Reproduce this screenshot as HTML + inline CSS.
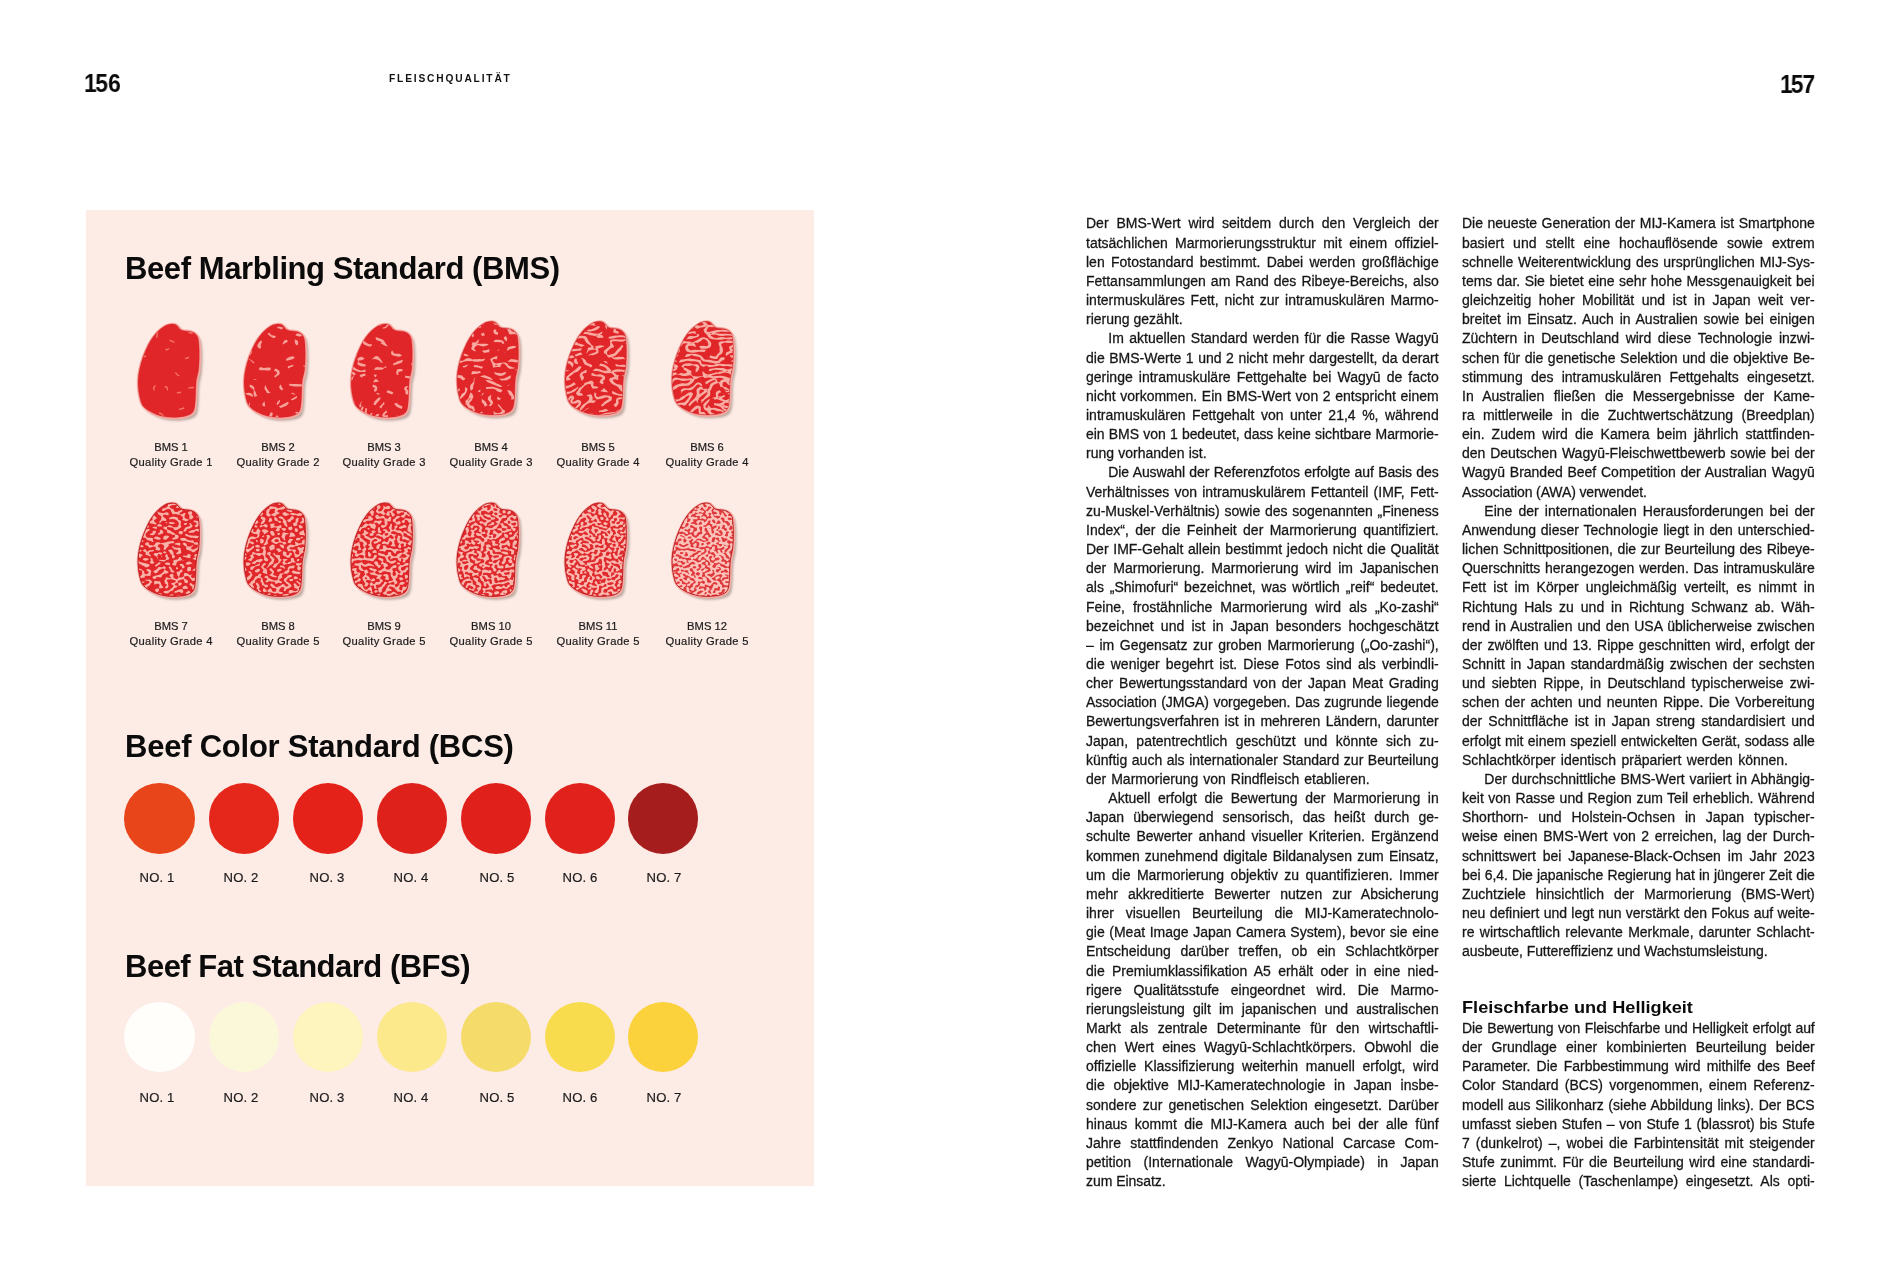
<!DOCTYPE html><html lang="de"><head><meta charset="utf-8"><title>Fleischqualität</title><style>
html,body{margin:0;padding:0}
.col,.t,.ml,.no,.rh,.pn{will-change:transform}
body{width:1900px;height:1280px;background:#fff;position:relative;overflow:hidden;font-family:"Liberation Sans",sans-serif;color:#111}
.pn{position:absolute;font-weight:bold;line-height:28px;color:#0a0a0a;white-space:nowrap;transform-origin:0 0;transform:scaleX(.9)}
.rh{position:absolute;left:389.2px;top:72.2px;font-weight:bold;font-size:10.2px;line-height:14px;letter-spacing:1.84px;color:#111;white-space:nowrap}
.panel{position:absolute;left:85.5px;top:209.7px;width:728.5px;height:976.8px;background:#fdebe5}
.t{position:absolute;left:125px;font-weight:bold;font-size:31px;line-height:36px;white-space:nowrap;color:#0b0b0b}
.meats{position:absolute;left:86px;top:300px}
.ml{position:absolute;width:106px;text-align:center;font-size:11.2px;line-height:15px;color:#1a1a1a;white-space:nowrap;-webkit-text-stroke:.2px #1a1a1a}
.ml .q{letter-spacing:.33px;margin-right:-.33px}
.circ{position:absolute;width:70.4px;height:70.4px;border-radius:50%}
.no{position:absolute;width:80px;text-align:center;font-size:13.1px;line-height:16px;color:#1a1a1a;white-space:nowrap;letter-spacing:.12px;-webkit-text-stroke:.2px #1a1a1a}
.col{position:absolute;top:214px;padding-top:0.42px;width:352.7px;font-size:14px;line-height:19.158px;color:#161616;-webkit-text-stroke:.28px #161616}
.l{height:19.158px;white-space:nowrap;box-sizing:border-box}
.l.j{white-space:normal;text-align:justify;text-align-last:justify;overflow:hidden}
.l.h{font-weight:bold;font-size:17.3px;letter-spacing:0;color:#0b0b0b;position:relative;top:-1.7px;-webkit-text-stroke:0;transform-origin:0 50%;transform:scaleX(1.05)}
</style></head><body>
<div class="pn" style="left:84px;top:68.6px;font-size:25.4px;letter-spacing:0"><span style="letter-spacing:-1.6px">1</span>56</div>
<div class="rh">FLEISCHQUALITÄT</div>
<div class="pn" style="left:1779.6px;top:69.9px;font-size:25.3px;letter-spacing:-.9px"><span style="letter-spacing:-2.2px">1</span>57</div>
<div class="panel"></div>
<div class="t" style="top:250.5px;letter-spacing:-.41px">Beef Marbling Standard (BMS)</div>
<svg class="meats" width="728" height="420" viewBox="86 300 728 420">
<defs><clipPath id="mc"><path d="M26,2.6 C29,0 35.5,-0.8 38.5,1.2 C40.5,2.6 41.5,5.8 44.5,6.4 C48,7.1 52,6.8 55,8.3 C58,10 60,12 60.5,16 C61.6,24 61.6,36 60.6,46 C60.1,50 58.8,53 58.3,57 C57.5,64 58,73 57,81 C56.6,85.5 55.5,88.5 52.5,90.3 C50,91.6 47.5,92.4 45,92.7 C41,93.3 36,93.5 32,93.3 C26,93 20,91.5 15,89 C9,86 4.5,83 3,78 C0.8,71 -0.2,63 0.1,56 C0.5,48 2.5,40 5,33 C8,25 11,18.5 15,13 C18.5,8 22.5,4.8 26,2.6 Z"/></clipPath>
<filter id="sh" x="-20%" y="-20%" width="150%" height="150%"><feGaussianBlur stdDeviation="1.3"/></filter></defs>
<g transform="translate(138 324)">
<path d="M26,2.6 C29,0 35.5,-0.8 38.5,1.2 C40.5,2.6 41.5,5.8 44.5,6.4 C48,7.1 52,6.8 55,8.3 C58,10 60,12 60.5,16 C61.6,24 61.6,36 60.6,46 C60.1,50 58.8,53 58.3,57 C57.5,64 58,73 57,81 C56.6,85.5 55.5,88.5 52.5,90.3 C50,91.6 47.5,92.4 45,92.7 C41,93.3 36,93.5 32,93.3 C26,93 20,91.5 15,89 C9,86 4.5,83 3,78 C0.8,71 -0.2,63 0.1,56 C0.5,48 2.5,40 5,33 C8,25 11,18.5 15,13 C18.5,8 22.5,4.8 26,2.6 Z" transform="translate(3.2 3.4)" fill="#7d6c62" opacity=".5" filter="url(#sh)"/>
<path d="M26,2.6 C29,0 35.5,-0.8 38.5,1.2 C40.5,2.6 41.5,5.8 44.5,6.4 C48,7.1 52,6.8 55,8.3 C58,10 60,12 60.5,16 C61.6,24 61.6,36 60.6,46 C60.1,50 58.8,53 58.3,57 C57.5,64 58,73 57,81 C56.6,85.5 55.5,88.5 52.5,90.3 C50,91.6 47.5,92.4 45,92.7 C41,93.3 36,93.5 32,93.3 C26,93 20,91.5 15,89 C9,86 4.5,83 3,78 C0.8,71 -0.2,63 0.1,56 C0.5,48 2.5,40 5,33 C8,25 11,18.5 15,13 C18.5,8 22.5,4.8 26,2.6 Z" transform="translate(.35 .35)" fill="#e1262a" stroke="#f8a9a1" stroke-width="3.3" stroke-linejoin="round"/>
<path d="M26,2.6 C29,0 35.5,-0.8 38.5,1.2 C40.5,2.6 41.5,5.8 44.5,6.4 C48,7.1 52,6.8 55,8.3 C58,10 60,12 60.5,16 C61.6,24 61.6,36 60.6,46 C60.1,50 58.8,53 58.3,57 C57.5,64 58,73 57,81 C56.6,85.5 55.5,88.5 52.5,90.3 C50,91.6 47.5,92.4 45,92.7 C41,93.3 36,93.5 32,93.3 C26,93 20,91.5 15,89 C9,86 4.5,83 3,78 C0.8,71 -0.2,63 0.1,56 C0.5,48 2.5,40 5,33 C8,25 11,18.5 15,13 C18.5,8 22.5,4.8 26,2.6 Z" fill="#e1262a"/>
<g clip-path="url(#mc)"><path transform="scale(.25)" d="M144 73l-5-3-6-2-5-3M191 138l6-2 5-2M204 256l6-1 6-1 6 0M170 274l-6 0-6 1M86 356l5 2 5 4 4 4M183 336l-5 2-6 2-6 1M204 34l6 1 6 2M79 36l-3 5 0 6-1 6M68 248l-4 5-2 6 3 5M30 129l-6 1M164 207l-5-3-5-4-3-5M109 251l6 1 2 5 1 6M112 103l6-1 5-3" fill="none" stroke="#f2746a" stroke-width="5.6" stroke-linecap="round" stroke-linejoin="round"/></g>
<path d="M26,2.6 C29,0 35.5,-0.8 38.5,1.2 C40.5,2.6 41.5,5.8 44.5,6.4 C48,7.1 52,6.8 55,8.3 C58,10 60,12 60.5,16 C61.6,24 61.6,36 60.6,46 C60.1,50 58.8,53 58.3,57 C57.5,64 58,73 57,81 C56.6,85.5 55.5,88.5 52.5,90.3 C50,91.6 47.5,92.4 45,92.7 C41,93.3 36,93.5 32,93.3 C26,93 20,91.5 15,89 C9,86 4.5,83 3,78 C0.8,71 -0.2,63 0.1,56 C0.5,48 2.5,40 5,33 C8,25 11,18.5 15,13 C18.5,8 22.5,4.8 26,2.6 Z" fill="none" stroke="#b3181d" stroke-width=".7" opacity=".3"/>
</g>
<g transform="translate(244 324)">
<path d="M26,2.6 C29,0 35.5,-0.8 38.5,1.2 C40.5,2.6 41.5,5.8 44.5,6.4 C48,7.1 52,6.8 55,8.3 C58,10 60,12 60.5,16 C61.6,24 61.6,36 60.6,46 C60.1,50 58.8,53 58.3,57 C57.5,64 58,73 57,81 C56.6,85.5 55.5,88.5 52.5,90.3 C50,91.6 47.5,92.4 45,92.7 C41,93.3 36,93.5 32,93.3 C26,93 20,91.5 15,89 C9,86 4.5,83 3,78 C0.8,71 -0.2,63 0.1,56 C0.5,48 2.5,40 5,33 C8,25 11,18.5 15,13 C18.5,8 22.5,4.8 26,2.6 Z" transform="translate(3.2 3.4)" fill="#7d6c62" opacity=".5" filter="url(#sh)"/>
<path d="M26,2.6 C29,0 35.5,-0.8 38.5,1.2 C40.5,2.6 41.5,5.8 44.5,6.4 C48,7.1 52,6.8 55,8.3 C58,10 60,12 60.5,16 C61.6,24 61.6,36 60.6,46 C60.1,50 58.8,53 58.3,57 C57.5,64 58,73 57,81 C56.6,85.5 55.5,88.5 52.5,90.3 C50,91.6 47.5,92.4 45,92.7 C41,93.3 36,93.5 32,93.3 C26,93 20,91.5 15,89 C9,86 4.5,83 3,78 C0.8,71 -0.2,63 0.1,56 C0.5,48 2.5,40 5,33 C8,25 11,18.5 15,13 C18.5,8 22.5,4.8 26,2.6 Z" transform="translate(.35 .35)" fill="#e1262a" stroke="#f8a9a1" stroke-width="3.3" stroke-linejoin="round"/>
<path d="M26,2.6 C29,0 35.5,-0.8 38.5,1.2 C40.5,2.6 41.5,5.8 44.5,6.4 C48,7.1 52,6.8 55,8.3 C58,10 60,12 60.5,16 C61.6,24 61.6,36 60.6,46 C60.1,50 58.8,53 58.3,57 C57.5,64 58,73 57,81 C56.6,85.5 55.5,88.5 52.5,90.3 C50,91.6 47.5,92.4 45,92.7 C41,93.3 36,93.5 32,93.3 C26,93 20,91.5 15,89 C9,86 4.5,83 3,78 C0.8,71 -0.2,63 0.1,56 C0.5,48 2.5,40 5,33 C8,25 11,18.5 15,13 C18.5,8 22.5,4.8 26,2.6 Z" fill="#e1262a"/>
<g clip-path="url(#mc)"><path transform="scale(.25)" d="M263 6l-13-7-15-10-9-3-2-7 14 2 7 3 7 4 5 4 2 8 2 3 3 2zM88 3l-11-6-12-2-12 0-4-1-2-1 1-1 15-4 2-2-1-3 1-1 5 6 6 1-1 1 1 3 2 1 3 1 3 0 2-1-4-4-4-1 2-1 11-3 11 3-4 4zM147-5l-7 1-8-1-4-7 14-3 3-1 1-2 1 1 3 3 3 6-1 1zM5 8l-3 0 0-4-2-6 8-3 3 5 1 5zM151 22l-10-4-8-2 1-5 11 0 11 3-2 5zM24 38l-8-2-16-3-5 0-5 1 0-1 2-7 10-2 6 0 12 3 4 7 1 3zM122 56l-1 1-6-2-9-5-8-7-3-4 1-2 5-2 7 8 3 2 16 3 1 1-1 1zM248 48l0-1 0-2 5-7 15-3 1 11-12 1zM227 49l-7 1-5-1-5-2-4-2 0-1 3-4 4-2 8 0 7 4 5 6zM214 86l-6-3-3-4-2-8 0-7 1-2 8 3 2 2 2 3 1 7zM155 82l-1-1 2-6 5-8 2-2 4-1 3-1 2 1 3 5 0 2zM64 98l-2 1-1-1-5-4-2-4-1-5 3-5 6-9 7-6 3 8-3 5-2 6 0 5 2 6zM21 126l-7 1-6-1-1-8 0-1 10 0 3-2 2-2 2-5-1-7-3-4-5-3 9-1 1 0 6 9 1 3 0 4-1 6-3 6-2 3zM265 118l-6 0-5-1-3-2-4-5-1-2-1-3 5-8 4 0 4 1 1 0-1 3 1 2 6 3 2 6zM171 147l-1 1-1-2-1-6 13-8 12-3 6 2 4 4-5 4-7 3zM277 155l-11 0-5-2-3-2-4-4-7-11 0-4 7 7 9 3 2 3 3 3 4 0 6-1 0 8zM41 156l-2 1-3-1-8-9-11-7 0-1 8 3 8 5 9 8zM178 177l-2 1-1-8 1-1 21-6 1 0-2 7-8 2zM248 173l-4 0-3-2-2-2-2-3 1-1 5 1 11 4-2 2zM100 186l-6 0-13-1-14 0-6-2-2-1 0-1 3-6 6-3 4 2 7 2 18-2 10 1-1 10zM126 214l-6-5 8-6 4-5 0-4-2-3-10-4 0-1 6-8 1 0 13 8 1 2 2 9-1 3-2 3-9 6zM47 223l-6 0-3-1-1-1 8-1 4 1 2 1zM251 265l-4 1-4-2 3-6-1-2-2-3-6-2-6-1-30 0-20-4-1-1 0-2 2-3 2-1 7 1 19 0 36 2 9 11 2 4-1 4zM152 265l-1 1-5-4-6-9 3-7 4-4 6 14 2 2 3 2zM43 291l-2 0 0-4-3-6 1-11-1-6-5-6-10-6-1-8 1-1 9 2 4 3 3 3 3 6-1 3 0 4 5 7 3 10 2 3 3 1-4 4zM106 276l-10 1-4-1-1-1-3-7-6-8 1-9 2-8 3 8 5 9 5 8zM207 284l-16-5-2-1 0-1 3-2 5 1 6 4 4 4zM37 291l-6-1-3-2-3-2-8-1-14-7 17-3 6 1 4 2 4 4 3 8zM195 305l-5-1-3-2 19-11 4-3 1 0 1 4-1 4zM134 324l-1 1-2-4 0-3 1-3 5-7 7-5 0 4-1 5-3 5zM84 329l-9-1-1-1 0-8 8-10 1 7 2 13zM148 336l-7-4-2-1 1-1 36-19 1 1 1 2 0 4-5 6-4 3-10 4zM17 334l4-22 2 6 0 6-2 5zM243 340l-8-4-6-5 7 0 6 1 2 2 0 2 0 3zM-8 360l-19-9 7-4 3 1 8 0 4 1 2 2 0 1zM219 361l-13-3 0-3 1-4 18 2zM102 383l-7-7 4-6 8-17 8 3 0 3-1 5-3 6zM118 394l-1 0 0-4 3-9 6-10 5-6 1 0 6 5-11 14-1 4 0 4-1 1zM62 392l-4-4-4-6-3-7-1-5 6 3 4 5 2 7zM186 406l-5 0-9-3-6-5-2-4-2-5 1-5 1-4 3-1 5 1-3 3 1 3 10 8 7 12z" fill="#f7a399" fill-rule="evenodd"/></g>
<path d="M26,2.6 C29,0 35.5,-0.8 38.5,1.2 C40.5,2.6 41.5,5.8 44.5,6.4 C48,7.1 52,6.8 55,8.3 C58,10 60,12 60.5,16 C61.6,24 61.6,36 60.6,46 C60.1,50 58.8,53 58.3,57 C57.5,64 58,73 57,81 C56.6,85.5 55.5,88.5 52.5,90.3 C50,91.6 47.5,92.4 45,92.7 C41,93.3 36,93.5 32,93.3 C26,93 20,91.5 15,89 C9,86 4.5,83 3,78 C0.8,71 -0.2,63 0.1,56 C0.5,48 2.5,40 5,33 C8,25 11,18.5 15,13 C18.5,8 22.5,4.8 26,2.6 Z" fill="none" stroke="#b3181d" stroke-width=".7" opacity=".3"/>
</g>
<g transform="translate(351 324)">
<path d="M26,2.6 C29,0 35.5,-0.8 38.5,1.2 C40.5,2.6 41.5,5.8 44.5,6.4 C48,7.1 52,6.8 55,8.3 C58,10 60,12 60.5,16 C61.6,24 61.6,36 60.6,46 C60.1,50 58.8,53 58.3,57 C57.5,64 58,73 57,81 C56.6,85.5 55.5,88.5 52.5,90.3 C50,91.6 47.5,92.4 45,92.7 C41,93.3 36,93.5 32,93.3 C26,93 20,91.5 15,89 C9,86 4.5,83 3,78 C0.8,71 -0.2,63 0.1,56 C0.5,48 2.5,40 5,33 C8,25 11,18.5 15,13 C18.5,8 22.5,4.8 26,2.6 Z" transform="translate(3.2 3.4)" fill="#7d6c62" opacity=".5" filter="url(#sh)"/>
<path d="M26,2.6 C29,0 35.5,-0.8 38.5,1.2 C40.5,2.6 41.5,5.8 44.5,6.4 C48,7.1 52,6.8 55,8.3 C58,10 60,12 60.5,16 C61.6,24 61.6,36 60.6,46 C60.1,50 58.8,53 58.3,57 C57.5,64 58,73 57,81 C56.6,85.5 55.5,88.5 52.5,90.3 C50,91.6 47.5,92.4 45,92.7 C41,93.3 36,93.5 32,93.3 C26,93 20,91.5 15,89 C9,86 4.5,83 3,78 C0.8,71 -0.2,63 0.1,56 C0.5,48 2.5,40 5,33 C8,25 11,18.5 15,13 C18.5,8 22.5,4.8 26,2.6 Z" transform="translate(.35 .35)" fill="#e1262a" stroke="#f8a9a1" stroke-width="3.3" stroke-linejoin="round"/>
<path d="M26,2.6 C29,0 35.5,-0.8 38.5,1.2 C40.5,2.6 41.5,5.8 44.5,6.4 C48,7.1 52,6.8 55,8.3 C58,10 60,12 60.5,16 C61.6,24 61.6,36 60.6,46 C60.1,50 58.8,53 58.3,57 C57.5,64 58,73 57,81 C56.6,85.5 55.5,88.5 52.5,90.3 C50,91.6 47.5,92.4 45,92.7 C41,93.3 36,93.5 32,93.3 C26,93 20,91.5 15,89 C9,86 4.5,83 3,78 C0.8,71 -0.2,63 0.1,56 C0.5,48 2.5,40 5,33 C8,25 11,18.5 15,13 C18.5,8 22.5,4.8 26,2.6 Z" fill="#e1262a"/>
<g clip-path="url(#mc)"><path transform="scale(.25)" d="M134 18l-5 0-5-2 12-4 3-2 4-6 4-3 27-13 17-6 6-1 1 0 1 5-1 5-10 1-5 1-12 6-9 5-4-1-4 1-4 2-9 9zM112 8l-2-2-2-4 5-2 2-2 1-3 0-3 11-1 0 5-2 4-4 4zM50 18l-9-1 0-2-2-2-6-3-25-2 11-10 22 5 5 2 3 4 2 6 0 3zM234 23l-1 1-1-1-3-5-2-12 1-1 6 2 5 7 0 5-2 2zM-1 36l-1 1-6-2-6-3-1-1 8-1 4-2 0-3-5-12 11-2 1 0 3 7 0 4-3 8zM186 20l-2 0 2-2 4 1zM252 75l-1 1-1-1-6-6 0-1 5-4 5-2 5-1-1-1-10-2-9-2-1-1 1-4 2-5 8 0 12 6 4 1 2 4 1 3-2 1 2 1 2 10-7 0zM147 90l-16-5-2-1-2-3-2-1-2 1-5-4 4-1 1-2-2-2-5-3-13-4-3-4-2-8 3 0 7 2 16 6 5 3 3 3 5 9 3 3 3 5 4 5zM80 90l-4 0-7-1-15-6-7-7-8-14 8 0 1 3 2 2 8 5 10 7 5 2 11 0-1 4zM4 76l-1 0 1-1 2-4 7-6 0 3-1 3-3 3zM-12 115l-4 0-8-5-3-3 0-2 3-4 0-4 5-5 10-4 16-1 11-1 9 0-11 4-5 4-7 1-14 4-3 2-1 1 1 1 14 9zM196 130l-5 1-6-1-16-4-5-2-3-4-1-4 1-4 3-7 5 6 1 4 3 3 6 1 12 0 5 1 3 2 5 5zM20 133l-1-1-1-2-3-6 0-4 2-3 5 3 2 5 0 4zM127 157l-7-3-8-8-5-3-13-3-4 0-3 2-3-2 0-1 6-3 5-6 2-1 5-1 7 2 12 14 6 12zM55 170l-9 0-9-2-6-3-6-5 2-5 1-6-1-4-2-5 5-5 6-3 6-1 13 6-9 7-5 1-9 1-2 1 0 2 1 4 5 3 23 6-1 7zM171 166l-3-6 0-1 1-1 5-2 13-7 17-5 4 0-5 11-7 2-11 4-9 2zM263 175l-6 0-5-1-5-3-4-4-2-4 0-4 2-4 4-3 1 1 1 8 2 3 3 2 4 1 4-1 3-2 6-10 5-3 2 0 0 16-1 1-4 5zM121 183l-18 0-11 1 0-1 7-10 16 0 14 2 5-2 4-5 1 1 3 3 0 1-1 1-7 2-7 5zM56 192l-23 0-7-2-13-5-14-9 13-4 10 8 13 5 5 1 5 0 12-4 1 1 0 8zM186 204l-1 0-2-2-2-5 0-7 3-6 3-3 3-1 15 0 1 5 0 4-10 1-5 2-2 2 0 3 0 2 2 2-1 1zM-24 264l-4 0-3-1 0-17 5-11 3-4 4-4 16-10 10-7 3-3 0-2-3-4-5-3-7 0-5 1-5 5-9 15-7 5 0-12 4-10-1-3 17-8 12-2 7 2 8 5 4 6-4 1-3 2-2 4-5 14-11 8-11-2-3 0-3 2 0 3 3 6-5 5 0 5 1 6 3 3-2 4zM45 215l-10-6 0-3 1-2 4-2 7-2 11-2-1 10-6 0-3 1-3 3zM98 213l-2 0-2-4-3-6 0-1 12 1 0 1-4 8zM240 221l-15-5-8-1-1-4 1-4 20 2 5 2 6 3 0 1-1 2zM90 234l-1 0 5-12 5-1 5 0 4 5 3 5-12 1zM95 272l-4-8 4-5 1-3-3-2-6-1-1-7 1-3 6 1 6 2 4 4 2 4 0 6-1 5-3 3zM224 284l-7-7 0-1 1-3 0-3-6-11 1-3 3-4 3-3 4-1 8 2-6 3-2 2 0 3 6 10 1 5-2 6zM165 281l-3 0-19-7 0-2 2-6 1-1 11 3 12 6 1 1zM113 282l-3 1-3-1-7-4 5-2 5 1 5 3zM98 325l-7-2-1-1 2-8 3-5 14-14 5-1 5 1 0 1-1 2-3 6-12 13zM-31 354l0-10 17-16 9-8 3-5 1-2-3-1-13 1 0-1 3-5 2-1 3-1 12 1 5-1 2 3 4 2 0 2 0 2-3 4-9 7-14 14-9 4-1 2-2 5zM36 335l-1 0-1-6-1-4 6-12 3-2 4-1-5 5-2 5 0 3 4 4-1 1zM121 338l-8-6 11-11 8-10 1 3 1 7-4 2-3 3zM203 340l-15-6-5-3-7-7-3-6 11-2 2 3 3 3 17 8zM43 361l-2-1-2-2-2-9 3-11 6-9 5 4-4 9-3 18zM63 360l-10 1-1-1 5-16 0-8 8 3-2 7 1 13zM273 359l-6 1-7-1-6-7-2-8 8 4 6 1 7 0 5-2 0 10zM144 375l-6 1-6-2-5-4-2-4 1-4 2-4 13-13 1 1 2 8-8 6-2 4 0 1 2 1 11-2 1 5 0 4zM79 367l-5-4 7-8 5 3 1 1zM107 374l-13 0 3-7 5-6 11-2 0 1-1 4zM4 402l-2 0-13-8-4-1-7 0-5-2 0-12-2-7 4-3 2-3 7 8-2 3 2 5 4 5 5 2 12 0 9-1 12-5 3-3 2-3 1 1 2 6-6 8-7 4zM191 372l-3 0-2-1-4-5 9 2 1 1 1 2z" fill="#f7a399" fill-rule="evenodd"/></g>
<path d="M26,2.6 C29,0 35.5,-0.8 38.5,1.2 C40.5,2.6 41.5,5.8 44.5,6.4 C48,7.1 52,6.8 55,8.3 C58,10 60,12 60.5,16 C61.6,24 61.6,36 60.6,46 C60.1,50 58.8,53 58.3,57 C57.5,64 58,73 57,81 C56.6,85.5 55.5,88.5 52.5,90.3 C50,91.6 47.5,92.4 45,92.7 C41,93.3 36,93.5 32,93.3 C26,93 20,91.5 15,89 C9,86 4.5,83 3,78 C0.8,71 -0.2,63 0.1,56 C0.5,48 2.5,40 5,33 C8,25 11,18.5 15,13 C18.5,8 22.5,4.8 26,2.6 Z" fill="none" stroke="#b3181d" stroke-width=".7" opacity=".3"/>
</g>
<g transform="translate(457 321.5)">
<path d="M26,2.6 C29,0 35.5,-0.8 38.5,1.2 C40.5,2.6 41.5,5.8 44.5,6.4 C48,7.1 52,6.8 55,8.3 C58,10 60,12 60.5,16 C61.6,24 61.6,36 60.6,46 C60.1,50 58.8,53 58.3,57 C57.5,64 58,73 57,81 C56.6,85.5 55.5,88.5 52.5,90.3 C50,91.6 47.5,92.4 45,92.7 C41,93.3 36,93.5 32,93.3 C26,93 20,91.5 15,89 C9,86 4.5,83 3,78 C0.8,71 -0.2,63 0.1,56 C0.5,48 2.5,40 5,33 C8,25 11,18.5 15,13 C18.5,8 22.5,4.8 26,2.6 Z" transform="translate(3.2 3.4)" fill="#7d6c62" opacity=".5" filter="url(#sh)"/>
<path d="M26,2.6 C29,0 35.5,-0.8 38.5,1.2 C40.5,2.6 41.5,5.8 44.5,6.4 C48,7.1 52,6.8 55,8.3 C58,10 60,12 60.5,16 C61.6,24 61.6,36 60.6,46 C60.1,50 58.8,53 58.3,57 C57.5,64 58,73 57,81 C56.6,85.5 55.5,88.5 52.5,90.3 C50,91.6 47.5,92.4 45,92.7 C41,93.3 36,93.5 32,93.3 C26,93 20,91.5 15,89 C9,86 4.5,83 3,78 C0.8,71 -0.2,63 0.1,56 C0.5,48 2.5,40 5,33 C8,25 11,18.5 15,13 C18.5,8 22.5,4.8 26,2.6 Z" transform="translate(.35 .35)" fill="#e1262a" stroke="#f8a9a1" stroke-width="3.3" stroke-linejoin="round"/>
<path d="M26,2.6 C29,0 35.5,-0.8 38.5,1.2 C40.5,2.6 41.5,5.8 44.5,6.4 C48,7.1 52,6.8 55,8.3 C58,10 60,12 60.5,16 C61.6,24 61.6,36 60.6,46 C60.1,50 58.8,53 58.3,57 C57.5,64 58,73 57,81 C56.6,85.5 55.5,88.5 52.5,90.3 C50,91.6 47.5,92.4 45,92.7 C41,93.3 36,93.5 32,93.3 C26,93 20,91.5 15,89 C9,86 4.5,83 3,78 C0.8,71 -0.2,63 0.1,56 C0.5,48 2.5,40 5,33 C8,25 11,18.5 15,13 C18.5,8 22.5,4.8 26,2.6 Z" fill="#e1262a"/>
<g clip-path="url(#mc)"><path transform="scale(.25)" d="M86 26l-6-5-5-3-11-2-12 0-11-13-6-4-4 0-5 1-9 4-4-1-3-2-2-3 0-4 1-4 8-7 3-4 2-1 6-1 12 0 4-2 8-6 15 0-7 8-3 2-5 1-6-2-4 0-11 8-10 4-2 2 3 2 19 5 12 2 4 4-5 3 0 1 3 1 16-1 12-8 5-2 17 2 1 1 1 4 0 6-10 0-10-5-4 0 10 8 5 8zM223 3l-7-1-5-4 4-2 9 0 4-1 13-10 5 1 7 0-3 8-5 5-6 2-11 0zM163 14l-6 0-5-1-5-4-2-5 1 0 6 4 8 2 3 3zM242 52l-4 1-10-3-13 2-6-2-2-2 0-5-3-3-2-8-6-9 2-4 3-2 3-1 2 3 7 5 3 3 1 8 1 3 7 3 7 0 4 0 2-2 0-8 2-3 13-7 9-7 6 6-9 8-3 4-1 3 0 2 2 2 5 2-4 4-4-2-5 0-1 1 0 4zM64 64l-6-6-2-4-11-8-7-4-12-4-12-1-6 0 1-6 5-2 9-1-3-1-9-1 1-3 2-2 3 0 9 3 4 3-2 1 10 7 4 5 3 3 2 0 4-2 14 7 2 3 1 3-2 6zM164 53l-8-1-5-2-3-3-3-9 4-7 4 1 5 3-2 3-1 2 2 1 6 1 1 5zM101 58l-1 1-1-2-3-9 1-1 5 1 5-4 2 4 2 9-6-1zM37 69l-21-3-2-8 8-1 13 2 8 0 1 1zM198 79l-3-2-5-5-2-4-1-5 6-3 3-2 3 7 2 4-2 10zM75 119l-3 0-5-2-10-6 0-1 1-5 4-11-1-1-3-1 5-9 7 1 5-1 2-2 7-7 5-2-3 7 0 5-5 2-2 2 8 1 31 0 8 2-1 2-3 2-16 5-6-1-14-4-4 0-3 1-7 6-3 5 1 4 5 6 1 1zM185 89l-3 1-1-1 0-2 0-2-5-2-30-1 5-8 1-1 11 0 13 1 7 3 5 5 1 6zM22 91l-7-1-10-3-13-3-5-3-2-4 4 1 7-1 6 4 3 0 11-2 6 0 1 1-1 4 1 7zM3 111l-11-7-10-4-3-10 3 0 6 2 25 15zM278 101l-26 1-5-1 3-1 18-7 7-1 3 1zM200 117l-1 0 1-3 3-10 1-1 12-4 6-1 10 0 6 3-10 6-15 3zM-24 122l-7 1 0-13 7 0 12 1 8 1 1 1-5 3-1 5zM112 125l-3 1-5-5-5-3 5-2 10-1 11-3 5-1-1 12-11 1zM162 117l-2 0 5-4 4 0 2 1zM189 125l-2-3 0-2 3 3zM41 139l-8-1-8-4 0-1 5-4 5 1 6 3 6 4-1 1zM220 189l-7 0-5-1-5-4-10-12-4-3-5-1-3 0-3 2-3 6-2 7-7-1-10 0-11 3-4-16-7-14-1-4 3-3 15-7 6-2 5 0 1 1-2 2-1 3 1 6-13-1-3 1-2 2-1 3 1 2 5 6 4 3 4 1 19-3 15-1 6 1 5 3 4 7 3 2 16 7 9 1-5 3zM14 166l-3 1-1-1-1-5 1-4 13 0 13-8 5-2 7 0 7 1 2 1 4 3 5-1 14 0 9-1 12 1 11-3-1 4-2 3-4 3-5 1-17 2-19-1-4-3-3 2-10-1-13 1-8 2zM258 166l-3 0-36-5-12 0-6-2 5-2 10-7 15 2 30 6 1 1 0 1zM32 183l-5 1-5-3 0-1 16-6 6-2 1 1-7 7zM98 189l-12-5-19-2-1 0 2-4 1-4 12 1 12 4 12 2zM160 177l3-1 1-1-8-2-3 1-2 1 3 2zM246 195l-11 0-3 0 0-1 3-2 3 0 10 2zM62 211l-5 0 3-11 4-1 7 0 13 1 8-2 1 1 0 4 4 2-17 4zM250 214l-2 1-11-5 25-12 10 2 6-1 0 4-18 5zM178 217l-5 1-6-1-15-6-3-8 1-1 8 3 21 2 5-1 3-3 11 0-4 6-4 4-4 2zM26 235l-2 1-11-9-21-5 0-1 5-4 9-3 14 2 2 1 3 5 3 3 5 1-1 5zM144 234l-10-1-21-7-13-4-4 0-2-3 13-4 7 1 12 5 6 2 6 5zM198 235l-20 1-10-8 12 1 9-1 8-4 18-9 0 6-1 6-11 6zM56 277l-4-11 1-10 2-3 9-9 2-5 2-12 3-4-2 15 0 11-3 5-1 4-1 12zM181 262l-9 0-4-1-12-5-14-5-13-6-7-2-3-5-6-3 4-1 7 0 9 2 9 3 9 4 9 6 5 1 7 4 6 4zM249 313l-7 0-5-2 0-1 13-5 6-4 7-7 3-6-1-4-7-9-2-5-1-6 1-7 4-5 10-6 5-5 2 0 1 0 0 5-6 3-3 3-1 10-4 10-1 4 1 3 4 7 1 3-1 4-4 6 4-1 10-3 0 10-9 4zM202 259l-1 0 3-4 5-3 1 1zM-3 283l-5 0-5-2-4-3-2-4-1-4 0-4 6-9 10-1 3 0-8 12 0 4 2 2 6-1 12-6 0 5-1 6zM177 282l-1 1-4 0-6-2-5-2-7-7-8-3-20 0-9 1-1 0 0-1 1-7 7 0 17-1 16 4 16 6 9 3zM-8 335l-3-1 2-3 12-15 11-16 5-10 1-1 7-4 4-4 1-3 0-5 1-3-1-3 0-4 0-1 4 2 5 4 1 3-2 6-5 12-4 5-13 13-4 2-3 3-12 20-3 2zM88 282l-5-1 4-5 6-4 1 3-1 4-1 2zM230 311l-13 1-1-1 2-6 0-3-11-13-1-5-5-8 0-1 11 1 4 3 3 3 3 5 7 14 0 5 2 4zM62 373l-6-1-4-3 9-10 2-4-1-4-3-2-9-2-4-2-5-7-2-7-4 4-1-1 1-9-2-7 9-7 4-5 4-13 5-10 7 8 0 3 2 1 1 2 0 6-6 13-9 9 0 5 1 3 2 2 10 3 4 2 5 14-6 14zM99 299l-1-3 2-6 3-3 4-2 1 0-2 4-6 7zM134 339l-7-3 0-1 3-2 3-3 1-4-2-3-8-10-1-5 1-4 2-3 10-8 1 1-2 15 8 11 1 5-2 6zM168 314l-1 1-7-6 1-5 2-4 6 5 8 4zM46 318l8-10 0-3-3 2-3 4-3 6 0 1zM111 341l-1-1-1-5-2-4-9-10 1-5 0-8 3 4 8 5 3 2 9 16-6 3zM262 340l-4 1-4-1-7-9 20-2 0 2-1 7-1 1zM154 375l-1 1-7-4 1-5-1-9 8 7 7 1 7 0 5-2 4-2 2-4 0-3-2-4-13-15-1-3 0-2 5 2 4 4 11 14 4 3 4 1 1 4-1 5-1 2-4 2-3 4-3 1-3 1-5-2-6-1-6 1zM194 388l-4-1-4-4 0-7 4-4 2-5 2-1 11-1 14-4 33-4 3-2 6-8 4-2 0 4 4 6 0 1-3 2-20 11-20 2-24 7-3 2zM31 406l-9 0 0-2 2-3-1-2-1 3 0 2-2 2-5 0-4-6 1-5 1-6-1-4-3-3-5 0-10 2-7-3-7 0-2-1-9-1 0-9 6 1 6-1 9-6 7-9 6-2 4 1 2 2 0 1-10 9-4 6 11 0 6 1 4 7 6 3 3 7 1 1 12-7 5 0 5 2-13 12-2 4-1 4zM90 373l-1 1-1-1 1-3 2-3 4-4 5-2 5 1-5 5zM136 403l-4-3-1-11-1-1-2-1-8 1-6 1-19 11-8-1-2-1 0-2 24-14 11-5 4-1 7 3 6 0 6 6 0 3-6 5-2 3 0 3 2 4z" fill="#f8aaa0" fill-rule="evenodd"/></g>
<path d="M26,2.6 C29,0 35.5,-0.8 38.5,1.2 C40.5,2.6 41.5,5.8 44.5,6.4 C48,7.1 52,6.8 55,8.3 C58,10 60,12 60.5,16 C61.6,24 61.6,36 60.6,46 C60.1,50 58.8,53 58.3,57 C57.5,64 58,73 57,81 C56.6,85.5 55.5,88.5 52.5,90.3 C50,91.6 47.5,92.4 45,92.7 C41,93.3 36,93.5 32,93.3 C26,93 20,91.5 15,89 C9,86 4.5,83 3,78 C0.8,71 -0.2,63 0.1,56 C0.5,48 2.5,40 5,33 C8,25 11,18.5 15,13 C18.5,8 22.5,4.8 26,2.6 Z" fill="none" stroke="#b3181d" stroke-width=".7" opacity=".6"/>
</g>
<g transform="translate(565 321.5)">
<path d="M26,2.6 C29,0 35.5,-0.8 38.5,1.2 C40.5,2.6 41.5,5.8 44.5,6.4 C48,7.1 52,6.8 55,8.3 C58,10 60,12 60.5,16 C61.6,24 61.6,36 60.6,46 C60.1,50 58.8,53 58.3,57 C57.5,64 58,73 57,81 C56.6,85.5 55.5,88.5 52.5,90.3 C50,91.6 47.5,92.4 45,92.7 C41,93.3 36,93.5 32,93.3 C26,93 20,91.5 15,89 C9,86 4.5,83 3,78 C0.8,71 -0.2,63 0.1,56 C0.5,48 2.5,40 5,33 C8,25 11,18.5 15,13 C18.5,8 22.5,4.8 26,2.6 Z" transform="translate(3.2 3.4)" fill="#7d6c62" opacity=".5" filter="url(#sh)"/>
<path d="M26,2.6 C29,0 35.5,-0.8 38.5,1.2 C40.5,2.6 41.5,5.8 44.5,6.4 C48,7.1 52,6.8 55,8.3 C58,10 60,12 60.5,16 C61.6,24 61.6,36 60.6,46 C60.1,50 58.8,53 58.3,57 C57.5,64 58,73 57,81 C56.6,85.5 55.5,88.5 52.5,90.3 C50,91.6 47.5,92.4 45,92.7 C41,93.3 36,93.5 32,93.3 C26,93 20,91.5 15,89 C9,86 4.5,83 3,78 C0.8,71 -0.2,63 0.1,56 C0.5,48 2.5,40 5,33 C8,25 11,18.5 15,13 C18.5,8 22.5,4.8 26,2.6 Z" transform="translate(.35 .35)" fill="#e1262a" stroke="#f8a9a1" stroke-width="3.3" stroke-linejoin="round"/>
<path d="M26,2.6 C29,0 35.5,-0.8 38.5,1.2 C40.5,2.6 41.5,5.8 44.5,6.4 C48,7.1 52,6.8 55,8.3 C58,10 60,12 60.5,16 C61.6,24 61.6,36 60.6,46 C60.1,50 58.8,53 58.3,57 C57.5,64 58,73 57,81 C56.6,85.5 55.5,88.5 52.5,90.3 C50,91.6 47.5,92.4 45,92.7 C41,93.3 36,93.5 32,93.3 C26,93 20,91.5 15,89 C9,86 4.5,83 3,78 C0.8,71 -0.2,63 0.1,56 C0.5,48 2.5,40 5,33 C8,25 11,18.5 15,13 C18.5,8 22.5,4.8 26,2.6 Z" fill="#e1262a"/>
<g clip-path="url(#mc)"><path transform="scale(.25)" d="M123 17l-17-2-22 2-16-2-8-3-6-4-2-4 1-5 2-3 2 0 6-3 22-4 18-2 5-3 5-10 6-4 2-1 15 0-11 10-5 3-2 3-1 4-1 1-10 3-8 4-5 2-7 0-13 0-6 1-3 2 0 1 4 4 8 2 15-2 26-1 1 1 1 5 1 2 4 2zM215 49l-16-3-5-2-1-2 1-8 10-16 7-6-1-1-11-3-5-3-6-11 1-3 7-4 22-8 16-4 12-6 15 0-6 5-16 9-12 5-18 4-5 4 0 1 2 1 9 4 4 0 11-4 12-3 15-6 15-4 6-6 0 17-3 0-4-3-5-2-4-1-3 1-4 3-2 4-10 2-9 7 0 1 1 1 13 5-4 4-6 3-16-8-16 14-3 4 0 3 2 3 9 3 0 4zM-8 29l-5 0-18-3 0-22 2-9 3-1 4-4 7-1 5 3 6 2 7 0 6-3 11 4 5 3 2 3 1 6-1 4-2 3-1-3-2-2-5-3-1-2-2-2-5-2-8-1-11 1-5 1-3 2-6 6-3 5-1 3 3 2 4 2 3 1 13-4 9 0-3 4zM167 33l-7-14 2-8-2-5 2-10 1 0 5 5 4 9-1 5-3 9zM223 11l2-2-1-1-3 0-2 2 2 2zM103 40l-8 0-8-2-1-1 9-5 12-1 7-3 13-7 1-2-1-1 12 2 0 3-1 2-9 7-9 4zM25 38l-2-8 7-5 8-3 6-1 20 0 8 1 1 1-13 4-3 0-4 1zM243 50l-7 0 13-16 7-5-3 13-2 4-3 3zM132 66l-4-5-7-3-20-3-14-5-15 0 8-9 20 3 12 3 19 2 5-1 14-9-2 10-7 3 0 1 8 2 6 9-5 1zM62 51l-21-1-13-2-1 0-1-7 12 0 13 2 6 0 6 7zM129 56l2-1 1-1-3-1-3 2-1 1 2 1zM240 153l-2-3-5 0-21 2-9 0-9-2-5-5-3-2-12 1-2-1-7-11-4-3-5-2-1-6 2-5 20-16 4-4-1-3 1-8-2-9 6-3 10-2 20 1 19 0 4-1 3-3-1-2-5-3-16 0-7 0-20 5-12 1-5-1-1-6 8-2 13-3 29-2 9 1 8 2 5 2 3 2 3 7 0 2-2 2-5 3-12 4-9 1-14-2-15 0-4 0-3 2-2 2 0 2 5 5 1 4 4 4 0 3-3 3-8 2-4 3-11 10-2 5 1 7 1 2 2 1 4 0 20-6 4-3 9-12 13-12 5-8 1 0 5 6 0 1-3 3-5 10-11 11-9 10-4 3-10 4-1 1 5 2 4 0 15-3 13 1 5-1 8 8 1 3zM95 138l-1-1 1-2 6-5 18-6 5-3 2-2-1-3-4-3-3-1-19 3-5 3-6 7-4 3 0-1 3-5 3-7 1-5 0-4 1-1 11-2 1-1 1-2-4-5-12-7-5-5-3-4-4-10-6-2-11 0-20 3-3 2-1 1 0 2 3 3 16 10 16 4 9 5-7 1-6 4-14-6-12-2-4-2-7-8-8-8 0-2 3-3 1-3 15-7 13-3 13-1 11 1 6 2 3 3 2 3 5 11 12 16 9 7 0 1-2 3 0 1 5 4 4 0 2-2-1-2-3-4 3-2 19-4 16 3 0 1-6 3-16 5-3 1-1 3 2 7 0 4-1 3-4 3-6 3-12 4-10-1-4 2zM-3 76l-3 1-1-1-4-5 10-5 1-2 0-2 1-1 4 1 7 0-1 6 1 3-1 1-3 2zM248 93l-2 1-4-8 13-7 12-3 8 7-1 1-14 4zM-27 110l-4 0 0-10 9 2 5 0 15-4 1-1 0-1-3-3-2 0 2-1 1-1-1-5 1-1 8 5 3 3 2 9-2 3-4 2-8 2-13 0zM278 110l-10-1-13-1-7-10 4-1 5 0 21 3zM-19 137l-4-2-1-2 1-5-1-4 1-2 2-1 23-7 7-1 12 1 13-4 18-1 14-3-1 9-1 1-30 3-14 0-15 5-16 2-3 1-3 3zM278 153l-1 0-3-3-4-3-14-4-4-3-1-3 0-3 4-2 2-3 0-2-5-5 2-8 1 0 7 6 3 5 0 8-6 8 2 1 17 2zM44 140l-6-6 17-8 10-2 2 5 3 3-16 4zM26 147l-13 0-9-3-1 0 2-4 1-4 15 1 10-2 3 4 5 4-8 3zM176 140l-1-1-1 1 1 1zM29 187l0-4-1-3-9-10-25-10-25-7 0-9 13 3 11 5 15 3 14 4 5 3 6 5 1 3-1 6zM105 183l-2 1-5-4-14-6-6-3-4-7-5-13-3-3-3-2 1-1 4 1 8 3 6 6 5 9 4 3 11 4 4 2 3 4-1 3zM53 171l-12-3-3-2-1-2-1-6 0-4 3-4 4-3 2 1 3 6 1 1-3 2 4 3zM170 169l-8-4-8-5 1-1 4-1 5 1 2 1 5 8zM11 199l-6 0-8-6-10-9-18-9 0-9 7 1 5 2 13 12 9 6 1 4 3 3 4 2 6 0 1 1zM242 286l-9-2-6-4-7-6-5-8-4-4-7-5-10-4-5-3-4-3-8-11-1-2 3-4-1-3 6-1 6-3 6-1 2-1-1-2-2-4-7-7-4-2-17 1-7 0-25-8-7-1-12 0-3-1-1-1 4-4 6-4 14 2 18 7 8 0 8-1 0-1-8-10-5-3-8-3-13-2 5-8 1-1 16 4 11 7 8 7 8 10 1 1-4 2 3 2 2 0 1-1-1-2 1-1 13-5 7-1 10 0 12 2 13 1 6 1 1 6 3 3 3 2 5 1 1 5-2 5-2 3-4 1-12 1-7 2-4-7-3-3-2 0 20-1 6-1 1-1 1-1-4-3-16-5-7-2-30 2-1 0 0 1 10 10 4 2 6 0 1 1-3 3-1 3-1 4 2 7-1 1-14-3-5 1-3 2 1 3 4 5 9 7 5 2 13 2 6 3 1 3-1 5 0 5 1 2 2 2 20 6 0 1-7 1-2 2zM278 200l-20-13-9-4-46-4-1-9 1-1 8 4 5 1 18-1 10 1 18 4 6 4 6 7 4 3zM12 236l-5 0-2-2-1-2 1-9 3-4 13-12 15-10 15-13 6-6 4 2 5 0 0 1-4 8-7 8-6 4-13 5-8 7-12 9-1 3 5 2 1 3 2 3zM-30 273l-1 1 0-6 9-3 3-2 1-3 1-5-2-7-1-9 3-14 1-2 5 0 3-1 2-3 0-4-1-4-2-2-3 0-3 1-2 2-1 3 0 7 0 3-5 4-8 4 0-12 2-2 1-2-3-1 0-22 12 6 11 0 4 4 4 2 0 4-7 14-2 12-3 12 1 4 9 2 7 3 5 0 10-3 16-11 2 1 5 7-1 1-16 9-20 7-8 1-12-2zM69 237l-4-3 0-4-5-9-1-6 1-5 3-4 3-3 9-4 7-5 5 0 1 1-2 5-1 6-10 1-3 2-2 3 0 3 5 6 1 3-1 4zM149 252l-8-6-2-2-1-2 5-10 7-6-1-2-6-3-28-3-10-3 2-8 1-2 12 6 4 2 4 0 11-2 7 1 7 3 6 5 2 3-1 4 0 4-8 6 0 3 4 5-4 3zM206 224l-1-1-1 1 1 1zM260 246l-1-4-3-1-25 0 2-9 22 0 6 1 2 2 3 4zM69 296l-9 1-11-1-1-2-1-3-3-3 0-2 9-12 4-8 6-3 11-9 3-4 1-4 2-1 20-7 9-2 1 1 0 4 4 1 1 1-2 10 1 4 3 2 11 1 4 2 2 2-7 4-17 0-1-1-2-4-2-3-2-7-1-2-2-1-5 0-10 3-5 3-14 14-2 3-4 9-1 3 1 1 7 1 3 4 3 3 0 1zM272 269l-7 0-5-1-5-2-2-2-1-3 0-4 6-9 1 0 0 3 2 3-2 2 0 2 2 1 6 1 6 6 5 2 0 1zM-22 348l-9-2 0-4 6-6 8-13 1-3 1-3-2-4-3-3-4-1-7 0 0-6 5-4-3-2-1-1 1-1 9-5 7-6 3-2 5-1 16 0 9-1 5-2 10-7 9-4 3-2 2-4 5 3 0 1-6 5-6 7-8 5-20 8-23 3-3 1-3 2 1 2 4 5 1 5-3 10 0 11zM172 283l-16-1-14-3 3-5 5-1 3-1-2-3 1-2 1 0 4 1 5 4 10 10 1 1zM246 299l-10 0-18-2-27-7-2-1-1-11 4 1 17 9 7 2 6 1 11-1 7 0 2 1 1 3 4 4 0 1zM151 340l-8-5 6-4 10-11 15-9 2-2-1-2-4-3-6-1-19 6-20 3-1-3-4-3-4-9 0-8 1-5 1-1 2 3 5 2-2 4 0 3 3 5 3 2 7-1 14-5 9-1 18 2 2 1 2 3 3-1 3 2 0 2-1 4 0 4-2 4-26 16zM27 376l-1-1-1-7 7-3 13-3 8-4 6-6 4-9 5-7 5-4 14-10 7-7 3-6 0-5-2-3-10-6 17-4 4 2 2 3 2 7 1 7-2 5 3 1 9-1 2 0-2 5-3 4-5 2-9-1-4 0-12 5-6 5-8 10-9 9-7 9-4 4-11 6zM28 361l-5 1-1-1-1-6 22-13 10-12 2-5-2-1-10 4-8 1-6 0-5-2-3-4 0-4 1-5 5-9-1 0-4 3-4 6-9 21-2-2-3-5 0-6 14-22 4-3 6-1 3 0 2 3 3 2 1 2-1 6-7 10 1 2 4 0 14-7 6-1 3 1 3 2 4 4 1 4-2 8-5 7-9 7-11 11-6 3zM202 343l-4-6-4-3 1-2 9-7 0-2 0-6 0-3 2-5 2-2 6-3 9-1 14 3 4 2 3 3 3 7-1 9 2 3 5 3 0 1-8 1-5 2-5-3-1-2-1-3 0-6 4-7-1-2-2-2-3-2-7 0-8 2-3 1 0 2 2 7-1 6-5 9zM5 366l-6 1-5-2-4-4 0-5-3-4 7-11 6-13 2 4-2 21 3 4 8 7zM79 356l-1 1-1-1 9-7 6-3 3-1 1 1zM155 399l-7 1-11-1-2 0-6-6-1-3 1-5 3-5 3-2 1-3 1-1 4-2 21-6 41-5 8-6 4-2 12-4 7-1 3 0 2 3 3 2 5 1 7-2 6-4 4 1 10 9 4 8 0 12-4 2-9 3-12-2-31-8-8 1-1 3-6 10-2 0-2-2-2-11-1-2-2-1-10 1-23 4-15 0-6 5-2 3-1 3 2 2 11 1 1 4 3 4zM135 363l0-1 1-3 3-4 4 1 4-1 16-6 11 7-17 6-15 0zM268 373l2-1 1-3-1-5-4-6-5-2-15-1-9 3-16 3-4 2 0 1 7 2 17 2 20 5 4 1zM49 406l-9 0 4-7 5-19 5-6 8-8 15-10 1 1-4 3-3 4-3 9-7 5-3 4-4 13zM208 368l1-1-1-1-1 1zM89 386l-5-3-2-3 10-6 13-6 11 2-1 1-4 3-9 4zM22 406l-13 0 5-10-2-13 0-3 2-4 4-3 3 7 0 5 5 11-1 6-2 3zM258 393l-24 1-1-10 15 2 11 0 11-2 8-4 0 9-8 1z" fill="#f8aaa0" fill-rule="evenodd"/></g>
<path d="M26,2.6 C29,0 35.5,-0.8 38.5,1.2 C40.5,2.6 41.5,5.8 44.5,6.4 C48,7.1 52,6.8 55,8.3 C58,10 60,12 60.5,16 C61.6,24 61.6,36 60.6,46 C60.1,50 58.8,53 58.3,57 C57.5,64 58,73 57,81 C56.6,85.5 55.5,88.5 52.5,90.3 C50,91.6 47.5,92.4 45,92.7 C41,93.3 36,93.5 32,93.3 C26,93 20,91.5 15,89 C9,86 4.5,83 3,78 C0.8,71 -0.2,63 0.1,56 C0.5,48 2.5,40 5,33 C8,25 11,18.5 15,13 C18.5,8 22.5,4.8 26,2.6 Z" fill="none" stroke="#b3181d" stroke-width=".7" opacity=".6"/>
</g>
<g transform="translate(672 321.5)">
<path d="M26,2.6 C29,0 35.5,-0.8 38.5,1.2 C40.5,2.6 41.5,5.8 44.5,6.4 C48,7.1 52,6.8 55,8.3 C58,10 60,12 60.5,16 C61.6,24 61.6,36 60.6,46 C60.1,50 58.8,53 58.3,57 C57.5,64 58,73 57,81 C56.6,85.5 55.5,88.5 52.5,90.3 C50,91.6 47.5,92.4 45,92.7 C41,93.3 36,93.5 32,93.3 C26,93 20,91.5 15,89 C9,86 4.5,83 3,78 C0.8,71 -0.2,63 0.1,56 C0.5,48 2.5,40 5,33 C8,25 11,18.5 15,13 C18.5,8 22.5,4.8 26,2.6 Z" transform="translate(3.2 3.4)" fill="#7d6c62" opacity=".5" filter="url(#sh)"/>
<path d="M26,2.6 C29,0 35.5,-0.8 38.5,1.2 C40.5,2.6 41.5,5.8 44.5,6.4 C48,7.1 52,6.8 55,8.3 C58,10 60,12 60.5,16 C61.6,24 61.6,36 60.6,46 C60.1,50 58.8,53 58.3,57 C57.5,64 58,73 57,81 C56.6,85.5 55.5,88.5 52.5,90.3 C50,91.6 47.5,92.4 45,92.7 C41,93.3 36,93.5 32,93.3 C26,93 20,91.5 15,89 C9,86 4.5,83 3,78 C0.8,71 -0.2,63 0.1,56 C0.5,48 2.5,40 5,33 C8,25 11,18.5 15,13 C18.5,8 22.5,4.8 26,2.6 Z" transform="translate(.35 .35)" fill="#e1262a" stroke="#f8a9a1" stroke-width="3.3" stroke-linejoin="round"/>
<path d="M26,2.6 C29,0 35.5,-0.8 38.5,1.2 C40.5,2.6 41.5,5.8 44.5,6.4 C48,7.1 52,6.8 55,8.3 C58,10 60,12 60.5,16 C61.6,24 61.6,36 60.6,46 C60.1,50 58.8,53 58.3,57 C57.5,64 58,73 57,81 C56.6,85.5 55.5,88.5 52.5,90.3 C50,91.6 47.5,92.4 45,92.7 C41,93.3 36,93.5 32,93.3 C26,93 20,91.5 15,89 C9,86 4.5,83 3,78 C0.8,71 -0.2,63 0.1,56 C0.5,48 2.5,40 5,33 C8,25 11,18.5 15,13 C18.5,8 22.5,4.8 26,2.6 Z" fill="#e1262a"/>
<g clip-path="url(#mc)"><path transform="scale(.25)" d="M196 73l-12 0-12-1-10-1-6-1-4-2-4-3-5-6-4-7-9-8-3-7-1-3 1-2 6-6 2-4 4-3 0-2-3-1-1 5-2 1-19 2-12 5-2 0-7-4-6-5 2-2 1-4 4-1 14 4 6 0 6-1 6-3 1-1-1-2-5-4-6-3-22-3-10-3-7-4-11-10-11-4-1-3-2-2-4-1-11-2-2-2-2 1-2-1 23 0 5 2 8 4 12 9 8 4 15 5 20 4 8 3 9 6 5 6 2 2 6 0 11-2 6 2 13 1 10 3 3-1 2-1 9 4 12 2 23-1-1-2-11-8-2-4 1-9 6-9-1-3-2 0-5 1-10 2-6 3-4 4-4 10-5 4-8-9 6-1 4-2 2-3 3-7 2-3 4-3 5-2 7-1 7 2 14 0 6 1-3 3-3 11-3 7 2 5 6 6-3 5 0 4 1 4 3 5-38-3-4-1-10-5-5-1-15 1-25-1-5 1-2 2-6 12 2 3 6 2 6-1 22-6 6-1 13 0 13-1 22 2 22-1 4 3 5-3 0 6-1 2-3 2-3 1-10-1-18-3-16 0-12-1-26 6 4 1 20 2 26 0 20 2 14 1 11-2 13-6 0 10-7 2-5 0-2 3-3 2 3 2 0 8-15-2-20 3-16-2zM156-3l-28-4-7-2-13-6-1-6 7 3 20 1 20 3 10 3 0 1-4 3zM278 12l-6-1-5-3-7-1-6-5-3-5 1-7 1-2 4-2 5-1 9-1 7 0 0 9-10 2-3 2 1 2 3 1 9 3zM14 21l-5 0-5-1-14-7-21 0 0-10 21 2 15 6 4 1 17-1 12-3 9-1 15 1 11 4 1 0 1-1-1-2-4-2-20-7-5-1-14 0-19 5-7-1-27-11-4 0-5 0 0-7 5 1 8-1 4 1 7 3 7 5 3 1 8-1 19-5 5 4 4 1 4 0 5-3 7 1 8 3 10 6 4 4 2 5 0 2-1 2-4 2-19-1-24 2zM13 39l-4-1-13-6-27-2 0-9 24 2 17 6-1 3 0 2zM42 35l-1 0-8-4 0-1 17-6 13-3 13 0 4 4 7 5-11-1zM56 50l-1 0-3-4 1-1 12-3 24-3 4 0 5 10-1 0-7-1-8-1-12 2zM-15 134l-7 0-3-1-3-2-3-5 0-7 1-1 3 3 3 9 2 1 2-2 3-5 8 1 6-1 11-2 8-4 4-2 1-2-2-7 2-8 8-9 1-2-2-1-8 2-16 5-1 2 1 4 0 7-21 11-1-2 1-7 9-4 3-2 0-2-3-4 1-3-3-3 0-2 6-3 6-2 30-4 2-1 0-1-2-2-4-1-23-1-8-2-2-1 0-1 4-3-1-1-16 0-1-1 1-1 3-2 18-5 5-2 2-2-2-1-5-1-26 1-8 1 0-9 34-2 11 2 4 2 3 10-2 3-8 5 0 1 15 3 4 4 8 1 5 4 17 3 11 0 9 4 5-1 6-4 12-6 7-5 6-3 3-1 12-1 4 3 5 0 2 2 12 13 3 6 0 3-1 8-2 3-3 3-7 3-7 2-13 0-5 0-6-2-1-1-3-8 4 0 12-1 13 2 5-2 2-3 0-4-3-10-4-5-7-4-6-1-3 2-8 7-11 6-3 1-3-2-3-1-1 1-1 3-5 1 0 1 5 1 2 6 3 5-3 0-14-4-8 0-5 1-3 3 0 3 2 5 4 4 2 1 3 1 15-2 16 1 13-2 18 1-4 4-3 5-20-1-18 3-10 1-14-2-6-2-4-2-2-3-2-5-1-5 0-6 3-6 7-5-2-1-3-1-11 1-3 1-4 6-9 8-1 2 1 6 0 7-1 3-2 2-6 3-10 3zM157 50l3-2-1-1-5 0-2 2 2 2zM58 71l-4 0 3-1 5-3 1-2 0-4 12-3 15 1 5-1 3-1 2-2 0-2-1-3 4 1 5-1 1 3-1 3-3 5-2 1-27 8zM179 66l12-3 5-1 9 1 12 2 20-2 11-2-1-1-8-2-8-2-15 0-17 2-10-1-16-5-8 1-8 0-2 1 0 2 2 2 11 7 5 1zM179 150l-7 0-16-3-4-2-3-3 6-7 6 3 5 1 6 1 4-1 5-7 9-9 1-3-1-8 1-9-3-7-2-9 1-3 5-3 7-2 12 0 10-3 7 0 12 1 13 4 5 3 1 4 1 3-1 4-2 3-5 3-12 4-2 1 0 2 3 2 5 2 12 0 9-3 7-6 3 7 0 1-15 10 0 2 5 4 2 3 0 8-1 3-4 2-6 1-21 1-6-9 1-1 18 0 5-1 2-1-1-3-5-5 0-1 3-3-1-2-1-1-5-2-5 1-1 2 3 4 0 1-10 3-5 2-2 1-1 2-3 1-5 5-3-4 0-4 1-4 2-3 11-4 3-2 0-2-3-7-1-7 18-10 2-2-3-2-5-1-16 0-11-2-6 1-8 4-2 3 0 3 4 7 2 6 1 11-3 7-3 4-10 6-6 12zM38 82l-1-1-1 1 1 1zM79 88l-3-1-4 1 4 1zM181 168l-6 1-16-4-35-6-8-7-2-6-4-3-4-2-15-2-10-4-5 0-7 4-6 2-8 1-4-1 4-5 3-6 30-1 9 1 11 3 9 4 4 4 6 8 4 3 5 1 14 0 16 4 13 1 4 0 2-1 8-11 3-2 8-1 8 2 0 1-5 9-7 1-8 8-4 2zM21 162l-1 0-14-3-10-5-2-2-1-3 3-6 5-4 7-3 13-3 5 0-7 9-10 3-2 1-1 2 1 2 2 2 3 2 4 0 2 5zM72 339l-7-4 7-11 19-17 4-6 3-6 1-5-1-16 1-3 2-3 11-7 9 0 2 6 2 2 4 1 6-2 5 3 2 0 7-6 3-11 3-5 6-4 13-6 1-1 0-2-2-1-3-1-7 2-9 4-16 11-1 0-3-4-1-4 0-1 19-10 11-4 0-1-15-3-19 2-4-5-4-1-15 5-3 2-2 2-10 2-1 1-3 7-4 5-10 8-6 4-6 1-17 1-15 2-5 2-8 7-10 4-4 2-8 8-5 13-4 9-5 2-2 2-3 5-3 9-3 3 0-12 4-4 2-4 3-6 1-7-1-3-9 5 0-11 6-5 1-3-1-2-6 1 0-7 3-4 7 0 1 3 3 0 1 2 2 6 15-9 10-9 5-3 22-7 6 0 10 1 4 0 10-5 6-6 0-1-2-1-13 1-15 2-6-1-12-4-5 0-6 1-5 2-3 2-6 12-4 5-5 4-1-1 4-7-1-7 10-16 6-3 6-1 21 4 12 0 11 1 16-2 8 2 3-1-2-3-5-6-6-4-4 0-16 3-10 0-7-2-12-4-5-1-8 3-12 5-1 2-1 8-4 8-3 3-4-5-4-1 1 0 5-5 1-3-1-3 7-9 2-6 7-3 9-1 2 0 0 2 3 2 6 2 5-1 4-3 7 1 6 1 7-1 4-2 2-2-2-4-5-3-7-3 1-4-1-3-9-6 3-4 6-5 4-2 6-1 16-1 13 4 16 0 3 2 2 1 4 8-2 7-2 5-3 4-3 3-5 2-1 0 1-8-1-5 4-4 0-3-2-2-7-4-7-2-14 3-14-1-5 1-3 3 0 1 2 2 12 4 11 7 7 3-1 7 0 4 1 4 3 3 5 3 4-1 4 2 5 0 17-1 5-1 3-2 0-1-2-6 0-3 0-4 3-3 3 5 7 5 5 2 4 1 22-5 14-5 1 0-1 4 1 1 7-6 14-1 3-2-15-4-20-1-6 1-10 4-6 1 1-9 1 0 11-2 15-2 24 0 8 1 9 4 5 1 5-1 9-3 11-6-26-4-17 1-13-3-14 3-30 4-5-5-3-1-3 0-3 1-5 4-1 0-5-2-6-3-5-6-2-5-2-2-4-2-7-2-7-1-14 0-14-2-19 5-10 2-6-1 3-3 5-7 37-5 40 6 3 1 3 7 2 7 2 2 38 3 6 0 13-4 13-1 23 2 30 1 14-1 1 1-2 8-4 1 4 1 1 2 3 3 17 7 0 18-3-3-2-4-1-10-3-3-4-1-8-1-7 1-11 7-3 3 6 8 7 5 11 3 18 3 0 8-8-1-24-6-4-2-7-6-4-3-9-4-9-2-6 1-14 4-15 1-9 2-13 5 3 1 7 1 27-2 11 1 9 2 14 5 40 8 11 3 0 16-1 2-15 5-12 2-10-2-15-6-3-3-6-7-3-2-5 1-4 2-1 3-1 7 1 4 2 2 13 4 11 8 5 2 2 0 10-6 6-2 26-3 0 7-9 1-9 4-2 1 3 2 9 1 8 0 0 7-12 2-12-2-11-4-1-2 2-2-1-1-7-1-3 1-1 1 0 2-2 1-5 1-9 1-4-7 1 0 10 2 4-1-5-3-11-2-5-7-4-2-3-1-4 1-2-4-4-10-2-3-3 0-15 6-5 4-2 3-5 12-5 8 1 10 0 4-1 3-6 6-15 10-10 11-3 2-2 0 2-5-2-6 10-6 7-9 7-8 2-2 0-3-2-4-20 14-11 10-2 3-1 4-2 2-1 3 0 3 2 4 0 1-2-1-3-2-3-7-2 0-14 11-5 6zM269 162l-2 1-14-2-16 0-1-1 3-3 1-4 23-1 13 1-2 4zM7 198l-6 0-5-1-7-4-10-7 1-9 6 2 8 7 4 2 9 1 3-1 1-1-1-2-6-5-8-10-5-3-11-3 0-7 8-1 6 2 13 10 14 7 3 3 0 3-5 11-6 4zM224 200l0-1-4-2-3 1-2 1 5 2zM74 209l-3-1 0 1 1 1zM147 218l-7-1-4 1 4 1zM188 243l4-2 2-4 2-2 12-5-1-1-5-2-9-2-7 0-11 3-6-1-3 1 7 1 3 1 4 4 1 5 2 2 2 2zM250 251l9-1 19-5-18-3-16-5-9 1-4 1-2 1 0 2 1 3 6 5 5 1zM36 288l-1-1 2-4 0-3-3-4 6-6 4-2 7-1 10 1 7-1 16-7 3-3 8-9 4-3 3-1 5 0 7 2 3 3 3 4 1 5-7-1-6-5-2-1-3 1-5 3-12 13-5 4-9 3-16-1-6 1-8 5zM112 290l16-11 1-2 0-1-3-2-6-2-4 0-4 2-2 3-1 4 1 8 0 1zM141 280l2-3-2-3-2 3 1 3zM237 367l-2 0-5-1-21-9-8-7-8-9-25-7 1-8 12 2 9 0 6-2 10-6-1-1-11-3-12-5-4 0-8 2-1-3-2-2-3-1-5-1 16-4 1-2-1-9 0-5 3-5 4-3 5-2 5-1 2 4 3 4-7 2-5 5-1 5 0 2 2 2 4 1 9-1 11-6 1 3 0 5-7 3-5 3 2 2 7 4 4 1 3 0 4 0 5-3 8-6 13 0 8 2 7 5 10 3 8 5 0 10-12-5-4-3-4-6-4-3-6 0-20 4 1 1 8 4 7 5 4 3 30 5 0 7-13-1-9-1-5-2-11-7-22-6-4 0-6 6-2 3 2 1 4 1 11 2 15 4 40 5 0 8-6 0-35-4-28-7-2 0-1 1 1 2 2 1 17 5 10 5 2 2-1 4zM6 343l-10 0-1-1 1-8 5 1 5-1 13-6 6-2 22-2 4-2 3-2 11-13 4-8 1-4-2 0-10 4-11 10-6 4-17 6-9 2-9-2-3-2 4-4 3-2 9 1 8-1 12-10 13-6 10-8 6-3 5-1 4 0 6 4 1 2-1 4-5 10-13 20-11 12-2 1-4 0-9-3-5 0zM278 301l-5-1-14 1-7-2-13-5-3-1-4 2-10-7 5-1 7 0 23 5 12 0 9 0zM103 305l1-1 0-3-2 2 0 2 0 1zM190 306l-4-3-2 1-1 1 3 2 3 0zM29 395l-3-5-4-2 12-11 5-5 0-2-10-1-9-6-4-1-29 7-18 2 0-12 4 3 5 0 18-5 12-5 8-1 5 1 3 2 2 2 0 5 2 2 2 1 7-1 14-6 10-2 1 0-3 6 4 2 4 0 4-2 11-12 10-9 6-3 6-1 7 2 3 3 2 5-2 11 2 4 3 1 7 0 3 1 4 4 4 7 3 2 3 0 8-1 2-1-7-7-6-9-8-4-3-3-3-6-1-10 1-3 1-3 12-11 6-5 8-3-4 8-15 20 0 3 2 3 3 2 3-1 4-12 2 5 5 4 0 2 1 1 4 1 12-1 23 6 7 3 5 3 2 2 0 3 0 1-7-1-2-2-2-1-14 0-15-6-6 0-5 2-2 3 2 4 6 4 7 3 5 1 7 0 9-2 1 1-2 5 1 4-1 1 7 6 10 3 5 0 4-1 3-2 3-4 11-4 6 0 11 2 29 1 0 10-30-4-11 1-15 3-12 0-26-2-25-6-6 0-12 1-5-3-4-5-3-2-3 0-10 1-2-1-6-4-1-4-1-16-1-2-1 0-4 2-8 5-15 13-15 1-7 3-20 17zM200 339l2-1 1-2-3 0-2 1 0 1zM274 374l-9 0-6-1-13-6 5 1 11-4 16 0 0 9zM113 406l-25 0 15-12 0-2-3-3-9-1-6-2-9-7-3-1-3 1-3 2-16 25-11 0 7-14 6-8 14-12 10-4 6 3 8 8 9 0 4 2 2 2 5 6 4 0 9-4 5-1 4 0 6 2 7 7 6 3 2 4 5 4-9-1-12-4-7-3-5-1-7 1-4 2-1 2 0 6zM176 378l-4-2-7 0 1 1 2 1 6 1z" fill="#f8ada3" fill-rule="evenodd"/></g>
<path d="M26,2.6 C29,0 35.5,-0.8 38.5,1.2 C40.5,2.6 41.5,5.8 44.5,6.4 C48,7.1 52,6.8 55,8.3 C58,10 60,12 60.5,16 C61.6,24 61.6,36 60.6,46 C60.1,50 58.8,53 58.3,57 C57.5,64 58,73 57,81 C56.6,85.5 55.5,88.5 52.5,90.3 C50,91.6 47.5,92.4 45,92.7 C41,93.3 36,93.5 32,93.3 C26,93 20,91.5 15,89 C9,86 4.5,83 3,78 C0.8,71 -0.2,63 0.1,56 C0.5,48 2.5,40 5,33 C8,25 11,18.5 15,13 C18.5,8 22.5,4.8 26,2.6 Z" fill="none" stroke="#b3181d" stroke-width=".7" opacity=".6"/>
</g>
<g transform="translate(138 503)">
<path d="M26,2.6 C29,0 35.5,-0.8 38.5,1.2 C40.5,2.6 41.5,5.8 44.5,6.4 C48,7.1 52,6.8 55,8.3 C58,10 60,12 60.5,16 C61.6,24 61.6,36 60.6,46 C60.1,50 58.8,53 58.3,57 C57.5,64 58,73 57,81 C56.6,85.5 55.5,88.5 52.5,90.3 C50,91.6 47.5,92.4 45,92.7 C41,93.3 36,93.5 32,93.3 C26,93 20,91.5 15,89 C9,86 4.5,83 3,78 C0.8,71 -0.2,63 0.1,56 C0.5,48 2.5,40 5,33 C8,25 11,18.5 15,13 C18.5,8 22.5,4.8 26,2.6 Z" transform="translate(3.2 3.4)" fill="#7d6c62" opacity=".5" filter="url(#sh)"/>
<path d="M26,2.6 C29,0 35.5,-0.8 38.5,1.2 C40.5,2.6 41.5,5.8 44.5,6.4 C48,7.1 52,6.8 55,8.3 C58,10 60,12 60.5,16 C61.6,24 61.6,36 60.6,46 C60.1,50 58.8,53 58.3,57 C57.5,64 58,73 57,81 C56.6,85.5 55.5,88.5 52.5,90.3 C50,91.6 47.5,92.4 45,92.7 C41,93.3 36,93.5 32,93.3 C26,93 20,91.5 15,89 C9,86 4.5,83 3,78 C0.8,71 -0.2,63 0.1,56 C0.5,48 2.5,40 5,33 C8,25 11,18.5 15,13 C18.5,8 22.5,4.8 26,2.6 Z" transform="translate(.35 .35)" fill="#e1262a" stroke="#f8a9a1" stroke-width="3.3" stroke-linejoin="round"/>
<path d="M26,2.6 C29,0 35.5,-0.8 38.5,1.2 C40.5,2.6 41.5,5.8 44.5,6.4 C48,7.1 52,6.8 55,8.3 C58,10 60,12 60.5,16 C61.6,24 61.6,36 60.6,46 C60.1,50 58.8,53 58.3,57 C57.5,64 58,73 57,81 C56.6,85.5 55.5,88.5 52.5,90.3 C50,91.6 47.5,92.4 45,92.7 C41,93.3 36,93.5 32,93.3 C26,93 20,91.5 15,89 C9,86 4.5,83 3,78 C0.8,71 -0.2,63 0.1,56 C0.5,48 2.5,40 5,33 C8,25 11,18.5 15,13 C18.5,8 22.5,4.8 26,2.6 Z" fill="#e1262a"/>
<g clip-path="url(#mc)"><path transform="scale(.25)" d="M88 80l-2-1-1-4 2-3 5-4 2-14-2-2-10-6-2-3-2-6-1-1-8-3-5-1-9 2-7 5-3 0-7-5-18 7-5 0-4-3 0-2 1-2 9-3 3-2 2-7 3-4-1-2-6-7-1-2 1-2 2-2 3 0 12 4 4 1 4-2 2-4 0-2-2-2-12-5-4-3-3-11-4-6-2-4 13 0-6 4 0 3 5 4 9 2 3 2 5 14 3 3 3 2 4 1 11 0 9 5 6 1 6-2 7-9 3 0 2 2 0 5-2 5-6 5-5 2-12 1-9-5-17-4-4 0-10 4-8 4 5 11 3 3 3-1 3-1 5-8 4-2 4 1 9 6 7 2 2 2 2 5 3 1 19 4 12-4 5 1 3 1 2 5-1 5-3 0-14-3-3 1-3 4 1 3 10 8 3 3 0 3-1 3-2 1-9-1-5 0-2 2-3 5zM85-4l-8 1-9-5-2-2-4-8-9-5 0-3 5-5 10 0-1 3 10 7 3 7 3 2 8 0 4 2 0 3-1 2zM121-3l-5 1-2-1-1-2 1-8-5-6 1-7-1-5 22 0-9 4-4 2-1 3-1 6 2 1 4 1 13-3 3 0 2 2-1 2-2 2zM253 17l-6 1-4-1-1-2 2-7-1-2-1-1-10-1-8-3-10 0-3-1 1-8-2-7-4-3-14-2-2-2 1-4 2-2 3-1 9 1 4 2 6 6 8 2 5-2 7-7 3-2 2 1 2 2 4 7 1 3 0 2-8 2-13 0-4 3 0 3 2 3 3 1 17 1 4-1 2-2 2-6 1-1 4 0 4 2 2 3-1 3-7 4-2 3 0 3 3 7-1 2zM5 24l-3-7-6-6 0-1 3-5-1-3-7-5-22-4 0-12 12 8 8 4 5 0 10-5 8 3 7-1 3 1 1 1-1 2-3 1-7-1-3 2-2 2 0 5 2 6 2 10-2 3zM174-1l-3 0-3-4-2-4 1-3 3-2 10-2 4-1 3 1 2 3 0 4-8 3zM199 25l-4 0-2-2 0-2 5-5 1-4-1-5-6-10 0-3 7 1 10 6-1 6 8 9-1 1-10 3zM195 73l-3 0-14-5-1-2 3-6 0-3-3-3-8-6-7-1-10-3-10 1-3 0-2-3-5-9-2-6-2-2-5-1-9 1-9 6-4 1-3 0-1-2-1-3 1-3 2-2 10-2 8-5 2-2 1-6 2-2 11-1 16-8 4-1 2 3 0 3-1 4-2 2-5 1-13 1-7 5-1 3 5 4 10 4 2 2 2 6 5 3 4 0 4-1 14-7 3-1 2 1 1 2-1 3-2 2-8 4-1 2 0 3 2 2 2 0 7-2 8-4 4 0 1 2-4 10 0 6 6 5 11 3 0 1-4 4zM180 20l-3 1-9-3-13 2-2-1 0-2 1-4 2-2 18-5 9 4 3 3 0 2-1 2zM237 40l-3 1-4-5-7-5-2-4 2-6 3-1 6-1 5 0 2 1 0 4-2 8 1 6zM-1 30l-4 0-1-1 3-2 7-1-1 2zM261 40l-4 0-5-4-1-3 3-4 5-2 4-1 3 1 6 6 6-5 0 9-7-2zM212 65l-6 0-1-10 1-7-6-6 0-2 0-2 3-3 5-2 5 0 3 2 1 5-3 7 6 5 2 3-1 3-2 3-3 3zM-10 46l-5 0-3-2-2-4 0-3 9-2 3 0 2 1 3 4 0 3-3 2zM74 85l-5 1-9-3-9-1-3-1-4-5 0-3 11-3 3-3 0-4-3-7-4-4-3-1-9 8-5 2-2-2-2-4 0-2 0-2 6-3 11-2 4-3 6 0 6 3 5 7 7 6 0 3-9 6-2 3 2 4 8 7 1 2zM275 80l-4 0-4-6-13-5-1-2-1-5-14-3-4-3 0-2 6-3 13-1 9-6 5 2 5 2 2 2 0 2-15 5-3 3 0 1 9 4 7 5 6 1 0 9zM23 70l-3 0-5-2-11-10-1-3 3-5 2-1 3 0 4 2 0 7 1 2 10 5 0 3zM146 146l-3 1-3-1-2-2-1-3 1-1 7-2 2-1 1-4-1-5-2-1-8 0-7-5-12-2-1-2-1-7-1-3-11-4-2-2 0-4 0-2 1-1 13 0 6-5 4-1 5 1 12 7 11 0 4-1 6-12-2-6-4-6-7-5-5-2-8-1-10 1-2 0-2-2 1-3 2-2 15-4 16 4 2 2 1 7 10 4 1 8-2 7 3 7 0 3-3 3-13 8-6 2-5-1-6-9-21-3-2 1-1 1 0 5 1 3 12 4 7 6 9 4 5 6 9 2 3 3 1 5-3 5-3 2zM236 97l-4 0-6-5 1-2 7-4 1-3-2-4-11-4 0-3 2-2 7 0 13 4 3 3 6 8 13-1 2 0 4 5 6 4 0 3-2 1-13-1-5-3-5-6-2 0-8 2zM1 77l-2 0-2-1 0-3 2-2 2 0 2 2 0 2zM41 98l-4 1-4-3-7-8-10-6 1-3 6-5 5 2 2 2 4 7 9 7 1 4zM145 84l-15 0-5-2-2-3 2-2 5-1 10 1 4 1 2 2 1 2zM114 81l-3 0-1-1 1-2 2-2 3 1 1 2zM190 88l-3 0-2-1-2-2 0-2 3-2 3-1 5 0 2 1 0 2-2 3zM188 114l-5 0-2-1 0-1 8-13 3-2 10-3 5-2 2-2 0-2-5-6 4-2 3 1 4 6 4 4 0 1-8 9-12 2-3 2-2 2-1 5zM93 94l-15 0-1-1 1-5 2-2 7-3 7 5 3 3 0 2zM-11 126l-6-3-3-7-4-4-2-1-5 2 0-5 5 2 5-2 4-3 5-7 9-2 4-7 3-4 2-1 3 1 1 1 2 6 0 4-2 1-8 0-3 1-1 11-8 4-3 2 0 2 2 7zM75 104l-15-4-2-1 0-1 3-2 4-1 10 0 1 2zM214 119l-9 0-2-1-1-2 2-2 10-5 13-2 8-4 11 2 16-3 16 5 0 6-7-3-4 0-21 6-10-4-4-1-4 2-4 5zM62 156l-4 0-7-4-12-3-4-3-5-6-14-3-3-2-1-2 6-11 7-6 2-2 0-2-2-2-6-1-2-2 0-2 1-2 3 0 6 3 13-2 4 0 3 2 0 1-1 2-9 7-6 7-1 2 0 3 4 8 2 2 5 1 12 0 8 3-2 7 3 5zM87 126l-6 1-2-3 1-2 7-5 1-3-1-4 0-1 4-2 5 1 2 2 3 6 0 4-3 2zM60 129l-9-1-3-1-2-2 1-1 10-3 1-2 1-6 1-1 5-1 6 0 1 3-1 5-7 8zM8 117l-3 0-2-1 0-3 4-1 4 1 0 3zM174 125l-6 0-4-3-2-4 2-4 3-2 3 0 9 2 0 8-2 2zM225 197l-6 0-9-6-11-3-5-2-2-4 2-7-9-5-5-5-1-3 2-2 3-1 4 0 3 2 4 5 2 7 3 1 10 0 7-5 4 0 0 1-1 2-7 5 0 5 1 3 2 1 4 0 4-1 13-6 5-11 10-2 10-9 1-2-3-1-16-1-2-2 0-4 3-1 13-2 8-3 2-3 1-3-1-3-3-5 1-2 6-5 3-1 2 1 1 1 0 20-4 1-2 2-4 9 2 2 8 1 0 8-5-1-4 2-6 3-7 3-6 5-9 4-4 7-6 4zM237 141l-6 0-8-2-8 0-5 0-9-5-8-1-4-4-1-3 2-2 4 0 3 1 6 4 19 2 7-1 11 3 2-1 4-6 3-2 4 0 4 3 0 2-4 3-10 3-4 5zM3 159l-4 0-4-2-4-6-5-4-2-7 1-3 5-10 6 3 4 4 0 3-4 8 1 3 7 2 14-1 3 1 1 1 0 2-3 2zM111 147l-7-1-4-2 2-7 1-3 4-3 6-1 7 1 5 2-1 2-9 10zM88 146l-4 1-4 0-13-4-4-2 2-3 4-3 4-1 5 1 7 2 6 5 1 2zM240 167l-14-1-1-1-3-5-6-1-8-2-10-2-7-4-9 1-5-1-6-3-2-2 0-2 1-2 4-2 12 0 4 1 6 5 11 4 4 0 9-1 2 2 2 6 1 1 11-1 3 1 2 4 0 3zM85 190l-5 0-9-3-1-2 2-7-4-3-7-1-12 5-5-1-5-7-7-2-3-2-1-2 1-3 2-3 3-1 7-1 2 2 1 7 2 2 14 2 3-1 3-2 5-8 6-2 6 0 9 4 17-3 8-3 20-3 4 1 3 2 1 3 0 2-16 2-6 3-1 2 1 4-1 2-6 5-6 8-3 2-3-1-2-3 3-10-1-3-1-2-11-6-3 0-5 3-4 3-2 4 2 2 6 4 3 3 0 4zM165 171l-9-4-8-1-1-2 0-2 12-3 4 0 4 1 2 2 1 2-2 5zM-21 189l-3 0-3-2-4-6 0-4 3 1 14-3 2-2 2-5 2-2 5 0 17 2 6 2 2 2 0 3-2 2-4 0-10-1-4 0-11 4-8 7zM161 205l-5 0-2-1-1-2 0-2 8-6 1-3 0-2-4-2-9-1-5-1-4-6-5-3 0-1 1-1 5-1 4 4 2 1 12 1 8 0 3 2 3 15 0 3-3 3zM50 215l-9-5-11-3 0-1 1-6 0-2-9-5-3-2 1-1 7-6 4 2 4 7 2 1 2 0 5-4 3-1 12-1 5 1 0 2-2 2-12 2-5 2-1 3 1 3 6 7 0 3zM141 222l-3-1-2-3 0-10-6-5-3-6-6-6 0-2 3-2 6-1 6 1 6 11 1 2-2 6 6 5 1 3-1 3-2 3zM8 195l-4 0-2-1 0-3 3-3 5-1 5 3-1 2zM254 208l-6-1-4-2 2-9 1-3 3-2 7-2 3 0 2 2 0 3-4 7-2 6zM112 202l-9-2-3-1 0-1 4-5 3 0 3 2 2 2 1 3zM9 219l-3 0-6-8-5-4-3 0-8 2-10-4-5 0 0-9 5 1 13 1 4 1 5 3 11 0 11 5 1 1-1 2zM80 223l-1 0-2-2-1-5-13-8-1-2 2-3 4-3 11 0 7-3 10 2 1 1 0 1-4 6-2 0-7-3-2 0-2 2-3 9 3 4zM206 221l-25-6-2-1 0-1 3-3 7 1 4 0 4-2 3-5 5 0 4 2 2 4-2 9-1 2zM106 234l-6 0-13-3-3-1-2-3 23 1 5-1 2-3 1-5-1-2-3-3-1-2 5-7 1-1 4 3 2 8 5 5 0 3-3 3-10 3zM230 216l-1 1-2-2-2-3 0-2 2-3 2-2 3-1 7 2 0 2-2 3zM95 215l-2 0-1-1 1-3 2 0 2 2 0 1zM151 250l-3 0-6-1-3-1-3-2 1-2 5-6-1-7 3-3 14-2 4-3 2-6 4-1 4 2 1 5 3 4 9 3-1 1-5-2-4 0-14 3-7 7-1 9zM245 228l-11 1-5-1-7-3-3-3 2-2 8-3 9 4 13-1 3 1-3 4zM63 242l-9 1-5-2-1-4 4-8-3-6 2-4 3 1 5 4 0 6 6 9 0 2zM35 230l-5 1-5-1-4-3-2-3 4-3 7-1 6 1 6 2 1 2-2 2zM36 257l-3 1-3-1-5-4-7-3-18-11-6 0-10 3-6 1-9-3 0-6 17-1 3-2 5-4 4-1 2 1 5 7 6 3 18 4 15 4 2 4 0 3-3 2zM243 242l-8 1-2-1 0-2 4-6 4-2 3 0 8 3 14-3 12 3 0 4-10 1-15-1zM200 247l-7-1-2-2 0-2 3-4 8-4 4 0 4 2 5 3 3 3zM76 253l-4 1-3-1-1-2 1-3 7-4 8-7 3 0 2 1 1 2 0 3-9 5zM124 249l-14-3-2-1 0-3 2-2 4-2 6 0 5 1 3 3 1 3-2 3zM182 261l-3 1-2-1-3-8-7-4-1-1 1-2 2-2 4 0 5 0 2 1 7 10-1 3zM223 249l-1-2 0-2 2 3zM0 258l-2 1-5-1-3-1-1-2 4-4 4-2 3 0 2 1 1 2-1 3zM256 260l-4 0-5-1-3-2-1-2 3-3 4-2 4-1 3 1 4 3 2 3-1 2zM68 304l-4 0-5-3-1-3 1-3 6-3 20-5 5-2 11-9 6-11-6-3-4 0-12 6-6 8-4 4-3 1-4 0-4-3-2-3 0-2 4-3 11-6 3-6 1-1 4-1 11 1 2 0 5-4 3 0 4 4 1 2-1 3-3 3 1 1 6 5 8 4 0 1 0 2-7 4-10 1-5 3-3 2-3 8-3 2-15-2-2 1-4 6zM142 278l-5 0-7-4-1-7-6-8 0-2 2-3 3 0 3 2 8 13 6 5 1 2zM227 271l-7 0-3-1 0-1 11-8 3-6 2 0 4 1 1 2-1 10-3 1zM158 265l-4 0-2-2 0-4 2-3 3 1 3 3 0 3zM205 273l-5 1-3-2 0-12 1-2 3-2 7-1 3 2 1 1 0 11-2 2zM16 320l-7 1-5-1-4-2-3-4 0-6 4-9 2-3 11-7 2-3 1-2-1-10-1-3-3-2-10-1-2-2 0-2 2-1 2-1 7 2 3 1 4 4 5 3 2 3 1 7 2 2 3 1 7-2 3-2 2-2 0-2-2-2-7-6 0-2 1-2 2-1 3 0 9 3 3 3 1 4-2 6 0 8-1 2-5 2-11-1-4 0-3 3-1 5-7 0-4 1-4 2-3 3-1 4 5 4 5 2 10-1-1 2-2 3zM-11 296l-5 0-8-4 1-2 9-7 0-3-1-4-3-1-7-1-3 0-3 2 0-5 3-1 6-6 3 0 7 7 7 4 5 6 0 3-6 9zM163 296l-4-4-5-15 2-2 9-1 4-6 4-2 3 0 2 4 0 4-2 2-4 2-2 2-6 15zM117 362l-7-1-5-1-2-2-1-3 2-2 3-1 16-2 15-12 3-4 1-4-8-5-1-1 0-2 3-2 11-2 3-2 1-3 0-2-3-2-14-4-14 1-4 2-1 1 0 2 6 8-1 7 2 4 0 3-2 5-3 3-4 1-4-2-1-1 0-2 8-9 0-1-8-5-1-2 0-6-2-5 5-4 1-6 2-2 15 4 3 0 2-1 0-1-5-5-2-3 1-3 3-3 6-2 3 1 2 2 1 4-1 8 8 5 5 2 4-1 6-8 5 2 4 0 8-3 2-3 1-10 2-2 5 0 6 1 9 7 3 0 7-2 1 1-1 1-3 2-1 2 1 5 4 3 7 0 2 0 1-2 1-11 10-8 4-7 3-1 4 2 1 1-1 2-9 10-2 5 1 3 2 3 7 3 3 2 0 3-2 2-5 2-4 0-4-1-2-4-2 0-2 4-2 2-5 2-4 0-3-2-14-17-6-1-9 1-2 3 0 5 2 2 8 4 4 3 1 5 0 2-1 2-6 2-5-2-2-2-2-9-1-2-2-1-5 0-7 3-8 2-2 3 1 5-9 3-3 3-1 3 2 2 9 3 1 1-1 1-3 3-10 4-6 9-11 4-7 7zM46 361l-4 1-4-1-7-4 0-3 3-5 1-4-4-4-5-3-4 0-5 6-3 5 1 6-3 1-4 0-4-6-5-3-11-2 1-2 2-1 6 2 5-2 7-4 5-6 11-1 18-10 3-2 0-2-2-4-5-2-9 0 0-3 2-2 7 1 9-1 8 8 1 2-6 6-4 8-9 4-2 3 1 3 5 8 10 4 3 3-2 3zM96 341l-7 0-4 0-1-4 3-9-2-2-4-3-6 0-9 4-2-9 0-3 3-3 3-1 10 2 8 0 4 9 1 5 6 7 2 3-1 2zM-8 335l-2 1-2-1-6-7-1-5 1-2 2-2 3 0 4 1 5 5 0 5-1 3zM167 331l-5 0-1-12 9-1 3 1 2 2 0 2-2 4-3 3zM265 352l-3 1-3-2-2-9-7-4-3-3-2-10 2-3 4-2 8-1 3 0 1 2 1 4-5 7 0 7 2 2 11 4 2 2-4 3zM225 346l-5 0-4-2 2-7-3-3-8-6-1-4 1-3 5-1 6 6 3 1 10-3 3 0 2 1-1 2-3 4-2 3 1 3 4 4 0 3-2 1zM196 343l-16 1-1-3-1-4 2-2 4-3 5-1 3 0 4 3 4 6 0 2zM77 357l-3 0-3-3-2-4 0-5 1-2 2 0 10-1 1 1 1 2 0 5-3 4zM-3 368l-9 0-5-1-1-2-1-7-6-4-6-8 4-2 10 2 1 1-1 6 0 3 16 3 3 1 1 2 0 3-2 2zM178 359l-5 1-6-4-3-1-8 3-6 1-4 0-1-3 2-3 9-3 6-4 16-1 2 4 1 6-1 3zM203 363l-10 0-2-1-1-2 10-8 4-1 4 3 2 5-2 2zM251 364l-2 0-3-5-7-4-1-2 1-2 2-1 5 2 10 7 0 1 0 1zM226 374l-4-1-2-2-2-8 0-3 1-2 3-2 3-1 5 2 2 3-4 9-1 4zM91 406l-1 0-7-5 0-3 1-4 3-2 8 0 4-2 5-5 1-4-11-7-3-1-4 1-9 5-3 1-2-1-4-5 0-2 10-4 3-6 1-1 5 0 5 1 5 7 10 5 2 2 0 4 1 1 9 6 3-1 9-5 4 0 3 3 0 5-4 3-6 0-9-3-15 7-9 1-4 4-2 4zM131 371l-5 0-2-1 3-2 10-3 3 0 1 1 1 2-2 2zM0 403l-3 1-3-1-1-2 2-6 0-2-11-7-1-2 6-2 15-3 4-2 4-6 3-2 6-2 4 1 2 2-1 2-10 4-2 2-2 5-5 2-3 3-1 4 4 5 0 2-2 2zM34 391l-9-1-3-2-1-1 10-6 0-6 2-2 21-5 6 1 3 1 1 1-2 2-14 5-6 3-3 3-3 5zM155 385l-3-1-5-4-1-3 0-3 2-1 17-4 3 1 0 3-1 4-8 6zM224 406l-11 0-5-7-12-1-3-1 2-3 7-5 3-3 0-5-2-2-3-2-6 0-5 3-2 3-2 9-5 5-4 0-2-1 0-5 2-6 6-9 6-4 5 0 12 3 5 7 10 5-1 2-5 3-2 3 2 1 8 2 4 3 0 2zM242 403l-6 0-3-2-2-2 3-4 9-5-4-8 0-3 11-5 9 3 1 2-1 3-15 8 0 1 1 5 1 4-2 2z" fill="#f9b2a8" fill-rule="evenodd"/></g>
<path d="M26,2.6 C29,0 35.5,-0.8 38.5,1.2 C40.5,2.6 41.5,5.8 44.5,6.4 C48,7.1 52,6.8 55,8.3 C58,10 60,12 60.5,16 C61.6,24 61.6,36 60.6,46 C60.1,50 58.8,53 58.3,57 C57.5,64 58,73 57,81 C56.6,85.5 55.5,88.5 52.5,90.3 C50,91.6 47.5,92.4 45,92.7 C41,93.3 36,93.5 32,93.3 C26,93 20,91.5 15,89 C9,86 4.5,83 3,78 C0.8,71 -0.2,63 0.1,56 C0.5,48 2.5,40 5,33 C8,25 11,18.5 15,13 C18.5,8 22.5,4.8 26,2.6 Z" fill="none" stroke="#b3181d" stroke-width="1" opacity=".9"/>
</g>
<g transform="translate(244 503)">
<path d="M26,2.6 C29,0 35.5,-0.8 38.5,1.2 C40.5,2.6 41.5,5.8 44.5,6.4 C48,7.1 52,6.8 55,8.3 C58,10 60,12 60.5,16 C61.6,24 61.6,36 60.6,46 C60.1,50 58.8,53 58.3,57 C57.5,64 58,73 57,81 C56.6,85.5 55.5,88.5 52.5,90.3 C50,91.6 47.5,92.4 45,92.7 C41,93.3 36,93.5 32,93.3 C26,93 20,91.5 15,89 C9,86 4.5,83 3,78 C0.8,71 -0.2,63 0.1,56 C0.5,48 2.5,40 5,33 C8,25 11,18.5 15,13 C18.5,8 22.5,4.8 26,2.6 Z" transform="translate(3.2 3.4)" fill="#7d6c62" opacity=".5" filter="url(#sh)"/>
<path d="M26,2.6 C29,0 35.5,-0.8 38.5,1.2 C40.5,2.6 41.5,5.8 44.5,6.4 C48,7.1 52,6.8 55,8.3 C58,10 60,12 60.5,16 C61.6,24 61.6,36 60.6,46 C60.1,50 58.8,53 58.3,57 C57.5,64 58,73 57,81 C56.6,85.5 55.5,88.5 52.5,90.3 C50,91.6 47.5,92.4 45,92.7 C41,93.3 36,93.5 32,93.3 C26,93 20,91.5 15,89 C9,86 4.5,83 3,78 C0.8,71 -0.2,63 0.1,56 C0.5,48 2.5,40 5,33 C8,25 11,18.5 15,13 C18.5,8 22.5,4.8 26,2.6 Z" transform="translate(.35 .35)" fill="#e1262a" stroke="#f8a9a1" stroke-width="3.3" stroke-linejoin="round"/>
<path d="M26,2.6 C29,0 35.5,-0.8 38.5,1.2 C40.5,2.6 41.5,5.8 44.5,6.4 C48,7.1 52,6.8 55,8.3 C58,10 60,12 60.5,16 C61.6,24 61.6,36 60.6,46 C60.1,50 58.8,53 58.3,57 C57.5,64 58,73 57,81 C56.6,85.5 55.5,88.5 52.5,90.3 C50,91.6 47.5,92.4 45,92.7 C41,93.3 36,93.5 32,93.3 C26,93 20,91.5 15,89 C9,86 4.5,83 3,78 C0.8,71 -0.2,63 0.1,56 C0.5,48 2.5,40 5,33 C8,25 11,18.5 15,13 C18.5,8 22.5,4.8 26,2.6 Z" fill="#e1262a"/>
<g clip-path="url(#mc)"><path transform="scale(.25)" d="M10 5l-4 0-4-1-5-5-2-3 0-2 3-3 8-6 1-3-2-7 1-4 2-1 3 0 9 8 11-2 3 2 1 2 0 3-5 5-3 0-10-2-3 1-3 2-2 3 0 3 3 8 0 1zM206 21l-9 0-7-2-1-2 0-6-6-6 0-2 3-2 8-2 6-5 4-3 4 0 6 2 12-4 2-2-3-6 2-4 5 0 4 2 0 3-4 6 3 6 0 3-4 6 4 11-3 2-5 0-8-4-1-1 0-2 6-6 0-2-5-5-4-2-2 1-11 7-7 8 1 2 2 1 9 1 1 1 0 3zM60 1l-4 0-14-10-1-2 1-3 4-2 4-1 10 5 11 0 4 2 0 3-4 5zM94 10l-6-1-3-2-1-13 0-2 2-2 2 0 3 1 3 4 2 9 3 5zM144 7l-5 1-3-7-3-2-3 1-7 4-5 1-9 1-2-1 0-1 3-4 5-2 17-3 16-4 8 1 3 1 3 2-1 2-9 4zM81 30l-3 0-6-5-3-1-11 1-5-1-4-2-5-5-4-1-6 0-9 7-6 0-8 2-5 0-8-3-9 1-2-4-2-10-4-1-9 0-3-1 0-12 18 4 2 2-1 5 0 2 12 7 18 2 3-1 7-4 0-2-5-4 0-2 5-9 2-1 2 0 4 3 9 14 2 2 3 1 21-3 6 2 2 2 6 11-1 3zM278 32l-9-5 1-8-1-2-2-1-6-2-4 1-10 6-5-2-2-3 3-5 2-8 2-2 3 0 8 5 13 6 7 2zM123 54l-15-6-6 6-3 1-6-3-4-4 0-13 1-5 3-4 7-3 3-9 4-1 21 3 5 4 4 1 18-6 12-11 5 0 4 2 0 2-3 7-5 4-13 7-14 1-4 1-3 4-1 3 11 5-13 7zM0 46l-14-2-3-5-7-5-2-1-5 0 0-14 5 10 2 2 10-3 3 0 1 4 0 5 1 2 9-3 3 0 2 1 1 1-1 3zM214 32l-4 0-2-1 1-6 2-2 7-2 5 0 3 2 3 4-1 2zM108 47l6-4 10-5-2-5 2-7-1-3-3 0-14 2-3 1-1 7-3 6 1 2 4 4 3 2zM191 37l-4 0-14-5-2-2 0-2 2-2 4-2 4 0 4 1 5 4 3 3 0 3zM258 35l-4 0-7-4 0-2 2-3 3-1 4 0 4 1 3 2 0 2-1 2zM7 73l-3 1-3-2 2-6 2-3 10-2 4-3 1-4-1-13 1-7 3-4 3-1 7 1 12-1 4 1 3 2 0 2 0 2-3 3-4 0-11-2-2 1-1 2 1 7 2 3 3 1 10-2 4 2 0 3-2 3-4 2-9 1-10 2-9 7zM241 36l-2 1-2-1-3-3-2-3 5-1 7 1 1 1 0 1zM273 67l-8-1-4-2 0-2 5-8-2-2-6-3-3 0-7 2-4 0-3-2-5-5-7 7-12 1-12-4-11 1-9-4-3 0-11 6-6 1-6-2-6-8 0-1 11-6 7 6 10 3 2 0 7-4 3 0 7 0 9 4 15-4 7 1 5 3 5-3 13 3 8-2 8 1 2 1-1 8 3 1 4-1 0 13zM69 52l-4-1-3-2-2-2 1-3 2-3 2-2 4-1 4 0 3 2 0 4-2 3zM-8 63l-4 1-1-2 9-11 3-2 2 1 2 2 1 2-2 6-2 1zM173 96l-5-2-6-6-2-5-5-6 0-2 2-5-1-3-5-3-9-3-3-2 0-3 2-2 5-1 7 2 15 16 1 2 1 8 3 8 1 5zM184 76l-4 1-3-2-4-3 0-3 3-3 6-2 4-6 4-4 3-2 2 1 4 4 1 5-3 3-7 3-3 6zM71 85l-2 0-2-4 1-3 7-8-1-3-6-4-1-2 1-5 1-2 2 0 10 3 4 3 2 3-2 5-1 5-1 3-5 5zM144 80l-4-1-4-6-8-1-4-2-2-3-1-6 2-6 3 2 6 4 4 10 9 1 4 3-1 3zM235 81l-8 1-2-1-1-2 1-2 7-5 1-4-2-7 1-2 3-1 5 2 9 6 2 3 1 4-1 2-8 1zM105 76l-4 1-2-2-1-3 3-6 0-5 3-2 4 1 2 2 3 7 0 2-2 2zM207 92l-4 1-4-2-2-4-1-5 2-2 8-3 1-2-1-7 1-3 6-6 4 0 2 1 0 2-2 6 0 7-6 5 3 8zM46 85l-7-1-3-2 0-3 2-5 4-3 11-1 2 0 2 5 0 4-5 4zM-6 144l-5 1-9-1-5 1-6-3 0-8 6 0 4 4 3 1 15-6 3-2 2-3-1-3-7-7 3-6-1-4-3-3-6-3-5-1-4 5 1 2 8 9 0 2-3 4-3 2-2 0-8-6-2-2 0-3 3-7-3-4 0-5 5-1 8 1 2-1 2-3 2-8-8-4-2-3 3-5 3-3 3-1 4 1 3 3-6 10 0 1 2 1 8 1 7-1 3-2 2-5 3-2 5 0 6 1 8 5 1 2 1 3-1 3-2 5-1 2-2 1-5 0-3-3 1-2 5-4 1-2-1-2-4-1-8 2-4 5-9 6-1 2 1 2 8 7-1 4 0 3 2 2 6 5 1 2-5 5-4 8zM138 113l-7 0-5-2 1-3 6-7-4-3-7-1-12 4-3-1-2-14 1-2 8-2 10 1 1 0-1 1-4 3 0 2 2 3 3 1 11 0 9-5 4 2 1 2-1 7-2 1-5 1-1 1 2 3 0 3-2 3zM92 98l-4 0-12-6-5 4-4 1-4 0-1-2 2-3 4-4 2 0 5 2 7-5 6 0 4 1 2 2 0 6zM253 105l-5-1-2-3-2-9 1-3 2-2 3 0 3 1 4 3 2 3-1 4zM231 101l-5 1-5-2-1-3-1-8 2-1 3 0 9 5 2 2 0 2-1 2zM51 98l-4 0-4-2-2-2 1-3 4-3 4 2 4 4-1 3zM187 109l-4 0-3-2-3-4-1-4 1-1 11-4 3 0 2 3 1 6-3 4zM164 111l-4 1-6-4-4-4 0-3 11-1 6 2 1 2 0 3zM211 116l-5-1-3-4 0-6 1-3 2-1 6 1 2 1 1 2 1 8zM12 179l-2 0-3-2-2-2-1-3 2-3 5-4 2-3 1-5-3-7 3-7 8-4 4-4 3-1 8 0 9 3 3 0 4-3 2-4-1-3-2-2-4-1-10-1-5-4-10-4-1-2 0-1 5-3 4-5 3 0 3 1 1 2-1 7 1 2 6 0 3-1 2-2 5-10 2-1 2 0 8 10-4 8 0 10-2 5-3 3-7 2-6 4-7 1-8-1-2 1-2 3-1 5 1 1 6 0 4 1 4 4 1 3-2 2-3 2-11-6-2 0-4 5-2 11zM85 124l-2 1-2-1-4-7-6-5 1-3 4-3 6-1 9 2 3 2 3 4 1 2-1 1-8 3zM251 133l-6-1-9-4-9 0-4-1-2-3 1-7 3-2 10-5 4-1 1 2 0 7 2 3 3 2 9 2 2 1 0 2-1 3zM120 131l-5 0-5-2-6-12 1-2 3-3 5-1 5 3 5 12-1 3zM163 150l-2-1-4-6-6-5-1-3 1-3 2-5 1-7 2-2 4-1 9 3 8 1 2 1-1 2-9 2-3 3-3 11 3 7-1 2zM140 128l-4 0-3-3 1-4 3-2 4 0 3 3-1 4zM183 137l-2-1 0-1 2-7 1-6 2-3 3-1 5 1 5 2 7 11 0 1-3 1-14 1zM84 169l-2 0-2-1-1-2-1-2 5-3 2-3 3-9 3-7 1-4-2-9 1-1 2-1 8 2 3 2 1 3-3 6-8 10 0 3 2 5 0 3-3 4zM76 137l-3 0-1-2 1-2 4-3 4 0 0 2-1 2zM265 159l-4 0-2-3 0-4 2-5-2-1-12-1 19-11 4 0 8 1 0 6-7 2-7 3 9 4 5-1 0 8-4 0zM220 149l-5 1-5-1-2-1 0-3 2-4 3-2 12 1 4-5 2 0 4 2 2 3-1 1-9 0-4 6zM162 166l-4 0-4-6-3-1-11-1-7 5-4 1-4 0-14-8-2-3 0-3 3-4 11-8 12-1 5 1 4 3 1 8 4 5 5 2 8-1 7 4 0 2 0 2-3 2zM72 162l-6-1-2-3 1-5-1-7 2-2 4-1 2 0 3 2 3 3 2 3-1 4-3 5zM184 161l-6-1-3-3 1-5 5-7 2-2 2 0 8 1 4 2 0 1-7 5-3 7zM136 156l2-1 2-4-1-3-3-2-6-2-3 0-3 3-2 4 1 4 4 1zM213 217l-5 1-4-2-4-17-4-5-3-3-4-1-8 3-3 0-2-2-5-9 0-3 1-3 4-5 10-5 16 3 3-1 1-2-2-8 0-2 2-2 11 7 13 0 1-2 1-6 3-4 5-3 7 0-2 3 0 4 0 4 2 3 10 6 10 2 11 6 0 17-2 6 1 8 0 1-2 1-9-2-5 5-5 1-5-2-6-7-11-3-9 7-3 6zM-17 167l-5-1-9-7 0-11 6-2 2 3 3 8 3 2 3 0 9-6 3 1 2 1 0 5-3 4-3 1-7 1zM54 156l-3 1-2-2-1-5 1-3 3 1 2 2 1 4zM219 206l2-3 0-9-1-4-6-6 0-5 2-3 4 0 8 4 7-4 4 0 3 2 1 3-7 6 0 3 2 3 9 6 13-1 4-6 8-6 1-3-1-2-3-2-9-1-7-6-7-2-8-4-4-1-14 3-6 4-8 0-9 5-11 0-4 2 0 2 1 2 5 3 3 1 9-1 6 1 1 2 1 2-4 8 1 3 7 4 4 0zM108 189l-3 1-1-1-3-10 0-3 1-2 11-8 3 0 5 3 2 2-1 8 1 5zM157 182l-3-1-5-4-6-7-1-3 3-1 12 2 3 5 1 5-1 2zM59 178l-7 0-6-3-2-2 2-3 4-2 4-1 4 1 3 2 3 5-1 2zM-31 188l0-14 9 1 5-4 3-1 7 1 4 4 0 6-2 3-3 0-9-5-4-1zM16 198l-2 1-2-2-7-9 0-2 0-1 5-2 7 1 4-1 6-3 8-8 3-1 3 2 0 3-4 5zM93 233l-6 0-8-6 2-7-2-7-3-5-4-2-3 1-6 5-2 1-14-7-4-1-5 1-2 1 0 1 5 10-6 4-4 8-3 2-5-1-5-2-1-3 2-2 7-3 2-2-3-8 1-2 7-4 0-6 2-3 3 0 6 3 4 2 10-1 12 1 4-1 2-4 2-10-7-5-3-3 4-2 10-3 4 2 1 3-2 7 3 9-1 9-2 8 1 3 2 4 6 4 3 3-1 6zM140 197l-3 0-2-6-6-5-1-2 5-2 6-1 3 2 8 7 1 1-1 1zM57 194l-5-1-4-2-1-3 2-4 3-1 3 0 4 1 4 2 0 2-1 3zM6 209l-19 0-2-5-8-5 0-2 0-2 3-2 6-1 9 6 14 5 1 1 0 2-2 2zM176 220l-3-1-6-5-8-3-3-3-1-5 1-10 9 2 4 2 1 2-1 7 1 2 2 1 4 0 4-2 2-7 1-1 4 0 5 3 0 3-5 5-4 7zM93 259l-2 0 0-1 5-7 5-11 8-7 2-4-1-4-6-6-2-8-8-5-2-3 0-2 3-3 8-3 2 1 2 4-2 8 1 2 6 4 9 9 1 2 0 2-3 7-2 8-16 10-4 5zM124 259l-4 0-4-2-1-2 0-2 5-5 2-4 13-5 3-3 1-3-4-10-18-18 0-3 3-2 3 1 1 4 2 2 13 1 5 2 1 3-2 6 0 2 2 2 6 4-5 6-2 5-8 6-8 12zM262 271l-4 1-4-1-3-3-4-5-7-3 0-3 3-3 1-2-2-6-4-2-5 1-15 6 1 1 8 5 1 2 0 2-3 6-4 3-3 0-3-3-2-4 0-4 3-7-7-4-1-3 1-5 10 1 6 0 4-2 8-6 3 1 5 4 8 3 4 4 0 2-1 2-10 5 1 4 2 2 4 1 10-2 7-3 2-3 0-12-1-3-7-2-11-6-11-3-6-4-8-4-2-3 1-1 9-1 10 3 21 14 5 5 6 2 0 25-5 0-4 1zM1 228l-5 0-3-1-1-2 2-3 2-3 6-3 5-1 2 0 1 3-2 5-3 4zM163 247l-4 0-6-7 1-3 4-4 0-2-3-4 0-1 3-2 13 0 2 1 0 2-2 2-6 3-2 2 3 5 5 3 2 0 6-6 9-2 0-2-1-9 1-2 3-1 5 0 3 2 2 9 6 6 0 1-2 0-14 0-8 6-10 0zM42 244l-7-1-3-1-1-2 4-4 10-4 5-5 8-1 8-3 7 2 3 2-1 2-11 9-2 0-5-2-5 0-3 2-4 5zM215 233l-3 0-1-1 1-5 3-4 4 1 3 2-1 3-2 3zM18 251l-6 1-4-3-1-6 2-5 3 0 5 0 6 2 4 2-1 2-3 4zM93 284l-3 0-15-5 0-3 2-6 0-4-1-2-5-3-2-4 0-5 4-3 4-7 4-2 4 0 2 2 0 2-1 3-8 5 0 5 3 4 7 1 1 0 3 8zM31 268l-4-1-2-3 0-4 2-4 4-2 11-2 20-10 2 0 0 4-2 4-17 4-5 5-5 7zM162 263l-1 0-5-5-10-1-2-2-1-3 2-1 3-1 10 1 6 8 0 3zM130 323l-5 0-2-7-3-2-9 1-8-3-10 5-5 0-2-2 0-2 6-6 1-2 0-2-3-2-9-3 0-2 5-4 7-2 2 2 3 7 8 5 16 6 9-1 6-4-2-9 5-5 2-7 4-2 12-1 6-8 7-3 3-2 1-2 0-4 0-2 4-5 3-2 14-3 7 1 0 1 0 3-5 7-10-1-4 1-3 3-1 2 2 5 0 2-6 7-5 2-12-1-7 6-1 3 2 6-1 2-10 6-2 2 1 2 1 1 10 5 0 2-1 3-3 1-10-2zM-3 295l-3 0-1-2 1-6-2-9 0-15 1-4 2-3 4-2 3 1 3 3 4 6 2 4-2 2-6 3-3 3 0 3 3 7-3 7zM129 297l-6 0-7-1-16-8 9-5 3-4-1-3-1-2-6-4-2-2 0-3 2-3 3-1 3 1 9 10 2 5-4 6 0 4 2 2 8 2 3 2 2 2-1 1zM139 275l-3 1-2-2-2-5 2-3 5-2 5-1 4 1 3 2 0 2-2 2-5 3zM53 278l-4 0-3-1-3-3 1-3 2-3 8-4 4-1 4 1 2 3-1 4-5 5zM220 285l-16-2-7-1-5-4-1-2 0-2 4-3 4-1 11 4 10 1 7 4 5-5 6-2 5 0 2 3 0 3-5 3-6 1-7-3-4 5zM8 314l-2 0-4-4-1-3 1-2 3-3 11-8 9-8 1-3-7-5-2-3 2-2 6 0 4 4 2 5 3 4 0 2-7 13-10 8zM-2 337l-5 0-11-4-2-2 0-7-5-6 4-9 0-4-2-3-6-3 0-1 2-4 1-2-2-2-3-2 0-11 6-1 3 4 2 12 7 9 3 5-2 13 0 3 3 2 7 3 2 2 0 5 0 2zM238 316l-4 1-5-5-8-5-1-2 0-2 2 0 16 2 4 0 3-2-2-3-5-4-12-5-1-1 1-1 15 1 8-1 3-1 1-4 3-2 7-1 6-3 9 0 0 8-7 0-16 5-2 7-5 6 3 5zM37 341l-4 1-5-4-9-11-1-2 8-6 3-6 9-5 3-7 6-8 8-1 3-6 4-3 4 0 4 0 0 3-4 7 1 4 2 2 5 2 0 6 3 8 5 11 8 1 4 1 3 3-1 3-4 3-6 1-3-2-3-6-7 0-1-1-1-9-6-7 3-6 0-4-3-2-9-1-4 3-8 7 0 2 1 5-1 2-7 3-2 2 0 4 5 8 0 3zM153 363l-10 1-8-4-9 2-3 0-12-4-11-1-7-4 0-1 8-9 4-2 4 2 4 9 3 3 8 0 3-1 2-2 0-6-2-5-13-2-9-10 0-2 0-2 4-3 4 1 13 12 3 2 5-1 12-5 7-6 2-1 6 2 5 7 5 1 5-1 2-3-1-3-8-5-4-6-5-3-1-2 0-2 3-7 8-5 5-7 8-2 6 0 3 3-1 3-4 3-10 3-7 8-1 2 2 4 7 4 10 9 2 3-1 4-3 3-6 4-10 3-3 7-4 2-3-1-2-2 1-3 3-5 0-2-1-2-3-1-4-1-6 2-6 8-2 7 2 2 9 1 3 1 1 4 0 1zM212 304l-6 1-8-1 2-8 2-2 3-1 4 1 4 2 2 2 1 3-1 2zM193 312l-5 1-5-2-2-2 0-2 2-2 4-1 10 0-1 6zM188 361l-7 1-2-1 0-8 2-3 2-2 4 0 4 0 9 4 3 1 8-2 4-3 0-3-2-2-9-2-2-1-1-2 0-5-3-7 2-4 4-1 4 3 6 9 4 0 4-2 1-3-2-3-11-9-1-2 2-2 2-1 2 1 4 5 3 1 12 2 2 3 0 2-10 7-5 6-2 5 2 3 8 5 0 2-2 3-3 1-9 0-7 1-8-1zM7 325l-3 0-1-2 1-3 3-3 3 3 1 3-1 1zM62 361l-3 0-2-1-2-3 1-10-5-4-1-2 4-7-6-9-1-4 2-2 4 0 4 3 3 5 2 6 2 3-4 8 0 2 7 6 1 4-2 3zM247 404l-2 0-10-5-7-9-5-4-6-3-1-5-3-9 1-2 3-2 5 0 17 0 6-2 6-4-7-7-6-2-2-2 2-8 0-12 2-2 3 0 8 1 0 1 0 7 2 6 7 2 3 3 1 2-2 2-7 7-4 2 4 6 2 6 9-1 3-1 5-12-1-2-4-4 0-2 1-1 2 0 1 1 2 6 3 3 0 13-5 1-1 1 3 8 3 1 0 19-10-3-9-1-2-1 1-6 5-7-9-11-15-5-6-1-2 2-7 10-2 4 1 1 2 1 5-1 9-4 4 0 2 1-3 8 0 4 3 3 8 4 1 1-2 2zM16 348l-4-1-3-3-1-2 1-2 4-2 2 1 2 1 1 6-1 2zM84 356l-5 0-3-4 0-7 1-2 2-2 4 1 7 8 3 2 0 1zM23 403l-8 0-5-3 1-3 4-5 0-2-6-10-10-2-6-4-9-2-2-2-2-6-6-5-1-2 1-2 7-11 4-1 4-1 3 1 1 1 0 4-5 9-2 6 2 3 5 4 4 0 5-3 1-3-1-7 1-2 8-1 4 0 2 1-1 3-1 3-7 7 0 3 1 4 3 3 9 1 3 2 2 2 0 5 6 4 1 3-1 3-2 2zM41 361l-5-1-5-4-8-3-1-1 0-1 10-5 4 1 6 4 3 4-1 4zM123 398l-4 0-5-2-7-5-6-6-2 1-4 3-5 2-7 3-4 0-4-3-3-5-13-9-6-1-8 2-3 0-4-2-1-3 2-2 5-1 12-1 13 1 4-7 5-3 3 2 6 6 3-1 9-5 4-1 2 2 1 2-3 9 1 8 1 1 3 2 14 1 4 2 2 3 0 3-2 2zM29 371l-4 1-3-2-1-3 2-3 4-1 3 1 1 4zM173 406l-8 0 5-6 0-3-1-1-9-3-3-3 1-3 3-2 9-1 2-1 3-5 0-3-4-1-5 0-9 2-7 1-6 3-2 2 0 2 9 8-2 7 2 7-14 0 5-6 1-2-5-7-2-6-3-3-8-1-3-2-3-4 0-4 3-3 3 0 9 5 8-1 9 2 4-3 2-5 2-1 19-2 1 3-2 8 4 2 5 1 4-2 5-8 4-1 4 1 1 2 0 2-5 8-2 1-8 1-11 9 0 1 2 1 9 4 1 1-1 1-4 3-9 1-2 1 0 3zM82 383l13-2 2-2-1-3-2-3-7-5-15 3 0 4 3 6 3 2z" fill="#f9b2a8" fill-rule="evenodd"/></g>
<path d="M26,2.6 C29,0 35.5,-0.8 38.5,1.2 C40.5,2.6 41.5,5.8 44.5,6.4 C48,7.1 52,6.8 55,8.3 C58,10 60,12 60.5,16 C61.6,24 61.6,36 60.6,46 C60.1,50 58.8,53 58.3,57 C57.5,64 58,73 57,81 C56.6,85.5 55.5,88.5 52.5,90.3 C50,91.6 47.5,92.4 45,92.7 C41,93.3 36,93.5 32,93.3 C26,93 20,91.5 15,89 C9,86 4.5,83 3,78 C0.8,71 -0.2,63 0.1,56 C0.5,48 2.5,40 5,33 C8,25 11,18.5 15,13 C18.5,8 22.5,4.8 26,2.6 Z" fill="none" stroke="#b3181d" stroke-width="1" opacity=".9"/>
</g>
<g transform="translate(351 503)">
<path d="M26,2.6 C29,0 35.5,-0.8 38.5,1.2 C40.5,2.6 41.5,5.8 44.5,6.4 C48,7.1 52,6.8 55,8.3 C58,10 60,12 60.5,16 C61.6,24 61.6,36 60.6,46 C60.1,50 58.8,53 58.3,57 C57.5,64 58,73 57,81 C56.6,85.5 55.5,88.5 52.5,90.3 C50,91.6 47.5,92.4 45,92.7 C41,93.3 36,93.5 32,93.3 C26,93 20,91.5 15,89 C9,86 4.5,83 3,78 C0.8,71 -0.2,63 0.1,56 C0.5,48 2.5,40 5,33 C8,25 11,18.5 15,13 C18.5,8 22.5,4.8 26,2.6 Z" transform="translate(3.2 3.4)" fill="#7d6c62" opacity=".5" filter="url(#sh)"/>
<path d="M26,2.6 C29,0 35.5,-0.8 38.5,1.2 C40.5,2.6 41.5,5.8 44.5,6.4 C48,7.1 52,6.8 55,8.3 C58,10 60,12 60.5,16 C61.6,24 61.6,36 60.6,46 C60.1,50 58.8,53 58.3,57 C57.5,64 58,73 57,81 C56.6,85.5 55.5,88.5 52.5,90.3 C50,91.6 47.5,92.4 45,92.7 C41,93.3 36,93.5 32,93.3 C26,93 20,91.5 15,89 C9,86 4.5,83 3,78 C0.8,71 -0.2,63 0.1,56 C0.5,48 2.5,40 5,33 C8,25 11,18.5 15,13 C18.5,8 22.5,4.8 26,2.6 Z" transform="translate(.35 .35)" fill="#e1262a" stroke="#f8a9a1" stroke-width="3.3" stroke-linejoin="round"/>
<path d="M26,2.6 C29,0 35.5,-0.8 38.5,1.2 C40.5,2.6 41.5,5.8 44.5,6.4 C48,7.1 52,6.8 55,8.3 C58,10 60,12 60.5,16 C61.6,24 61.6,36 60.6,46 C60.1,50 58.8,53 58.3,57 C57.5,64 58,73 57,81 C56.6,85.5 55.5,88.5 52.5,90.3 C50,91.6 47.5,92.4 45,92.7 C41,93.3 36,93.5 32,93.3 C26,93 20,91.5 15,89 C9,86 4.5,83 3,78 C0.8,71 -0.2,63 0.1,56 C0.5,48 2.5,40 5,33 C8,25 11,18.5 15,13 C18.5,8 22.5,4.8 26,2.6 Z" fill="#e1262a"/>
<g clip-path="url(#mc)"><path transform="scale(.25)" d="M169 54l-3 0-2-1-4-12-3-3-2 0-2 2 2 6-1 4-2 2-3 0-5-3-3-2-2-3 5-4 1-4 2-3 3 0 7 0 6-6 8-5 4-3-1-2-6-4-2-5 2-2 5-3 1-2 0-2-2-3-3 0-7 2-5 3-13 2-5-1-1-2 0-11 1-8-2-5-4-4 0-3 16 0 2 3 4 5-2 4-6 5 0 2 3 4 4 2 4-4 4-1 5 0 8 3 7-2 1-3-6-9 0-4-1-5 14 0-2 7 1 2 4 4 2 10-1 2-7 4-7 6 0 2 0 3 3 3 6 0 6-2 4-7 6-5 2-6 4-5 3-1 4 4 0 3-1 4-14 14-1 2 1 5 6 7 1 11-2 1-8 1-8 5-3 1-3-1-2-2-1-3-1-6 1-2 4 0 10 3 2-2 1-5-2-3-7-3-6-2-4 1-2 1 1 8-10 2-4 4 0 4 8 6 1 3-1 4zM227 31l-2 0-1-1-8-16 0-6 2-3 7-2 2-3 1-5 0-9 1-2 8 1 8-16 6 0 2 10 0 7 3 6 3 4 4 1 7-2 8 0 0 14-1 1-2 0-7-6-4-2-2 0-7 3-3 0-2-2-5-11-4-4-4-1-2 3 0 3 1 9-7 4-2 4 0 5 1 2 2 1 11 0 2 3 1 3-2 3-4 3zM3 16l-4 0-2-3 0-5 2-5-3-8-2-6-2-2-6-2-2-2 1-4 4-3 10 0 4 1 1 3-2 6 0 2 7 4 3 4 1 2-1 2-7 5 2 8-1 2zM119 5l-3-2-2-4 0-3 5-6 3-1 3 0 3 3 0 5-5 6zM7 59l-4 1-3-1 0-3 4-3 0-3-2-3-6-2-2 0-1 1-1 8-1 2-6 2-3-2-2-11-8-5-1-2 4-8-2-2-4-2 0-10 15 1 20 7 8 1 3 3 0 3-1 2-2 2-3 0-10-3-7-6-2 0-3 1-3 3 0 6 0 4 2 2 6 1 5-4 3 0 9 4 14 1 2 0 2-3-2-10 1-3 5-6 0-3-2-2-12 0-1-1 0-2 4-7 2-6 3-2 2 1 1 6 4 7 3 0 4-2 2-3-2-7 0-3 2-2 4-2 9 1 12 8 2 0 4-1 4-8 3-3 2 0 5 4 11 3 2 2 3 6 4 2 9 2 2 2 1 4-1 4-9 7 1 4 4 3 7-1 5-4 5-9 0-3-1-4 1-2 2 0 2 3 3 2 10-4 4-1 3 2 3 4 0 2 0 2-4 2-5 2-10-2-3 2-4 6-1 2 2 3 7 8-9 4-12-7-4 0-5 2-8-7-1-2 0-3 5-8 0-4-1-3-7-9-12-4-5 0-2 2-2 4-5 3-2 2 0 2 3 6-1 3-16 5-10-6-3 0-4 1-2 3 0 9-3 5-3 2-5 2-13 11zM52 20l6-2 4-4 1-4-1-3-4-1-5 0-5 2-4 2 0 4 2 5 2 1zM246 14l-3 1-1-1-1-3 1-3 3-2 5 1 1 2 0 2zM258 43l-3 1-2-1-2-4 5-12 0-13 1-2 2 0 8 2 3 2 1 2-2 3-6 6 1 2 3 4 0 1zM90 24l-4 1-2-2-1-6 1-3 6-1 3 2 1 1 0 5-1 2zM85 51l-4 0 0-6-1-2-7-6 5-6 6-3 3 1 3 3 3 4-3 7 0 5-2 2zM185 87l-2 0-6-8-6-3-3-2-1-4 1-4 8-5 4-6 4-3 6-1 8 3 1-1 5-4 8-4 1-2-2-6 10-3 2 0 1 1 2 8 1 2 19 2 3 1 4 5 5 3 4 4 8 5 5 7-1 2-3 1-8-1-2-2-4-7-3-2-8-3-4-5-3-2-8 0-6-5-4-1-3 2-5 10-5 0-10-5-8 7-9 4-2 6 1 4 2 1 4-1 8-4 5 7-1 4-2 3-4 1zM60 56l-4 0-3-1-2-2-3-5-7-2-1-3 3-2 3 0 2 1 2 4 4 0 4-1 1-1-4-5 0-2 1-2 3 0 8 3 0 1-1 2-5 4 4 8-2 2zM131 99l-3 1-5-2-3-2 0-2 0-4 2-1 3-1 8 1 3-2-2-11 0-8-1-5-3-2-6 0-18 3-3 0-3-3-3-6 0-3 1-2 8-3 2 0 4 7 3 1 13-4 2 0 3 3 4 7 8 3 4-2 4-7 4 0 4 2 0 3-1 5-1 7-4 2-7-1-3 0-1 2 3 7-1 3-4 5-3 5zM38 86l-5 1-3-1-4-3-2-4 0-2 2-1 13-3 2-4-1-4-6-1-5 0-4 2-4 6-2 0-2-1-2-4-1-6 0-2 11-2 7-4 4-1 2 1 2 2 1 3 1 6 1 1 4 1 6 0 15-3 2-2-1-5 0-2 3-1 4-1 4 1 1 3 5 4 2 2 0 2-1 3-7 4-13 0-4 1-7 5-11-2-3 0-1 2 0 7zM211 80l-3 0-3-2-2-2 0-3 4-4 7-3 0-3 2-2 6 0 9 2 9 0 3 2 2 10-1 1-10 4-3-2-5-8-3-2-7-1-1 1 0 8-2 3zM-31 111l0-10 3 0 2-2-2-10 4-8-6-5 0-2 9-9 2-1 9 2 7 0 3 0 3 4 5 12 7 3 3 7 0 3-2 1-4 1-2-1-5-5-7 0-2-1-1-2-1-14-3-3-3 0-5 4-5 6 7 6 1 3 0 2-4 7 3 1 10-2 8 1 3 2 1 3-2 2-3 1-14-2-8 1-5 1zM115 85l-4 0-8-7-10 2-1-3 1-3 2-3 4-1 7 2 12-2 7 2 0 2-4 3-4 7zM252 125l-3 0-7-4-4-2-10-6-2-2 0-6 2-10 5-11 2-2 7 1 4-1 1-2 0-3 1-1 3 1 4 5 2 1 11-3 5 1 3 3 0 3-2 3-4 2-4 1-8-5-4 0-10 2-3 2-2 2 0 5 1 7 3 9 2 2 6 0 3-3 1-4-3-8 3-3 6-1 9 3 8 1 0 10-9-4-5 1-2 2-7 12zM21 115l-4 0-3-3 1-3 1-2 9-7 4-2 5-1 10-1 5-6 10-9 2 1 8 3 8-3 3 0 5 2 8-3 7 10-3 10-2 3-2 1-13-6-2-2 0-4-1-1-6-3-3 0-9 9-5 1-9 2-5 5-3 8-7-3-3 0zM176 174l-15-1-2-2 0-1 5-5 1-3-1-4-5-6-2 0-2 1-4 11-3 2-5 0-7-3-10 1-3-1 2-6 7-5 2 0 7 5 6-2 2-3 2-9 3-4 4 1 5 4 3 0 3-1 2-4 0-2-9-9-2-1-3 1-2 1-4 6-9 2-9 8-4-2-4-8-6 0-9-5-10 0 0-2 3-3 7-3 3 1 11 6 2 0 3-6 6-3 1-3 1-2-1-2-6-2-2-2 1-3 2-2 11 2 2 2 4 6 3 1 3 0 2-3 0-5-4-5-1-4 5-7 1-6 2-2 3 0 2 3 0 4-2 12 2 4 4 2 3-1 3-4 0-6 0-3 4-4 5-1 2 2 1 4 0 2-7 5 0 2 2 3 4 3 10-1 5 3 10 8 0 12 5 3 7 2 10 6 2 3 1 3 0 1-3 0-6 0-10-5-9 1-2-2-1-4 2-8-6-10-6-2-9-1-5-4-12-3-8 5-1 2 2 3 3 1 11 3 7 0 0 1-4 3-4 6 1 2 4 6-5 5-1 4 1 10 4 8 0 2zM200 103l-4 0-2 0-2-3 0-3 5-3 8-2 5-4 3-1 4 2 6 4-1 3-2 2-11 2zM118 120l-6 0-3-3-2-3 1-13 1-3 2-1 3 0 2 1 0 10 6 8-1 3zM73 107l-3-1-3-1-1-2 0-2 3-1 5 1 0 3zM76 187l-5 0-2-1-2-2 8-8 0-2-5-4-2-3 8-5 0-2-1-4 2-4 0-2-22-11-2-2 1-5 0-1-8-3-3-2 1-2 6-3 2-2-1-8 1-2 2-1 3 1 5 5 6 3 2 2-1 3-7 3-3 2-1 3 1 1 11 4 7 6 3 1 10-2 8-5 11 7 10 2 2 2 0 4-2 3-8 3-6 4-7 3-3 0-2-1-3-3 0-2 3-3 11-2 1-3-1-3-5-2-5 0-10 8-3 10 2 6 1 5 5 6 1 3-1 2-2 1zM85 131l-5 1-4-2-2-2 0-3 1-2 8-3 2-1-4-6 0-1 10-3 3 1 4 3 1 3-2 2-7 3 0 7-2 2zM236 169l-5-1-3-4-2-3 8-6 1-5 16-1 1-1 0-3-3-3-7-4-5-6-10-2-5-7-12-4-1-4 3-3 3 0 5 2 7 6 8 2 6 8 14 4 3 6 6 7 1 2-1 2-2 1-6 1-2 4-12 4-2 2-1 5zM12 128l-5 0-6-4-9 1-9-2-3-2 0-3 1-2 3-1 13 0 9 4 12 1 5 3 0 1zM143 131l3-2 3-3 0-3-1-2-4-1-8 1-2 4 1 3 4 3zM0 242l-3-2-1-3 7-15-11-4 5-6 1-8 1-1 3-1 2 1 4 5 0 2-5 11 1 1 6 1 9-2 5 1 5-3 3-1 16 4 3-3 2-4-2-3-3-3-8-2-4 0-3 1-7 7-4 0-4-2-3-3 0-2 3-6-10-5-5-7-6-4-1-2-1-4 3-9 2 0 6 1 3 0 2-2 2-7 8-1 10-6 2 1 4 13-1 5 5 10 0 2-7 2-3 0-2-1 0-7 3-6-2-2-6-2-3 0-3 1-3 5-8-1-2 2 0 2 6 7 3 2 11 2 0 3-2 7 0 1 4 1 5 0 14-6 1-3-2-7 1-2 7-5 1-3-1-2-5-4 2-8-1-4-1-2-4-2-10-1-1-1 2-8-1-2-1-2-7-2-2 1-3 7-2 2-2 0-11-4-11-1-9-4-12 1-1-1-2-6-2-1 0-11 4 6 5 2 7 6 3 1 13-4 22 5 1-1 2-4 0-8 6-1 5 2 1 2-1 8 1 3 7 4 5 5 12 10 2 4 0 4-5 3-2 3 0 5 4 6 0 2-5 10 2 10-2 9 1 2 4 3 4 2 9 0 8 1 5-2 3-2 2-8 2-2 6-1 3 2 0 4-1 4-11 13-3 3-4 0-8-2-11-1-13-3-12 3-13-2-7 2-9 1-4 7-3 2zM198 180l-3 1-3-1-4-4 1-5 6-10-5 0-3-2-1-7-3-7 3-5 1-8 2-2 5 1 4 3 0 3-4 7 1 5 2 3 2 1 7 0 6 3 8 2 3 3-3 4 0 5-1 2-6 3-2 0-1-3 2-7 0-2-4-1-9 1-1 1 0 2 3 10-1 3zM-16 240l-7 0-2-2-1-6-5-1 0-13 6-3 3-3 1-2-4-3-6-1 0-16 2-6 0-3-2-3 0-14 5 3 6-1 2-1 1-4-1-4-4-4-3-1-6 2 0-12 1 0 3 1 5 6 9 1 7 6 9-2 4 1 2 2 2 3-1 2-1 0-8 2-5 3-11 1-2 2-2 4 0 3 3 6 0 3-7 5-1 3 0 3 2 2 4 1 3-1 5-4 2 4-1 2-6 4-3 4 0 2 9 7-5 3-9 2-2 2-1 2 1 2 9 0 4 3 1 3 0 2-2 2zM110 184l-5 0-3-2-1-4 1-6 3-4 5-3 4-1 4 1 0 2-4 8-2 8zM179 202l-3 0-4-2-5-7-6-4-4-1-9-1-5 0-3 2-4 6-1 0-9-3-10 1-2-2-1-3 2-2 8-1 4-2 2-3-2-8 2-2 3-1 6 2 4 6 4 3 4 0 8 0 15 5 6-2 4 0 4 1 5 3 7-1 2 2 0 3-2 2-7-3-9 3-2 2zM272 211l-3 0-4-2-1-4-4-5-2-3-1-9 0-5-2-3-6-6 0-1 5-2 4 1 13 7 1 1-1 2-8 5 8 8-1 9 3 1 5 0 0 3-3 2zM162 243l-5-1-6-5-7-2-6-16-2-4-3-1-13-2-6-2-6-4-1-2 1-3 3-2 4 1 8 3 8 1 6 5 3 1 5-2 3-2 0-2-1-4 2-2 4-2 3 0 4 2 1 2 0 6 0 1 8 6 7 1 6-2 2-2 2-5 10-5 4-1 6 1 6-3 3-4-3-8 1-2 2-1 9-1 4-6 3 0 4 2 16 10-1 1-5 3 4 9-1 3-3 1-7-4-3-4 2-2 6-3 0-2-7-4-6-1-3 0-1 4 3 7-6 4-1 3 2 2 10 4 3 3 0 2-7 4-3 7-9 5-1 7-2 2-5 0-4-3 0-1 3-4 1-2-2-4-3-2-3 0-1 0-1 3 0 7-1 1-2 1-7-5-3-7-4-2-14 0-12 6-1-1 3-8 0-3-3-2-4 1-4 4-1 4 1 3 5 4 2 4 4 1 4 0 13-4 3 1 2 1 0 2-2 2-5 4-5 3zM95 200l-7 0-2-2 0-2 1-3 2-2 3-2 3-1 2 0 3 3 3 4 1 2-2 2zM76 216l-2 0-2-1-4-6 0-10 0-2 2-2 3 1 3 4 5 5 0 2-1 3zM199 220l2-2 2 0 8 1 7-1 4-2 1-3-2-3-3-3-10-4-3 0-3 3-4 7-5 4 0 2 1 1zM260 220l-12 0-2-1-1-3 2-3 5-3 4-1 5 0 1 1 1 2-1 6zM170 404l-4 0-8-5-7-1-4-3-2-3 10-3 2-2 1-2-8-8-9-11-9 0-3-3-1-3 1-2 7-4 2-2 2-8 5-7 1-5 3-3 7-4 10 2 8-1 1-1-2-6-2-3-3-1-4 1-8 5-4 0-4-3 5-5 10-2 3-1 2-3 0-2-4-5-5-10 0-9-3-4-3-1-7 0-8-3-7 0-4 1-5 5-5 1-4-1-4-5-1-2 1-1 11-2 4-4 8-5 1-2-4-8 0-5-2-1-6 2-1-1 0-4 4-5 0-2-4-3-8-4-3-2 0-3 3-3 7 1 8 3 3 4-2 7 0 2 4 3 9 2 7 8 1 2-1 1-8 4-3 3 1 3 4 4 5 1 6-1 4-3 4-6 10-8 6-1 4 2 2 4-1 3-5 3-9 1-3 3 0 3 4 7-3 7 0 5 2 4 3 2 5-1 4-4 0-3-3-10 2-3 3 0 4 5 6 6 3-1 3-3 1-2-1-2-8-7-1-8 0-3 5-4 2-4 8 1 4 0 10-8 4-1 6 0 4 1 8 4 11 3 4 3 2 3-1 2-4 2-6 1-4-2-7-7-6-1-14 3-14 6-1 3 0 5 2 3 3 2 4-1 6-3 3-3 2-5 3-2 3 0 4 1 2 2 1 3-1 2-8 4-5 8-8 1-2 1-1 2-1 5-3 3-3 1-2-1-7-4-2 0-3 3-1 2 0 7-8 6 2 6 5 7 1 3-4 4-7 3 0 2 3 9 3 0 3-1 9-9 1-6 4-4 4-1 4-1 5 1 3 2 1 1-1 3-5 4-4 1-8 0-2 1 0 6-3 9 2 3 6 4 2 0 2-2 2-10 1-3 3-1 7 2 4 0 3-8 3-3 4-1 5 1 4 8 3 3 9 2 10 0 4 1 1 1 0 1-8 11 1 10 1 2 10 3 6 7 0 3-5 3-5 0-6-5-3-9-10-1-8 5-5 6-5 3-4 10-3 4-3-1-2-6-2-2-5-1-3 1-2 6-2 2-13 6-4-4-9-4-8-6 0-2 1-3 6-9 2-5 0-1-2-1-5 1-11 5-3 2-1 2 5 8 1 6 7 9 1 5zM278 249l-5 1-4-1-7-7-9-6-13 0-5-1-3-3-1-4 3-2 10-2 8 8 3 0 4-3 4-6 9 0 6-3 0 10-4-1-3 1-3 2-2 4 1 2 2 1 9 1zM114 259l-3 1-2-1-5-7-6-4-5-8 0-3 1-2 5-2 5 1 4 4 1 8 3 2 7 0 0 2-1 4-2 4zM62 334l-5 0-4-2 0-1 3-5 1-3-10-17-1-3 0-6 11-11-5-13-1-2-5 1-4 0-7-4-5-7 2-5-2-3-3-2-11-1-2-1 0-5 2-3 3 0 10 1 8-4 6-1 4 2 1 4 2 2 7 1 5-1 6-4 4 0 10 4 9 5 2 2 0 2-2 0-11-3-6 0-6 1-8 3-4 0-8-2-6-6-2 1 0 9 12 13 9-4 3 1 6 9 0 2-9 6-1 2 3 3 9 6 6 12 1 0 2 0 8-6 5 2 2 3 0 3-1 2-10 3-3-1-4-4-14-1-2 1-3 4 1 2 8 5 3 3-6 9zM194 246l-9-1-2-2 1-2 4-3 4 0 2 1 2 4-1 3zM-16 261l-5 1-6-1-3-2 1-2 1-3 4-2 19-5 4 1 3 3 0 1-2 1zM10 254l-2 1-3-2 2-1 3 0 1 1zM114 406l-6 0 2-4 0-2-6-6 0-7-5-7-4-2-4-1-3 6-4 0-2-2-1-2 3-3 3-1 1-2-1-1-4 0-14-8 1-3 7-3 3-2 0-2-1-2-4-3-5 0-3 1-4 6-3 1-3-1-7-5-13-15-2-1-7-2-2-2 1-5 2-3 3 0 11 1 2 2 4 10 2 4 6 6 5 1 3-2 4-4 10-8-5-9 1-2 5-4 3-1 6 7 3 1 3-2 5-7 3 0 9 0 3-1 0-4 0-6-4-1-10-2-1-1 6-6 0-2-1-2-20-4-5 0-2-2-3-5 0-1 1-1 9 1 7-3 0-1-4-4-8-2-7-5 0-3 4-2 4 0 7 4 9 1 6 3 1 2-1 2-9 5 3 4 5 4 6 2 11 0 6 3-7 8-1 5 1 2 8 3 1 3 0 3-7 6-2 4-1 2-4 1-10 1-3 2-1 4 4 7 0 2-5 2-4-2-1-2-1-8-3-3-5 1-5 3 5 11 0 9 3 6 1 13 9-4 8-1 7-4 2 0 2 2 1 4-1 2-9 0-2 2 0 3 4 5 1 5 12 5 4 3 1 2-10 6-2 4zM-9 318l-5 1-6-2-4-7-7-4 0-4 6-6 7 0 8-3 0-2 0-7 4-8-4-2-4 2-8 7-4 9-2 1-3-2 0-5 4-3 1-2-2-3-3-2 0-6 4 1 16-1 22-9 7-1 4 0 1 2-2 8 3 5 3 3 7 0 4 4-3 6-2 7-2 2-9 1-19 10-4 0-1-1 1-2 3-5 10-5 8-7 5-2 2-3-1-2-7 4-5-2-2-2 1-6-1-3-4-3-5 2-4 3 0 2 5 5 0 2-3 5-7 12-8 6 2 3 6 4 0 3zM239 318l-15-1-3-2-1-2 2-4 10-1 3-2 2-3 1-3 0-10-1-2-6-4-2-2 0-2 7-5 4-4 5-1 7 1 2 2 5 5 1 5-3 1-7 1-3-2-3-2-1 0-1 4 4 6 1 6-3 14-3 6zM148 308l-7-1-5-2-1-2 4-5 1-2-12-7 1-2 4-2 8-1 4 1 4 3 1 3 0 5 2 8-1 3zM261 332l-2 1-3-2-4-6 1-3 4-4-3-6 0-4 2-5 5-7 1-10 1-1 5-1 4 2 2 3-4 11-3 7-1 3 2 6-3 4 0 7zM221 303l-2 1-2-2-2-9 0-4 2-2 3 0 5 2 4 2 1 2 0 2-2 2zM203 309l-4 1-4-3-3-5 2-3 4-2 3 0 7 4 2 2-1 2zM62 306l2-3 0-3-4-3-4 1-1 2 1 3 3 2zM12 328l-5 0-4-2-1-3 1-3 14-9 7-1 8-10 2 1 4 2 1 4-2 5-3 2-7 1-7 5-5 6zM119 358l-4 1-6-6-1-1-6 6-3 1-4-1-2-3 3-5 3-2 3 0 7 4 2-4-4-6 0-1 5-3 10-4 3-6 6-5 2-7 5-1 7 3 1 1-8 7-3 6-7 6-4 8-1 9zM-13 345l-8-2-10-6 0-20 3 2-1 8 3 3 6 1 13-3 3 0 3 3 2 5-8 0-4 1-1 2zM195 366l4-2 3-3 0-3-2-3-2-1-8 1-3 0-10-10-3-5-10-5-7-1-4 1-3 2 1 2 1 2 10 5 1 3-2 2-2 1-9 1-5 1-2 4 0 5 15 0 3-2 5-5 4-1 6 2 3 2 3 4 6 3 3 1zM62 406l-11 0-4-6 1-2 4-3 7-2 2-2 3-5 0-4-1-2-3 0-11 1-4-7-7 1-3 3-1 5 4 6-1 2-13 5-2-1-1-4 2-7-2-7 1-4 3-2 10 0 2-2 1-3-2-3-6-2-1-1 3-7-1-2-4-1-11 2-4-1 0-7 0-4 1-2 4-1 4 0 7 6 9 4 1 4 6 7 3 14 13-2 15 9 1 2-3 6 1 3 2 2 3 1 11-1 7 1 2 2-1 7-10-1-8 3-7-8-9-1-1 1-1 2 1 8zM222 376l3-2 2-4-8-4-2-2-1-2 2-2 6-5 4-7 4-1 2 2-1 12-5 7 0 1 3 1 3-2 4-4 7-2 2-3 1-5-1-5-6-9-3-2-7-1-7 1-3 6-11 7-2 3-2 11 1 7 3 3 5 1zM-2 358l-6 0-4-2-1-3 1-7 12 2 9 4-1 2-2 2zM10 384l-3 1-3-1-10-14 2-2 9-1 4-6 3-1 6 2 2 3-2 2-8 2-1 1 0 3 4 6 0 3zM142 392l-5 0-8-8-8-5-2-2 0-3 2-1 8 0 11 6 1 2 3 10zM192 388l7-6 2-3-1-2-4-3-4-1-3 0-5 2-1 5 1 4 3 3 2 1zM259 393l-6 1-11-5-3-4 0-4 2-2 13-2 3 0 3 13z" fill="#f9b4aa" fill-rule="evenodd"/></g>
<path d="M26,2.6 C29,0 35.5,-0.8 38.5,1.2 C40.5,2.6 41.5,5.8 44.5,6.4 C48,7.1 52,6.8 55,8.3 C58,10 60,12 60.5,16 C61.6,24 61.6,36 60.6,46 C60.1,50 58.8,53 58.3,57 C57.5,64 58,73 57,81 C56.6,85.5 55.5,88.5 52.5,90.3 C50,91.6 47.5,92.4 45,92.7 C41,93.3 36,93.5 32,93.3 C26,93 20,91.5 15,89 C9,86 4.5,83 3,78 C0.8,71 -0.2,63 0.1,56 C0.5,48 2.5,40 5,33 C8,25 11,18.5 15,13 C18.5,8 22.5,4.8 26,2.6 Z" fill="none" stroke="#b3181d" stroke-width="1" opacity=".9"/>
</g>
<g transform="translate(457 503)">
<path d="M26,2.6 C29,0 35.5,-0.8 38.5,1.2 C40.5,2.6 41.5,5.8 44.5,6.4 C48,7.1 52,6.8 55,8.3 C58,10 60,12 60.5,16 C61.6,24 61.6,36 60.6,46 C60.1,50 58.8,53 58.3,57 C57.5,64 58,73 57,81 C56.6,85.5 55.5,88.5 52.5,90.3 C50,91.6 47.5,92.4 45,92.7 C41,93.3 36,93.5 32,93.3 C26,93 20,91.5 15,89 C9,86 4.5,83 3,78 C0.8,71 -0.2,63 0.1,56 C0.5,48 2.5,40 5,33 C8,25 11,18.5 15,13 C18.5,8 22.5,4.8 26,2.6 Z" transform="translate(3.2 3.4)" fill="#7d6c62" opacity=".5" filter="url(#sh)"/>
<path d="M26,2.6 C29,0 35.5,-0.8 38.5,1.2 C40.5,2.6 41.5,5.8 44.5,6.4 C48,7.1 52,6.8 55,8.3 C58,10 60,12 60.5,16 C61.6,24 61.6,36 60.6,46 C60.1,50 58.8,53 58.3,57 C57.5,64 58,73 57,81 C56.6,85.5 55.5,88.5 52.5,90.3 C50,91.6 47.5,92.4 45,92.7 C41,93.3 36,93.5 32,93.3 C26,93 20,91.5 15,89 C9,86 4.5,83 3,78 C0.8,71 -0.2,63 0.1,56 C0.5,48 2.5,40 5,33 C8,25 11,18.5 15,13 C18.5,8 22.5,4.8 26,2.6 Z" transform="translate(.35 .35)" fill="#df282c" stroke="#f8a9a1" stroke-width="3.3" stroke-linejoin="round"/>
<path d="M26,2.6 C29,0 35.5,-0.8 38.5,1.2 C40.5,2.6 41.5,5.8 44.5,6.4 C48,7.1 52,6.8 55,8.3 C58,10 60,12 60.5,16 C61.6,24 61.6,36 60.6,46 C60.1,50 58.8,53 58.3,57 C57.5,64 58,73 57,81 C56.6,85.5 55.5,88.5 52.5,90.3 C50,91.6 47.5,92.4 45,92.7 C41,93.3 36,93.5 32,93.3 C26,93 20,91.5 15,89 C9,86 4.5,83 3,78 C0.8,71 -0.2,63 0.1,56 C0.5,48 2.5,40 5,33 C8,25 11,18.5 15,13 C18.5,8 22.5,4.8 26,2.6 Z" fill="#df282c"/>
<g clip-path="url(#mc)"><path transform="scale(.25)" d="M9 2l-3-2-4-6-4 1-6 3-10-4-1-1 1-7 1-1 6-3 2 0 5 3 7 5 4 0 2-2 1-6-4-10-2-2-2-1 21 0-4 3-2 2 0 3 1 2 4 3 10 1 1 1 0 3-1 1-7 3-9 4-5 6zM100 193l-6 1 0-1 1-12 2-6-2-10 1-4-2 0-2 2-4 2-6-2-2-1-1-2 9-3 1-2 0-2-4-2-11-1-5-2 1-2 4-4 2-2 2 0 14 4 5 7 4 4 5 0 3-3 0-5-2-5-8-3-2-5-2-2-15-1-5-9 0-1 1-1 4-1 10 3 7 0 0-3-8-4-2-3 0-4 4-6-1-4-4-6-17-2-3 2-3 7-2 3-2 0-2-1-3-4 0-3 1-2 4-4 7-4 7-6 2 0 3 2 8 8 7 1 4 2 3 4 2 4 0 2-4 6 2 8 2 2 2 0 7-3 1 1 2 7-1 2-3 0-10-1-1 2 0 3 2 2 4 3 4 6 3 0 8-5 2-2-1-3-3-5 4-5 1-8-2-3-6-1-2-1-1-3 1-3 2-2 3-1 5 0 9 4 6-1 4-1 6-6 6-3 10-7-9-6-1-2 2-2 6-1 3-2 2-2 0-3-5-5-6-3-5-4-10-4-2-2 1-3 6-4-2-6-2-2-4-1-3 1-3 2-3 5-2 0-5-2-5-4-7-2-4 0-10 3 0 10 2 3 7 4 1 6 3 3 17 7 7 0 2-1 1-1-1-5-1-2-12-1-7-5-7-3 2-5 3-1 8 3 11 1 2 2 3 7 3 1 11 1 1 1 1 2-2 3-2 2-11 1-3 6-14 8-1 3 0 5-4 3-3 0-3-2-6-8-8 1-3-1-2-2-1-3 0-2 2-2 9 0 5 5 2 0 7-1 2-2 1-2 0-2-2-2-10-3-5-4-2-2-2-5-3-1-2 0-2 3 0 2 2 5-1 4-3 2-5 0-2-2 0-2 1-8-6-5-1-2 1-3 3-2 11 1 3-1 0-2-8-6-1-4 1-1 8-2 3-4 5-4 1-3-4-3-9-2-5-2-9 0-9-3-8-1-10-5-3 1-4 5 0 2 2 3 4 2 16 3 15 0 4 1 2 2 2 3-2 6-1 1-4 0-10-3-8-1-18-8-3 1-7 4-4-1-3-1 0-2 1-2 9-7 0-2-6-4 2-10 3-3 13-5 1-2 2-4-1-3-1-1-10 1-4-1-2-3-1-7 13 0 3 4 3 1 7-3 1 2-2 6 2 3 3 1 2 0 2-1 0-4 1-2 12-4 4 4 12-1 1 3 0 5-2 1-9 3-1 4-1 1-4 0-2-1 0-2 4-3 0-3-3-2-6 3-1 5-3 2-4 0-6-2-4-1-4 0-2 3 0 4 3 3 13 2 7-1 3 0 10 11 5-1 7-4 14 0 5-1 9-6 4-1 3 1 3 4 0 4-10 2-7 4-8-1-3 3 0 4 2 2 4-1 6-2 3 1 1 2-1 8 1 2 7-2 5-6 1-3-1-8 1-4 3 0 3 2 5 6 3 0 3-2-3-9 8-2 3-2 1-3-1-9-1-3-2-2-3 0-4 0-2 3 0 5-1 3-2 2-2 1-12-2-8-5-8-1-7 5-8 2-3 7-1 1-2 0-5-4-2-5 1-1 7-1 1-1 2-6 8-1 3-2 0-4-2-10 9 0 0 4 1 4 4 8 5 3 4 0 6-2 4-2 1-2-2-3-10-2-2-3-1-5 12 0 3 5 2 2 5 0 8-2 2 1 4 5 3 2 3 1 6-1 3 1 2 2 4 6 5 7 5 3 6 2 7-1 3-1 3-4 4-3 3-1 2 2 2 5-2 4-7 3-4 4-3 2-3 0-7-1-2 1 1 3 2 2 6 1 4 1 4 2 3 3 0 2-1 4 2 4-1 4-2 3-3 2-6 2-1-1-2-3 0-3 1-2 6-6 0-1-2-2-9-4-3 1-1 1 2 13-3 2-5 1-4-2-1-7 1-3 6-5 0-1-1-2-4-3-2-1-8 3-2 2-1 6-2 5 0 4 3 3 7 2 1 2-2 2-7 1-3 1-2 3 1 3 4 2 4 1 3-2 4-6 10-2 6 2 1 2-1 5-1 2-1 1-11 0-6 3-3 7-4 6-1 4 1 2-4 2-2 6-5 6-2 6-13 5-9 0-4 2-1 2 1 5-5 6 1 3 4 4 11-4 1 4-2 8 4 3 3 0 3-2 5-9 0-2-3-2-4-2-5 0-2-2-1-5 4-7 3 0 4 3 10 9 3 1 11-4 0-4-1-2-2-1-11-3-3-3 0-2 1-1 7-1 10 0 1 8 2 2 4 1 8-2 6-6-1-1-8-2-11-1-2-10-7-7 7-2 6 0 1 1 1 5 3 3 12 4 1 4-2 5 8 2 8-1 1-1 0-4-4-6-7-4-3-5-16-6 0-3 2-2 10-5 2-7 7-7 6-3 5-3 2-1 4 4 2 1 6 0 4-3 2-8 8-1 6-3 0-3-1-3-5-3-2-2 1-7 2-3 4-1 6 5 6 2 3 2 0 1-6 4-1 9 1 2 5 3 2 3 0 2-2 5 0 2 9 4 2 2-1 7 2 3 0 14-3-4-7-3 0-2 1-4 0-2-6-8 0-7-5-3-6-2-5 0-1 2-1 5-7 1-2 2-3 5-2 1-3-2-7-7-4 0-3 1-2 3 2 5 4 4 5 1 9 0 5 1 4-1 4-3 4-7 4 1 3 3 1 4-1 4-6 5-2 5-3 4-2 6-6 2-8-1-5 4 0 1 1 1 6 0 3 2 1 4-2 4-4 3-4-1-2-2-3-6-2 0-2 6-3 2-17 5-6 3-7-2-3 1-1 1 1 5-2 3-7 5-5 5-12 7-2 0-7-1-9 4-10-4-4 1-1 3 1 5-9 3-3 3 0 8-6 10 0 2 2 4 0 3-3 5zM278-2l-5-3-7-5-13-7-4 0-4 1-7 6-8-3-12 3-11-4 3-5 2-1 12-1 9 2 5-2 3-3 1-2-5-3-1-2 12 0 1 3 10 5 3 1 2-1 1-1-1-7 14 0 0 8-6 2-2 2 5 4 3 4zM172 0l3-3 0-3-4-4-4 0-2 3 2 4 2 3zM235 39l-7-1-3-4-1-4 2-6-5-8 0-3 1-3 2-2 6-2 5-8 3-3 2 0 7 3 16-1 4 2 2 3 1 5-2 3-3 2-3 0-15-6-3 1-9 4-2 3 0 7 1 3 4 4 1 2-2 8zM185 15l7-4-1-3-2-3-3-1-4 0-6 1-3 2 1 2 7 5 2 1zM7 46l-2 0-10-3-4-4-9-2 0-2 1-6-2-5 1-4 2-2 8 4 3-1 2-3-2-7 2-3 9 1 5-4 14 3 1 1-2 2-6 5-3 0-7-4-2 1-2 3 0 3 3 5 2 2 6 2 2 3 1 4-1 4zM166 20l2-1 2-2 1-8-3 0-4 0-9 4 1 3 4 3 3 1zM157 32l3-1 2-2 0-2-2-3-3-2-6-1-3 0-2 2-1 3 1 3 5 2zM0 38l3-1 2-3 2-3-1-2-8-1-5-1-2 1-1 2 3 7 3 1zM49 80l-3-1-3-4 0-3 3-6-5-1-4 0-2 2-4 5-4 2-2-2 0-7-1-4 0-1 7 0 4-1 6-4 5-4 8 0 2-2 1-3 0-3-2-2-5-3-12 2-2 1 1 4-2 2-13 4-3 0-1-2 0-4 2-4 4-2 10-1 2-7 3-2 6 0 7 4 8 2 8 8 2 4-1 9 4 13-1 3-2 2-9 1-7 4zM157 49l3-1 2-3 0-3-1-2-6-2-7 2 1 3 3 5 3 1zM-20 105l-9 0-2-2 0-3 4-4 18-14-1-3-5-4-8-4 0-2 1-2 5-5 3-6 2-1 4-1 9 3 2-2 4-6 9 3 4 5 0 2-6 4-2 3 4 7 1 4-2 1-19 8-3 5-8 4-1 2 0 6zM60 69l2-4-1-5-5-5-2-2-2 0-3 4-2 9 8 4 3 0zM-2 76l4-1 3-3 2-4-1-3-4-1-5 0-5 1-3 2 0 2 1 3 5 3zM211 82l2-1 1-1-2-7-3-2-4 0-1 1-1 3 1 7 2 1zM130 91l-4 0-1-3 3-2 7-2 4-7 5-1 5 3 0 5-4 4-10 1zM46 91l-3 1-7-1-9 1-5-1-2-2 1-9 1-1 3-1 10 5 12 0 2 2 0 2 0 2zM231 90l4-3 2-3-1-4-2-2-3 0-15 4 1 3 4 3 7 3zM227 146l-11 1-4-1-2-2-1-4 4-3 11-3 2-2 6-11 6-4 10-16 3-2 8-2 3-2 0-2-5-5-1-2 1-2 2-1 4 0 9 7-7 15-2 2-8 1-3 2-1 2 1 7-2 3-2 0-9-1-1 4 1 6 10-4 7 3 9-2 0-7 2-5 0-7 3-1 8-2 0 10-3 1-1 1 0 2 4 4 0 8-4-3-6 0-1 1-2 8-1 2-2 0-2-1-5-5-3 0-3 3 0 6-2 1-4-1-3-2-1-8-1-1-5 3-2 8zM-13 142l-5 1-7-7-6 0 0-10 5 5 2 1 8-4 8 0 4-3 7 2 6-2 3-3 0-1-1-2-3-2-18-5-2-3 0-4 9-9 4-3 6-1 11 1 3 5 8 6-3 6-1 6-6 5 2 5 0 3-6 4-8 2-3 0-5-4-5-1-2 3-2 7zM32 146l-11 0-2-3 2-3 6-4 3-7 8-4 1-2-2-5 0-7-5-7 4-5 3-2 3-1 2 1 2 2 2 12-6 13 4 7 6 4 2-2 2-3 3-12 0-2-6-5 1-2 5-3 5 2 3 0 4-6 2-2 4-2 3 1 2 3-1 3-4 3-7 3-2 3 0 3 3 4-3 5-1 3 4 6-1 1-8 2-9-1-4 3-10-2-4 2zM14 112l4-2 1-3-1-3-3-2-7 0-5 2-2 2 0 3 4 3 5 1zM217 126l-8 0-1-1-1-2 2-3 4-2 3-2 2 1 2 2 0 4-1 2zM203 139l-4 0-7-2-4-10 1-3 2-1 12 4 2 10zM136 139l2-1 0-2-4-4-3 0-4 2 0 2 2 3 3 1zM203 206l-8 0-8-2-9-6-10-3-4 0-8 2-3-2-4-6-4-3-1-2 0-4 4-1 9 4 7 3 5 0 3-1 0-5-5-9 4-5 1-3-1-2-4-1-1-2 2-4 1-5 1-3 14-8 4 0 3 1 1 4 0 3-4 3-13 5-2 3 2 3 7 2 7-1 4-2 9-9 4-1 2 2 2 7 3 5 0 2-2 8-1 1-4-1-5-6-2-1-7 3-10 0-2 1-2 3 0 3 1 3 3 3 3 0 9-6 3 0 3 2 6 8 2 0 6-3 4 2 9 3 2 3-1 9-1 4-2 1-5 1-3-1-1-1 1-6 0-3-2-3-3-2-9 0-20-5-9 2 0 4 3 4 8-1 16 2 4 7 0 2zM16 162l-4 0-4-6-6-5-7-8 0-2 4-2 4-1 8 7 6 4 3 4 1 4-2 3zM278 172l-4 0-17-10-7-9 1-3 3-1 11 0 7-6 6-3 0 12-7 2-1 3 1 3 7 3zM36 194l-4 1-4-1-4-3-6-3-3-3-1-6-8 2-7-1-4-1-3-2-2-3 0-3 0-2 9-5 5 0 2 2 0 5 2 2 5 2 5-4 9-2 4-3 2-2-2-8 1-4 2-3 3 0 6 2 2 1 4 6 6 2 2-2 1-3-2-6 1-2 3-1 6 2 0 5 7 5 1 2-4 7-1 1-2 0-10-7-6 5-6-4-6 1-2 2 3 5 0 2-2 2-6 0-2 2-1 5 2 4 5 1 6-1 4-4 4-7 2-1 7 2 5 0 3-1 4-2 9 1 6 1 2 2-1 3-8 5-2 0-7-3-6 4-11-2-3 2-4 6zM257 186l-11-3-6 2-4 0-15-8 0-2 2-6-1-6 6-13 2-1 2 1 7 2 2 2-4 11-7 4 0 2 1 2 2 2 7 1 5 3 2-1 5-5 7 1 3 2 0 2-3 6zM152 171l-6 1-4-3-1-3 1-6-5-6 2-3 7-1 6 2 2 3-3 4 1 2 3 2 7 1 3 5-2 1-7 0zM130 157l-2 1-2-3 2-1 3 1 0 1zM152 274l-3 0-3-1-1-3-1-7-6-5-1-2 0-2 6-6 0-4-3-1-6 1-3 0-4-3-1-3 1-2 3-2 8 2 5-2-7-12 2-4 5-5 1 0 1 1 3 6 2 1 8-3 8-1 2-2 0-3-3-2-5-1-10 1-6 3-2-3-10-5 0-9-2-4-4 0-3 2-4 9 0 2 6 4 1 7 3 5 0 3-2 3-6 2-4 2-5 8 0 2 1 3 4 2 13 4 2 2 0 3-4 2-9-2-4 0-3 2-4 5-2 0-4-2-2-5 5-2 2-1 0-2-1-2-2-1-2 1-2 3 0 3-7 0-2-1-2-2 0-4 2-4 3-1 7-1 6-3 2-3 0-4-2-4-4-2-3-1-4 1-7-3-8-1 2-5 4-6 1-4-1-3-6-3-3-10 2 0 14 4 1 3 4 4 1 3 0 4-2 6 0 2 1 2 3 1 11-4 2-10-7-5-1-2 2-3 7-2 2-2-2-8 2-6-3-7 1-2 2-1 10-2 8 7 1 3-1 1-2 1-7 0-2 1 7 9 11 2 0 2-1 7 3 5 3 1 8-1 7 2 15 2 2 1 1 1-2 6-4 5-7 3-5 4-12 1-8 6 0 1 1 3 3 2 6 1 6-4 6-7 2-1 3 0 1 1 1 2-5 9 0 4 1 3 5 4 7-2 3 0 3 4 0 5-2 2-4 1-12-1-4-1-3-2 1-8-1-2-4-2-4 1-3 4 0 7 1 2 5 4 2 4-1 3zM252 171l-2 1-6-1-2-1-1-2 6-2 5 0 1 2zM51 299l-7-5-3 0-10 4-2 0-1-1 0-8-3-10-2-5-6-6 4-6 0-4-2-2-6-2-2-1 0-2 4-5 0-3-2-4-3-1-4 1-2 3-2 5 0 6-1 4 2 2 5 3 6 5 1 1-1 2-8 9-8 6-4 6-2 1-2 0-2-3-1-2 6-12 7-1 2-2-1-2-4-2-2 0-4 4-6 2-3 2-3 4-2 7-5 5-3 1 0-20 12-2 3-2 1-3-1-2-7-5 2-5-8-5-2-2 0-2 4-3 11-5 7 2 8-3 1-3 2-9 0-4 8-3 5-10-1-2-7-4-2-4-2-1-8 0-8 2-3 3 3 3 3 1 7 0 2 2 0 6 2 6-10 7-6 8-2 0-7-4-1-2 0-1 6-4 2-5 5-4 1-2-3-2-10 0-4 3-3 1 0-9 6 4 2-1 4-7-1-4 0-2 6-4 2-4 5-1 4 1 5 2 6 5 16 3 1 1-1 2-4 5 7 6 2 3-3 3-4 3-9 2-2 1 0 3 0 3 2 3 2 1 4 0 5-4 6-2 5 0 5 3 1-1 0-4-6-8-1-3 3-6 1-6 3-2 8-4 10-2 6-6 2 0 3 2 0 2-2 4 0 3 2 1 8 2 1 1 0 3 0 2-4 1-5-1-8-4-12 0-2 1-2 3 0 8 1 4 4 4 0 7 1 4 4 3 9 4 2 2-2 3-6 4-6 7-1 3 1 6 8 3 7 8 2 1 6 1 9-2 2 0 0 3-2 6 2 6-2 0-5-4-4-1-4 1-7 4-2 0-3-4 2-8-1-1-7-1-7 2-5-5-3-1-3 0-3 2-2 3 0 3 18 6 2 3 1 3 0 2zM244 205l-3 0-2-3-1-4 2-3 2-2 3-1 4 1 4 2 0 2-2 4-3 3zM136 406l-10 0-3-6 1-3 5-4 3-5 6-6 0-1-2-2-10-6 2-7-1-3-2-2-9-3-5 1-6 2-1-2 0-2 3-4-6-8 1-3 4-2 8 2 4 0 8-4 3-3 1-2-4-4-3-6-5-2-2 2 2 6-1 3-4 2-4-1-2-4-1-13-8-5-7-13-1-4 7-4 1-2 1-4 2-5-2-7 0-1 6-4 4-1 9 1 8 4 5-3 4 1 2 3 1 3 0 3-2 2-7 1-9-2-10 0-5 1-2 3 1 4 2 1 8 0 6 1 2 2 3 6 9 5 3-2 2-2 0-2-3-3-1-3 3-5 3-1 4 2 5 6 3-1 7-2 3 0 2 3 2 5 1 1 11-2 6 3 6 0 2 2 0 2-8 5-10-1-9 4-3-1-3-3 0-7-5-2-4 0-2 4 0 10 3 6 4 3 5-1 6-4 6 2 3 0 8-3 9-1 8-4 6 0 4-5 12 3 2-2 0-7 2-2 3-1 3 1 7 12 2 0 7-1 1-1 0-5-3-8-3-1-8 0-2-1-1-2-1-9-8-4-4 0-2 1 0 7-1 6-1 5-6 8-6-4-4-7-3-2-3 0-6 2-6-1-9-12-11 4-3-1-2-3 1-2 7-8 5-3 2 0 2 2 1 7 1 0 10-2 7-6 13 3 3-1 7-5 10 2 4-1 3-1 3-7 7-8 1-6-1-2-6-5-3-5-7-5-2-3 5-5-2-5 1-4 3-2 7 1 2 1 0 3-1 3-4 4 0 3 2 2 3 0 9-4 4 0 0 2 0 2-2 3-5 3 0 3 12 9 10 1 3 2 1 2 1 6 4 3 0 5-3 1-6-2-2 1-1 2 2 2 6 2 4 3 0 6-8 2-10 5-3 1-2-2-1-2 0-3 4-11 5-10-2-6-3-4-3 1-4 3-5 16-7 2-2 4-1 5 1 2 9 4 4 3 8 2 3 3 1 6 4 6-5 2-10 2-1 4 1 2 7 0 3 2 1 2 0 4-3 3-9 1-7 4-6 2-3-4-1-3 3-3 8-5 0-2-4-4-13 1-2 2-1 4 1 7 0 2-2 1-9 0-4 8-5 3-4 4-3 1-9-3-5-1-9 4-14 1-6-2-2-3 2-4 7-4 5 0 8 4 3 0 3-2 4-4 2-1 3 2 5 5 4 1 3-8 3-2 6-1 1-1-2-5-4-4-22 9-18-1-9 2-8-1-6 4-5 3-1 2 7 8 1 6-1 2-2 0-3-4-2-1-10 2-9 0-3 1-3 3 0 2 1 1 4 2 8-2 3 0 9 4 5 3 1 3-3 4-1 3 3 9 2 1 4 0 10-5 4 0 5 1 6-1 4 3 1 4-1 4-3 2-4 0-6-2-7 1-8-1-3 0-11 9-1 4 3 6zM198 260l-4 0-2-4 1-6 4-5 4-2 2 1 3 5 3 2 4 1 4-1 2-4 2-6-13-2-3-7 0-3 7-5 0-1-4-4-3-1-4 0-4 3-2 3 1 7-5 10-5 4-3 0-2-1-2-3 0-4 6-7 1-10 1-3 3-2 5-2 9-2 11 2 4 3 2 3 0 2-5 3 0 1 5 6 1 9 8 4 1 2-1 4-2 4-3 1-10 3-9 0zM82 242l-5 1-5-2-1-3 2-7-1-1-8-1-7-6-2-2 0-3 3-5 3-1 3 1 4 7 3 2 3 1 5-1-2 6 2 2 7 2 7-2 2 0 0 2-1 2zM32 244l12-4 2-2-1-2-4-4-6 2-12 0-3 1 0 4 3 3 4 2zM38 267l3-3 5-9-1-5-4-2-4 0-5 3-3 3-1 3 0 5 2 4 3 2zM88 275l-8-7-3 0-7-1-4-2-1-2 0-2 7-10 3 0 4 1 1 2 0 4 1 2 9 3 7 7-1 2zM197 287l11-1 3-4 0-4-2-2-3-1-8 3-7 0-2 1-1 3 2 3 4 3zM19 305l-5 0-8-2-5-3 0-2 3-9 3-4 2 0 4 0 4 1 2 2-3 7 1 2 6 3 1 1-2 3zM137 324l2-1 1-2-1-12-3-5-2-1-9 3-5 0-4-3-3-6-7-7-2 0-2 1-1 3 1 4 1 3 5 5 0 6 1 2 7 2 6-4 3 0 4 3 3 8 2 1zM-4 328l-3 0-2-3-1-7 0-2-7-3-4-6-9-6 0-2 1-3 4 0 11 4 4 3 3 7 3 2 6 1 5-4 2 2 0 3-3 5-6 6zM116 406l-38 0 1-2 5-4-10-10 13-4 5-4 9-4 2-2 0-2-1-2-3-2-6 2-7 0-6 3-3 0-1-6-8-9 0-3 3-3 10-1 3-2-1-3-4-8 10-4 2-2-2-3-2-2-10-3 0-7 0-3-3-3-6-4-4-10 1-2 19 4 1 3-2 7 0 2 1 2 9 4 5 10 0 3-2 5 0 6-3 5-6 6-3 9 0 3 2 2 6-1 6 0 7-5 7 8 10 4 3 7-1 4-3 1-10-2-4 0-11 9-11 7 4 3 4 0 6-2 7-5 5-1 4 3 2 7 0 1zM42 362l-3 1-3-2-4-5-7-6-1-3 0-2 3-3 8-4 0-5 3-5 3-7 3-1 8 0 5-1 2-2-2-3-3-2-4-1-16 2-2 2-5 10-2 6-9 9-2 1-2-1-3-4-1-3 5-6 2-5 6-5 5-8 11-5 13-3 6 7 7 4-1 6 2 6 2 3 7 3 2 9-5 3-1 7-1 2-3 1-7-4-7 1-2-1-1-3 0-3 1-1 3 0 6 4 2 0 6-3 1-2-3-4-9-5-5-2-4 1-2 2-2 6-4 2-1 2 2 8 2 2 4 2 3 3-1 2zM275 382l-4-2-2-2 2-10-1-2-4-1-13 2-1-1-1-3 1-7 9 0 8 4 3 0 1-2 1-4-1-3-1-2-8-4-6-1-3 2-4 10-6-1-2-3-1-4 2-4 6-4 5-6 5-3 3 0 2 1 3 7 2 2 4 1 4 0 0 19-2 1-1 2 3 3 0 13zM231 345l-4 0-6-4 1-4 4-4 8 0 2 2 1 3-1 3zM7 394l-6-1-4-2-1-2 2-2 10-2 3-2 1-4-2-2-3-1-6-2-3 2-4 5-3 0-10-2-8-5-4 3 0-8 3 1 5 0 7 1 5-1 1-3-3-5 0-2 3-4 3-2 2 1 1 1 0 8 3 4 4 2 8-1 5 3 2-1 0-2-6-1-2-3-2-7-7-5-6-6-4-10 1-2 2-2 3 1 7 7 7 4 2 10 10 4 1 7 6 3 2 3-1 2-5 4-2 8-10 1-4 5zM237 370l-1 0-1-1 0-4-2-2-9-3-8-1-2-1-3-9-1-2 1-2 2-1 2 1 5 4 9 2 7 4 2 2 1 5 2 5-1 2zM197 406l-31 0 6-3 5-9 3-1 7-1 2-2 1-2-2-8 3-7-2-2-4-2-11 0-1-4 0-3 6-4 1-4 2-2 13-4 4 1 2 3 0 4-1 3-4 3-8-3-3 0-1 1 2 2 2 1 9 0 3 3 1 2-2 6 2 5 0 5-5 12 2 5 0 3zM158 366l-6 0-4-3 0-2 3-6 3-1 5-1 5 0 3 2 2 3 1 3zM71 389l-5-1-6-6-2-5-2-5-3-3-2-4-2-7 3-1 5-1 4 1 3 2 0 2-4 6-1 3 3 2 12 5-2 11zM249 406l-11 0 3-3 0-3-2-2-6-2-2-2-3-10-3-2-11 0-5-7 0-3 6-4 8 5 9 0 3 7 7 9 3 2 3 0 2 0 2-2 1-6-2-2-7-3-2-2 1-2 1-2 3-2 4-1 2 0 9 11 1 3-2 5-6 5-1 2 1 6zM66 406l-6 0-1-4-2-2-12-6-12 2-6 1-1 2 0 7-36 0-2-4-3-2-4 0-6 2-2-1-4-6 0-10 7 2 8 4 15 7 8 6 3 1 2-1 5-4 6-4 3-7 9-1 5-2 1-1-3-6 0-4 4-3 5 0 3 2 0 3-2 4-4 5 3 2 13 1 5 3 4 5 2 4-1 3z" fill="#f9b6ac" fill-rule="evenodd"/></g>
<path d="M26,2.6 C29,0 35.5,-0.8 38.5,1.2 C40.5,2.6 41.5,5.8 44.5,6.4 C48,7.1 52,6.8 55,8.3 C58,10 60,12 60.5,16 C61.6,24 61.6,36 60.6,46 C60.1,50 58.8,53 58.3,57 C57.5,64 58,73 57,81 C56.6,85.5 55.5,88.5 52.5,90.3 C50,91.6 47.5,92.4 45,92.7 C41,93.3 36,93.5 32,93.3 C26,93 20,91.5 15,89 C9,86 4.5,83 3,78 C0.8,71 -0.2,63 0.1,56 C0.5,48 2.5,40 5,33 C8,25 11,18.5 15,13 C18.5,8 22.5,4.8 26,2.6 Z" fill="none" stroke="#b3181d" stroke-width="1" opacity=".9"/>
</g>
<g transform="translate(565 503)">
<path d="M26,2.6 C29,0 35.5,-0.8 38.5,1.2 C40.5,2.6 41.5,5.8 44.5,6.4 C48,7.1 52,6.8 55,8.3 C58,10 60,12 60.5,16 C61.6,24 61.6,36 60.6,46 C60.1,50 58.8,53 58.3,57 C57.5,64 58,73 57,81 C56.6,85.5 55.5,88.5 52.5,90.3 C50,91.6 47.5,92.4 45,92.7 C41,93.3 36,93.5 32,93.3 C26,93 20,91.5 15,89 C9,86 4.5,83 3,78 C0.8,71 -0.2,63 0.1,56 C0.5,48 2.5,40 5,33 C8,25 11,18.5 15,13 C18.5,8 22.5,4.8 26,2.6 Z" transform="translate(3.2 3.4)" fill="#7d6c62" opacity=".5" filter="url(#sh)"/>
<path d="M26,2.6 C29,0 35.5,-0.8 38.5,1.2 C40.5,2.6 41.5,5.8 44.5,6.4 C48,7.1 52,6.8 55,8.3 C58,10 60,12 60.5,16 C61.6,24 61.6,36 60.6,46 C60.1,50 58.8,53 58.3,57 C57.5,64 58,73 57,81 C56.6,85.5 55.5,88.5 52.5,90.3 C50,91.6 47.5,92.4 45,92.7 C41,93.3 36,93.5 32,93.3 C26,93 20,91.5 15,89 C9,86 4.5,83 3,78 C0.8,71 -0.2,63 0.1,56 C0.5,48 2.5,40 5,33 C8,25 11,18.5 15,13 C18.5,8 22.5,4.8 26,2.6 Z" transform="translate(.35 .35)" fill="#df2a2e" stroke="#f8a9a1" stroke-width="3.3" stroke-linejoin="round"/>
<path d="M26,2.6 C29,0 35.5,-0.8 38.5,1.2 C40.5,2.6 41.5,5.8 44.5,6.4 C48,7.1 52,6.8 55,8.3 C58,10 60,12 60.5,16 C61.6,24 61.6,36 60.6,46 C60.1,50 58.8,53 58.3,57 C57.5,64 58,73 57,81 C56.6,85.5 55.5,88.5 52.5,90.3 C50,91.6 47.5,92.4 45,92.7 C41,93.3 36,93.5 32,93.3 C26,93 20,91.5 15,89 C9,86 4.5,83 3,78 C0.8,71 -0.2,63 0.1,56 C0.5,48 2.5,40 5,33 C8,25 11,18.5 15,13 C18.5,8 22.5,4.8 26,2.6 Z" fill="#df2a2e"/>
<g clip-path="url(#mc)"><path transform="scale(.25)" d="M-28 19l-3 1 0-9 5 1 2-2 0-3-2-2-5-2 0-19 5-1 1-2-2-4-2-1-2 1 0-5 2 2 2 0 6-3 3 0 4 2-1 4-8 7 0 8 1 2 2 1 8-5 4-6 0-5-2-7 1-3 43 0-11 4-6-1-13-1-2 1-5 10 1 3 3 2 3 1 3-1 5-6 7-4 2 0 2 1 2 5-2 4-5 3-10 4-11 1-3 1 0 2 1 3 4 3 3 0 4 0 6-1 4-3 5-5 8-2 6 0 8 4 2 0 5-7 6-3 0-4-1-3-3-2-2-1-7 7-6 3-4-1-2-3 2-3 3-3 8-2 6 1 7-3 4 1 3 2 6 11 5 5 4 0 7-4 2 1 2 2-1 6-2 2-3 1-6 1-7-2-5 0-1 1-1 5-1 1-8-5-4 1-4 1 2 11-2 3-3 1-4-1-3-5 2-5 6-4 0-1-1-1-10 2-10-3-2 2 0 6-15 3-14-3-2-1-3-5-4-2-3-1-2 2 0 4 9 5 0 3-2 2-2 1-8 0zM177 58l-3-1-1-1 3-8-1-9-2-3-3-2-8-2-2-6-2-2-18-3-10-7-2-2 0-2 1-2 8-7 9-2 4-3 7-1 3-2 1-2-1-2-7-8-4-2-2 1-1 10-2 2-4 1-7-3-4 2-5 4-2 7-2 0-10-1-7 1-1 0 1-5-11-8-1-6-6 0-7-2-3-3 0-3 3-2 7-3 3 1 4 8 7 2 7 7 3 6 1 0 3-2 7-7 10-1 5-4 11-2 1-2-3-8 14 0-3 3 0 3 7 3 4 4 5 8 3 1 6-3 4 0 2 2 1 5 1 1 9 1 2 4-2 5 2 5 0 2-6 6-4 3-8 0-4-1 0-1 1-1 8-5 2-5-1-2-5-4-4-5-4-2-8 4-7-1-5 2-10 9-2 3 1 3 2 2 13-3 3-2 1-6 3-4 3-1 5 1 3 2 0 2-6 7-1 2 2 4 2 6 10 7 8-6 3 0 2 2 0 3-4 6 0 5-1 2-6 5-4 7zM276 7l-4-1-10-6-9 7-2 0-5-2-6 3-4-1-3-4-2-8-3-1-5 1-1-1-6-15-9-10 15 0 0 7 2 4 4 2 7 2 1 7 1 2 6 4 3 1 2-1 2-2 1-8-11-6-6-6-2-3 0-3 10 0 4 6 7 2 3 1 1 2-2 6 7 4 3 5 8 1 5 2 0 8zM64-2l0-4-1-3-3-1-3-1-1 4 2 4 3 1zM225 24l-2 1-2-1-6-13-6-2-2-2-2-4 2-2 3-1 6 1 5 5 11 8 2 2-1 2zM107 230l-2 0 0-9 3-8-1-2-3-4 0-2 8-6 7 6 3 1 3-1 3-5 3-8 1-2-3-2-9-2-2 7-5 5-7-3-4 0-6 7-8 3-10-6-7 5-4 0-10-8-5-6-4-1-3 0-9 6-7 1-4 6-3 3-13-1-3-2-1-3 2-3 6-4 3 0 8 1 2 0 3-7 3-3 13 0 4-2 6-12 1-3 0-2-5-4 0-2 10-10 4 1 5 3-1 2-6 4-2 3 2 2 6 2-2 6 1 4 2 1 5 0 4 2 8 4 1 3-4 5-2 1-2-1-3-2-7-8-4-1-8 3-3 2 0 2 4 3 11 3 7 5 2 0 4-2 6 0 4-1 22-12-2-4 0-7-2-3-4-3-10-1 4 10 0 4-1 3-2 1-2 0-3-1-4-7-3-3-9-5-7-1-1-1 2-2 2-2 7 1 8 0 6 1 1 0 0-1 0-4-2-2-11-4-8-1-1-8-3-3-7 1-6 4-10 5-3 3-1 7-2 2-2 0-11-4-13-1-4-6-8-3-5-7-7 2-3 0-4-2-7-7-8 4 0-15 4-4 3-6 2 0 5 0 2 7-4 5-7 3 3 3 7 0 11 3 6 4 12-1 2-1 1-3-2-4-3-2-7 3-4 0-6-9 2-6 0-2-3-2-7-1-4-5-4 0-2 1-3 5-4-1 0-11 1-2-1-1 0-9 3 0 2 1 1 2-1 5 1 1 11 5 8 1 6 4 4 0 7-1 4-2 1-2-1-4-1-2-7 2-6 0-4-2-2-2 0-3-1-1-7 1-3-2-1-2-1-3 14-9 0-2-2-2-9-2-3 4-2 8-4 1-4-2-1-3 2-5 0-3-1-2-3-1 0-26 4 0 4 1 3 3 0 1-3 4-1 2 4 7-1 6 2 2 3 0 3-5 5-6 0-2-6-5 0-2 3-1 6 3 8-1 2 2 3 6 5 3 2 4 10 6 1 3-3 6 1 3 2 1 7-1 2-2 1-7-4-10-4-3-9-3-1-1 0-5-5-6 0-3 2-4-1-6 1-8 6-5 3-5 2 0 2 2 1 3 1 7-7 6-2 4 5 5 0 6 1 1 7 0 4-2 3-4-3-3-2-4-1-4 0-2 17-3 2-2 3-5 5-5 2-3 6 1 8 0 10 3 7-5 5-2 1 1-1 11-3 1-7-4-2 1-3 4 1 8-2 3-9 2-3-1-2-1 0-2 6-5 1-4-1-3-2-2-4 0-3 2-1 3 0 4 1 5-1 1-18 3-3 2-4 5 7 2 11 0 3-1 6-4 3 0 8 8 3 1 7-3 13 2 3 7 3 3 3 2 3-1 6-7 2 0 4 1 3 3 1 9 6 6 1 6 2 2 5 1 1 2 0 3-2 1-8-1-5 0-1 3 3 6 1 2 1-1 8-3 4-1 3 2 3 5 2 1 10-1 4 3 2 4-2 2-14-1-6-4-12-2-4-3-4 0-3-1-3-2-1-5-1-1-6-1-4 1-3 4-7 2-8 6-20 3-2 1-5 5-4 1-2-2-1-2 3-4 5-5 0-1-3-2-1-2 1-8 2-3 5-1 4 2 0 6-4 6 1 1 5 1 7-2 3-2 2-4 0-4-8-3-2-2 1-2 5-5 1-3-2-3-6-4-2 1-4 4-7 2-5 9-9 10-2 0-6-4-3 1 0 8 3 3 4 0 6-4 5 2 1 2-1 2-7 5 1 2 2 3-1 3-4 4-7 3-3 5-3 0-7-4-7 0-7-3-5 2-4 3 0 3 5 5 2 0 5-3 3 0 10 7 8-1 3-4 4-1 6 2 7 7 2 1 7-1 5-6 2-1 10 4 4 1 2-1 2-2-1-4-5-5-5-3-4 0-5 6-2 1-12-2-3-1-2-2 2-3 7-2 13 0 8-8 3-2 4 0 11 6-4 3-1 2 0 5 1 3 13 7 2 7 2 2 8 0-1 8 2 6-4 3-6 0-1-1-3-5-7-3-5-5-10-4-3 0-3 1-2 2 0 2 5 5 10 3 8 6 6 7 3 1 3 0 8-4 3 0 7 1 8 4 7 1 1-3 0-11 1-5 3-2 3-1 1 0 4 13-1 11 6 3 1 3 0 4-5 5-2 4-1 1-10 2-7-1-2 1 0 2 3 4 1 2-5 5-4 8-2 2-8 0-5 3-2 3 1 6zM211 223l-7 1-4-2-4-4-2-6-4-6 3-5 4-2 2 3 3 7 4 2 3 0 2-3-1-7 2-11 4-6 0-3-3-4-2 0-3 2-4 3-1 2 3 4 0 3-8 5-2 0-2-2-1-2 6-7 0-2-5-5-8 0-5-2-2-2 0-3 2-3 7-3 2 3 4 7 2 1 2-1 4-2 1-3 0-4-2-3-2-1-9 3-1 0-3-5-2-1-8 2-3 0-4-5-2-3 1-3 3-4-1-3-4-3-8 0-1-1-2-6-7-6 0-2 2-1 4-2 3 0 3 2 1 6 2 2 4 1 5-1 1-2-5-7-3-5-9-3-7-4-4 0-1 2-1 5-1 3-12 2-2 2 0 6-5 3-4-11-5-1-2-1-9-13 0-1 4-3 1-8 1-4 1-1 10 6 12 1 7 7 12 1 9 4 3 0 3-2 4-4 10-8 5 10 0 5 6 5 1 4 0 7-7 5-2 3-1 6-6 4 0 2 3 4 6 5 7 1 8 3 3-3 0-2-4-3-8-3-2-3 0-2 1-2 8-7-4-5 1-2 6-3 3-3 0-2-5-11-8-4 0-1 1-2 4-1 18 2 8-5 9-1 1 1 0 4-3 5-3 2-2 1-7-4-2 0-6 8-1 3 1 2 5 4 8 8 8-3 3 1 4 3 9-7 8 2 3-1 5-5 1-2 0-2-4-6-1-5-1-1-4 0-4 3-1 10-2 4-2 0-9-2-4 3-3 0-7-2-2-1 1-4 4-3 8 4 3-1 5-8 3-10 12 0 2-2 0-3-2-4-2-2-3 0-6 0-2 1-1 7-1 1-8 0 0-8 6-3 2-5 7-5-2-6-2-3-4-1-8 1-6-3-7 0-1 3 1 7-1 1-9 2-3 4 1 3 4 2 6-1 3-3 2-6 6-2 3 0 2 1 2 3 0 2-4 8-12 1-2 1-4 6-2 1-4 0-8-6-17 6 0-2 1-10-4-7 5-11 2-2 7-3 0-6 1-3 3-1 8-1 3-2 1-2 2-5-1-2-5-5-3-7 0-3 3-3 2 0 2 1 6 5 2 3 0 7 6 5 1 2-2 3-5 3-2 2-1 4 1 3 2 0 7-2 8 2 5-2 4-2 2-3 0-2-8-5-2-7-4-4-1-3 10-2 6-4 3-1 11 7 4 0 3-1 0-2-1-4-4-5-4 0-9 2-4-3-1-3 2-4 3-1 5-2 24 11-2 8-5 6 1 3 3 3 2 1 4 0 0 10-3-2-4-4-9-1-4-5-3-2-6-1-2 1 0 1 2 10 2 1 8 1 10 6 5 4 2 1 2 0 0 4-7 1-4-1-7-5-5-2-5 0-1 1-1 2 1 2 8 6 2 3-1 3-6 3 0 3 3 4 4 1 4-1 0-8 1-2 3-1 6-1 3 2 1 2 0 3-2 4-3 2-7 1-1 2 1 5 6 4 1 2 0 2-3 3 3 4-1 7 1 3 3 3 3 2 0 15-3-1-3-2 0-3 2-4-1-1-14 3-4 6-5 2-4-1-9-5-5 6-3 7-6 7-3 3-4 1-4-2 0-4 3-5 9-5 0-2-1-3-2-1-11 2-2-1-3-4-2 0-3 2 0 2 2 3 1 7 1 5 3 4 4 4 3 5 0 3-2 6 1 2 7 0 1 5 2 2 11 0 1 1 1 4 0 3-2 2-9-1-3 2-5 11 0 3 2 2 3 0 5-3 2-1 1 1 0 2-5 6-12 2zM119 43l-3 0-8-2-3-3-12-1-2-2-1-2-1-2 2-2 9-5 2 1 2 2 2 11 5-2 7-4 1-2-1-3-9-6-3-4 0-3 1-2 4-2 5 1 10 7 1 2 0 6-4 5-1 8zM4 27l-7-3-2-2 0-2 1-2 3-2 7-1 4 2 2 3-4 5zM143 48l-7-1-3-3 1-9-3-7 2-2 4-2 3 0 2 1 4 6 0 2-3 3 5 6 1 2-3 3zM6 39l-3 1-4-1-4-2-1-3 9-3 3 0 2 1 2 3-1 2zM172 71l-6 0-3-1-1-1 0-3 5-7-1-1-7-4-6-9 0-3 4-4 3 0 2 2 7 17 4 4 2 7-1 2zM49 71l3-2 1-2-4-7 1-3 3-2 3-1 7 2 2 0 5-6-2-3-6-2-8 2-12 2-3 2-1 4 3 6-1 6 4 4zM103 81l3-1 7-5 3-1 11 3 1-4-2-7-2-2-2-1-9 7-3 1-4-1-2-1-1-2 5-6-8-3-4-6-2-2-4-1-3 1-2 2 2 4 11 12-1 2-4 6 1 2 5 2zM151 68l-5 0-5-4 0-5 2-4 2 0 3 0 4 2 2 2 0 6zM1 62l2-2-1-3-2-1-3 0-1 1 1 3 2 2zM198 83l2-2 1-7 5-3 2-4 1-4-3-3-5 0-6 2 2 9-2 1-7 1-2 2 0 3 3 3 5 2zM-2 87l8-1 4-2 1-6 3-6-1-4-3-3-4 0-7 8 0 7-2 6 0 1zM166 88l-5 1-6-3-2-3 2-4 2-2 3-1 10 5 1 1 0 2-2 2zM30 107l11-4 2-2 0-2-2-2-7-2-1-2 0-4-9-6-3 0-6 2-1 3 1 4 7 0 3 3-3 6 0 3 4 3zM122 121l3-2 8-10-1-2-1-1-6-2-5 0-2 2-1 2 4 13zM179 124l2-9 0-3-5-2-4 1-3 3 0 3 8 7zM135 154l-6-2-3-3 9-8 0-3-2-5 0-2 4-2 5-1 2 2 0 11-6 11zM103 137l3-3-1-3-3-2-4 1-1 3 1 4 2 1zM27 148l1-2-2-6 2-6-1-2-2 0-8 7-3 6 1 2 2 1 8 1zM41 145l8-6 6-2 0-1-12-4-3 1-2 1-4 4-1 3 1 3 1 1 2 1zM233 169l-9 0-1-1 0-3 1-2 6-3 6-8 1-5 8-3 8 0 6-2 10 2 9-2 0 9-7-1-8 2-11 1-3 2 2 7-14 3-3 2zM-30 204l-1 1 0-9 1-4-1-7 0-43 5 2 3 6 2 1 3 1 7-3 2 1 3 4 9 1 8 3 0 2-4 5-1 3 8 3 2 2 0 2-1 8-2 2-3 0-3-3-2-4-1-4 1-5-1-1-7-3-4-8-2-1-6-1-3 1-9 10-1 4-3 5 1 4 2 2 2 1 8 0 2-2 0-3-4-7 0-2 5-2 6 1 2 1 1 2 1 13 8 5 1 3-2 2-4 0-4-1-5-3-4 0-10 8zM263 184l-4 0-6-4-17 0-2-4-1-6 10 2 8 0 3-2 1-6 4 1 3 3 5 11-1 3zM32 180l-2 0-2-1-7-6-1-2 1-3 5-1 10 0 5-3 2 0 3 2 1 3-1 2-8 2zM148 181l4-1 2-2 0-7 2-4-5-1-5 4-7 2-3-1-5-4-4 0-4 1-3 3 0 5 1 2 1 1 13-2 9 4zM278 406l-9 0 2-3 3-8 1-2-1-1-4-2-4 1-4-3-9-2-6-2-10 1-7-7-3 1-2 2 2 11 2 1 6-3 3 0 4 2 2 3-1 3-4 5 0 3-5 0 0-2-1-2-3-3-2-1-2 1-3 7-24 0-3-2-2-4-2-1-8 3-1 2 0 2-8 0 5-5 0-4-2-1-8-1-3-2 0-3 4-6 0-2-1-2-6-4 3-5 0-2-3-2-6-1-9 1-2 1-1 2 2 3 11 5 0 10 4 11 0 7-11 0 2-2 0-3-1-3-2-2-3 0-9 5-7-6-9 1-4-4-1-2 0-1 6-3 4-5 2-1 2 0 2 2 1 5 1 2 14 2 2-1 1-2-1-2-10-7-3-5-5-4-1-2 3-5 6-3 2-3 1-5 0-8 1-3 6-4 11-2 3-2 0-2 0-5-4-2-4 1-5 7-2 1-10-3-3 0-2 4 0 6-3 17-2 2-7 1-4 0-2-4 1-3 9-10 0-3-3-2-11 2-10-3 1 4 0 3-2 1-5 1-5 0-2-2-1-2 1-2 12-4-8-7 0-2 4-2 5-1 6 5 13 4 3-1 2-2 0-2-7-4-2-5 0-4 3-2 3 0 3 1 2 9 2 2 7-1 10-5 10 0 2-2 1-8 2-5-1-2-5 0-11 5-6-2-9 1-6-3-2-3-1-2 1-3 3-2 4-1 5 2 6 9 2-1 3-2 2-3 0-3-8-9-3-1-4 0-8 3-4 0-3-2-2-7 1-3 5-4-2-7 0-4-2-7 1-4 3-2 4 0 6 2-1 6 5 4 1 2-1 3-2 2-11 5 4 5 3 2 2 0 6-6 7-1 3-2 0-2-1-6 2-6-3-8 1-7-1-11-1-3-2-2-4-1-3 1-4 12-2 2-9 3-16 3-5 4 0 2 7 3 5 6 1 2-1 1-3 1-12-5-1-2-1-4-1-1-5-1-8 3-2-1-1-5-6 0-8 1-2-1-7-9-4-6-7-7-2-1-4 1-5 3-11-1-4 2-2 4 1 3 2 2 4 2 3 0 4-2 3-7 2-2 7 1 2 3-1 3-5 5-2 6-1 2-6 0-7-3-3 1 0 2 5 4 1 4-3 2-5-1-6-4 0-6-1-2-7-5 1-6 8-7 1-2 0-2-5-3-6 0-3 2-4 8 0 3 1 5 3 3-3 4 0 2 2 3 6 5 0 2-1 2-7 4 0 4-1 2-3 1-7 1-1 6-1 2-4 0-11-2 0-12 2-1 3-6 2-1 13 3 2-1-4-11 5-4 0-1-7-3-1-5 1-5 6-11 5-4 4-4 3 0 8 1 3 0 9-6 3 2 1 2-2 7 0 2 3 1 5-2 6-3 1-2-5-10 1-3 3-1 11 1 3 2 0 3-1 2-8 7 1 5 3 2 4-1 3-1 3-7 3-2 9-2 10 2 8-3 7 6 3 4 0 3-3 6-2 2-7 2-13 2-3 2 1 2 7 3 2 7 7 0 1-1 0-6 1-1 13-2 12-1 7-3 2-3 1-5 8-5 3-4 8-1 9-7 0-3-5-7-1-2 11 0 4-1 4-4 5-4 3-7 3-1 12 11 1 3-2 3-6 3-7-5-3 0-3 1-2 2-4 12 3 2 7 0 3-2 3-6 3-1 3 4-1 6 4 6 0 3-1 2-3 1-13-4-9-4-2 0-2 1-1 4-1 11 5 6 0 2-1 6 4 7-6 7-3 6 2 3 3 1 3-2 5-4 5-1 2 7 2 3 2 2 4 1 2-2 1-3 2-8 5-5 0-6-2-2-5 0-2 3-2 7-3 1-4 0-4-7-1-2 3-2 5-2 1-1 1-2-3-3-7-2-3-2-1-6 0-2 2-1 2 0 6 4 5 2 2-1 6-4 10 0 3 1 6 6 5 1 1 0 1-2-1-11 1-1 3 1 3 5 2 2 7 2 6 4 4 0 8-5 1-1-2-6 0-2 3-2 6-1 5-3 5-5 1-2-1-1-6-2 3-7-3-9 1-3 3-2 3 0 3 1 2 3-2 8 2 4-4 7 11 2 0 10-9-1-4 1-9 6-4 5 13 3 2-1 4-6 3 0 4 1 0 12-9-1-11 4-15-1-3 1-4 3-7-1-1 1 0 4 2 3 3-1 3-4 2-1 5 3 3 5-2 2-9 2-5 2-8 2-2-2 1-9-5-9-7-2-13 0-8-5-3 0-1 1 0 2 4 5 4 3 18 7 8 9 1 2-1 2-2 1-8 4-3 0-2-2 2-6-1-3-4-2-4 1-1 2-1 3 1 10-3 1-7 0-1 2 1 8-2 4 0 1 4 1 3-4 6-4 1-2 0-5 4-1 9 1 8-2 7 3 6 2 7 7 4 14 7 5 3 5 6 4 1 4 0 11 3 2 3-1 7-7-1-4-6-6 0-3 3-2 10-1 0 21-3 5-1 1-8 1-4 6-3 2-7 1-1-6 1-9-3-5-4-2-4 3-1 4-1 7 2 7-6 1-1 2-1 3 1 3 3 2 4 1 6-1 11 6 6 6 5 2 3 2-1 7 1 2 5 3 1 2zM120 184l-1-2-2 0 0 1zM251 215l-5 0-5-2-1-4 3-4-3-1-2-2-1-5 0-3 2-2 12-5 1 2-3 10-4 6 13 3-3 4zM-30 220l-1 1 0-7 5 2 5-9 5-3 5-6 4-2 3 2 1 4-1 2-5 4 0 6-1 3-7 2-9-2zM69 231l7-7 2 0 5 1 2-1 1-3-1-4-3-1-7 3-8 0-6 2-3 2-1 3 2 3 5 2zM234 228l-4 0-3-4 0-6 3-2 7 0 2 3 1 5-2 2zM227 245l-1-2-2-2-4 0-1 1 2 2zM140 250l-3 0-3-1 2-3 2-2 3 0 3 3-2 2zM64 284l-4 0 1-10 1-4 6-6 0-1-8-2-9 1-8-5-1-3 1-3 6-6 2 0 1 1 2 5 3 3 7-1 8 3 7 0 4 8-1 3-2 3-7 1-4 3-1 3 5 4-1 1-3 1zM263 305l-6 1-5-2-1-4 1-6-2-2-5-3-2-2 1-3 3-2 10 3 2 6 2 2 6-1 4-3 0-3-3-3-8-3-5-9 0-6-4-2-1-3 0-1 10-8 4-1 11 0 3-3 0 6-6 6-6 3-8 1 5 0 3 3 1 2-1 7 3 3 4 0 4-1 0-2 0-6 1-2 0 32-9 1zM57 321l-2 0-2-4 1-10-9-3-2-2 0-2 5-6 1-3-2-2-8-2-1-1 0-5 3-5-4-5-7-5-1-4 2-2 5-1 3 0 3 5 6 2 2 2 1 4-4 6 5 5 6 2-1 17 0 3 6 0 5-3 1-2-1-7 4-4 5-1 7 2-1 4-7 8 1 6-2 4-7 1-5 6zM48 348l-2 0-1-1-1-7 2-1 9 0 2-2-2-3-7-5 0-2 2-3 4-1 9 4 7 2 3-1 2-2 1-6 2-2 7-2 3-1 0-2-1-7 4-5 2-5 3-1 4-1 1 1 0 3-4 6 2 3 2 1 3 0 5-2 0-4-1-6-2-2-4-1-5-8 0-7-6-4-2-3 0-4 0-2 4-3 3 1 6 6 7 4 3 2 0 3-4 6 0 6 2 2 7 3 3 4 0 2-2 3-6 5-1 8-3 4-3 1-7-5-3-1-3 1-2 6-5 5 2 9-1 2-3 0-6-5-4-1-7 5-6 2-4 4zM35 310l-6-1-3-3-1-5 1-7-1-3-12-4-4-4-3-1-2 1-4 9 2 2 9 1 3 2 2 3-1 3-4 5-2 1-2 0-4-4-10-14-5-5-1-4 6-3 10-1 5-7 3-6 4-2 4 1 3 3 0 3-1 2-7 4-1 3 2 1 9 1 7 5 6 2 1 5-1 8 1 6-1 2zM244 277l-9-1-2-1-2-4 1-5 2-1 3 0 7 4 2 4-1 3zM85 282l-10-2 4-6 3 0 3 1 1 2 0 4zM174 297l7-4-8-6-1-2 1-4 0-2-18-5-4 1-2 1-1 4 5 10 3 1 6 0 7 6zM178 310l7-4 11 3 3 0 2-6 7-4 7-9 0-2-4-3-5 0-4 3-1 4-2 3-4 1-6 0-5 7-11-2-3 1-3 2 1 3 3 3 3 1zM87 406l-18 0-1-2 1-2 12-7 1-2-2-1-12 1-1 2-1 5-2 2-5 3-8 1-59 0 0-2-3-2-8 1-8-2-4 2 0-10 4 1 6-1 8 2 8-7 1-2-2-5 0-3 7-11 0-2-4-2-7 4-5 0-2-2-4-6-3-3-2 0-2 2-3 6 0-26 3-1 2 1-1 3-3 4 0 3 2 4 4 3 7-5 2-7 3-7 0-1-3-1-9-1-5-3-2-1 0-6 4 2 17 0 3-1 1-3 0-2-3-2-14-2-5 1-3 2 0-8 8 0 3-3-1-2-10-6 0-9 7-1 3 0 3 6 5 4 1 7 9 7 7 2 3 5 6 5 1 1-1 2-4 2-12-1-4 2-2 2 0 2 10 5 1 3-3 3-10 3-3 2 0 2 3 3 6 4 2-1 5-7 3-3 5 0 3 5-1 4-7 7 0 2 4 4 0 3-7 13 2 3 1 0 6-1 1 1 0 2-2 3-5-4-2 1-5 6-1 3 0 2 5 1 6-2 6 3 3 1 2-2 3-5 4-2 7 5 4 1 2-2 2-6 2-3 3 0 4 6 3 0 5-4 4-8 6-4 5 0 10 3 6-1 2-2 0-3-2-4-3-4-3 0-4 1-10 5-6 0-2-1-1-2 1-8 0-2-4-2-5 0-3 1-2 2 0 3 3 6 0 2-2 9-1 1-2 0-5-3-3-6 2-15 8-8 3-1 6 0 5 1 3 2 1 2-1 6 4 2 6 1 10-1 10 0 3-1 2-3 1-3 1-6 4-6 2-1 3 0 3 4 0 4-5 6 0 5-1 1-7 4 0 4 3 3 2 1 2-1 5-4 1-7 5-2 2 0 5 5 1 2 0 2-3 3-9 7-2 0-7-2-10 4-2 2-1 7-4 6zM228 365l4-5 0-3 0-2-4-2-5-1-12 2-1-3 0-3 3-3 12-3 3-2 1-6 3-6-2-8 7-1 8 3 3-3 1-4-1-2-7-1-2-1-3-5-6-5 1-6 0-2-5-3-4-1-3 2 3 9-1 2-9 4-10 7 1 7-4 5-1 3 2 4 5 4 1 4-2 4-4 1-4-1-4-8-3-2-3-1-5 2-8 2-4 6-1 1-7 0-3 0-3 4-2 7 1 2 3 2 12-1 0-5 2-4 14-6 5 3 3 6 2 2 6 1 10-1 12 10 3 1zM217 335l-8 0-1-1 0-2 2-5 5-5-2-5 1-4 3-4 4-1 4 2 4 9-10 4 3 9-2 2zM29 394l-2 1-2-1-7-6-1-2 3-9-2-9 0-9 6-8 2-4 0-2-2-2-2-1-7 3-3 0-3-3-1-3 1-2 2-1 8-1 9-1 4-2 1-2-2-3-4-3-10-3-4-8 0-1 2-1 7 1 7 4 7 0 2 2 1 3 0 13-6 5-2 4 2 3 7 5 0 2-3 4-11 2-2 2 4 8 0 11 5 6 1 2-1 4zM143 318l-2 0-2-1-1-1 0-2 3-1 3 1 1 2zM183 328l11-5 1-2-1-2-4-2-7 0-10 2-3 1-1 2 0 3 4 2 5 2zM87 361l-3 0-10-5-2-4-6-5 0-2 0-2 4-1 7 2 12 7 1 2 0 3-1 3zM247 354l-3-2-2-4 1-1 8 1-1 3zM197 393l8-7 9-1 7-5 0-2 0-2-5-8-3-3-3-1-10 0-9 2-3-3-1-7-3-2-5 0-7 4 0 1 6 5 1 3 0 14 3 8 2 2 6 0 5 3zM261 380l2-1 1-2-1-3-2-2-9 0-9-5-3 0-4 1-4 2-1 2 0 3 2 2 16 0 8 3zM205 384l-5-1-6-2-5-5 1-3 2-1 12-1 4 1 1 2 0 2z" fill="#fab9af" fill-rule="evenodd"/></g>
<path d="M26,2.6 C29,0 35.5,-0.8 38.5,1.2 C40.5,2.6 41.5,5.8 44.5,6.4 C48,7.1 52,6.8 55,8.3 C58,10 60,12 60.5,16 C61.6,24 61.6,36 60.6,46 C60.1,50 58.8,53 58.3,57 C57.5,64 58,73 57,81 C56.6,85.5 55.5,88.5 52.5,90.3 C50,91.6 47.5,92.4 45,92.7 C41,93.3 36,93.5 32,93.3 C26,93 20,91.5 15,89 C9,86 4.5,83 3,78 C0.8,71 -0.2,63 0.1,56 C0.5,48 2.5,40 5,33 C8,25 11,18.5 15,13 C18.5,8 22.5,4.8 26,2.6 Z" fill="none" stroke="#b3181d" stroke-width="1" opacity=".9"/>
</g>
<g transform="translate(672 503)">
<path d="M26,2.6 C29,0 35.5,-0.8 38.5,1.2 C40.5,2.6 41.5,5.8 44.5,6.4 C48,7.1 52,6.8 55,8.3 C58,10 60,12 60.5,16 C61.6,24 61.6,36 60.6,46 C60.1,50 58.8,53 58.3,57 C57.5,64 58,73 57,81 C56.6,85.5 55.5,88.5 52.5,90.3 C50,91.6 47.5,92.4 45,92.7 C41,93.3 36,93.5 32,93.3 C26,93 20,91.5 15,89 C9,86 4.5,83 3,78 C0.8,71 -0.2,63 0.1,56 C0.5,48 2.5,40 5,33 C8,25 11,18.5 15,13 C18.5,8 22.5,4.8 26,2.6 Z" transform="translate(3.2 3.4)" fill="#7d6c62" opacity=".5" filter="url(#sh)"/>
<path d="M26,2.6 C29,0 35.5,-0.8 38.5,1.2 C40.5,2.6 41.5,5.8 44.5,6.4 C48,7.1 52,6.8 55,8.3 C58,10 60,12 60.5,16 C61.6,24 61.6,36 60.6,46 C60.1,50 58.8,53 58.3,57 C57.5,64 58,73 57,81 C56.6,85.5 55.5,88.5 52.5,90.3 C50,91.6 47.5,92.4 45,92.7 C41,93.3 36,93.5 32,93.3 C26,93 20,91.5 15,89 C9,86 4.5,83 3,78 C0.8,71 -0.2,63 0.1,56 C0.5,48 2.5,40 5,33 C8,25 11,18.5 15,13 C18.5,8 22.5,4.8 26,2.6 Z" transform="translate(.35 .35)" fill="#e0393d" stroke="#f8a9a1" stroke-width="3.3" stroke-linejoin="round"/>
<path d="M26,2.6 C29,0 35.5,-0.8 38.5,1.2 C40.5,2.6 41.5,5.8 44.5,6.4 C48,7.1 52,6.8 55,8.3 C58,10 60,12 60.5,16 C61.6,24 61.6,36 60.6,46 C60.1,50 58.8,53 58.3,57 C57.5,64 58,73 57,81 C56.6,85.5 55.5,88.5 52.5,90.3 C50,91.6 47.5,92.4 45,92.7 C41,93.3 36,93.5 32,93.3 C26,93 20,91.5 15,89 C9,86 4.5,83 3,78 C0.8,71 -0.2,63 0.1,56 C0.5,48 2.5,40 5,33 C8,25 11,18.5 15,13 C18.5,8 22.5,4.8 26,2.6 Z" fill="#e0393d"/>
<g clip-path="url(#mc)"><path transform="scale(.25)" d="M278 406l-25 0-1-6-6-7 2-2 7-3 3-2-4-3 1-6-1-3-3-4-4-1-10 0-8-2-4 1-2 2 2 9 6 6 1 3 0 2-4 4 1 6 0 1-1 1-9 1-2 3-30 0 2-4 8-2 1-1 0-2-3-7-5-6-1-7-2-2-3 0-1 0-3 7-7 4-1 7 2 2 2 0 2-1 4-4 4 0 2 1 1 2-1 3-1 2-6 3-6 5-22 0 0-3 1-1 9-3 0-2-5-3-2 0-5 4-2 0-13-4 2-6 10-2 1-1-3-5 5-6 2-3-3-4-5-1-3 0-2 2-1 5 2 6-4 6-3 1-10 2-1 1 1 3 2 2 9 1 2 5 5 4 0 2-14 0-2-5-3-3-9-2-8-4-6-9 0-1 2-1 14 1 4-3 9-1 3-1 1-2-1-2-3-4-2 0-12 2-15 6-7-2-2 2-1 6-3 4 0 6-1 2-7 5-9 3 0 3-14 0 12-3-3-6 0-3 9-3 1-2-2-5 0-2 6-4 4-7 8-3 0-1-2-2-7-3-2-2 1-1 6-1 9-6 2-2 1-5-7-6 9-2 8-5 2-3 2-8 2-2 3 0 11 6 3-9-2-3-6-3-3 1-6 4-9-1-2 1-1 1 2 6-1 4-2 2-6 1-3 3-2 3 1 4-4 1 1 7-2 3-4 1-4-1-5-3-2-2 0-1 5-6 6-2 1-9 3-3 7-5 2-2 0-2-4-3-3-7-2-3-11-2-4-5-4-1-5-4-7-1-5-5-4-1-4 1 0 3 3 4 6 4 1 2-1 1-6 0-1 1-1 2 8 7 3 1 3 0 2-2 0-6 4-2 4-1 3 3 2 7 14 5 1 1 0 1-4 4-9 5-3 7-9 1-3-3 0-2 2-3 8-2 2-1 0-3-2-4-2-1-2 1-5 6-2 1-2 0-14-9-1-6-2-2-5-1-4 1-1 2 0 3 2 2 7 3 1 7 1 3 3 1 10 0 3 3-2 4-7 5-1 2-2 8 3 4 0 5 0 5-3 6-2 1-5-1-3-3-2-6-5-2-4 2-4 7-3 1-3-1-2-2 0-2 6-6 1-4-2-3-5-1-3 1-1 1 0 10-1 2-12 8-4 1-7 1-2 3 1 3 2 2 7 0 2 6 2 2 3 2 4-2 3-3-6-6 0-2 2-3 3-1 3-1 7 3 2 1-7 8 0 2 5 5 5 8 3 1 5 1 1 1 0 1-2 4-11 0 0-2-2-2-13-9-2 0-3 3 4 5-1 5-28 0 8-1 3-1 6-6 1-3-2-7-4-4-4 0-10 4 0-11 3-3-1-2-2 0 0-6 3 0 6-1 4 0 4-1 7-1 1-1 1-2-1-6 6-6 2-4 11-5 12 1 5-4 9 0 2-1 1-2-1-3-3-2-9 4-12 3-3 0-5-4 9-7 9-1 4-2 1-2-2-3-2-2-4 0-4 1-3 6-2 1-6 0-3-2-2-3-3 1-8 5-1 2 0 2 3 3 7 3-5 7-2 1-11-2-3-5-2-8-9-3-1-1 0-2 1-2 2-1 5 0 3 1 3 5 3 0 2-1 0-5-6-5-4-7-8-4-1-2 1-2 6-4 4 0 5 1 2-1 1-2-4-4 0-2 3-2 8-3 0-2-2-6 1-3 2-2 10-7 5-7 10 1 6-2 4 4 1 1 4 0 6-1 5 5 8 0 7-3 8-1 2-3 2-6 2-2 5-1 10 0 3-2-2-3-5-4-3-1-4 0-10 7-4 4-12 6-11 4-3-7-4-1-8 2-10-11-3 1-5 4-5-2-5 6 3 5-1 4-4 2-8 3-7 4-1 1 3 5 0 3-8 8-8 4 0-8 3-2 3-6 5-5-2-2-3-1-3 1-3 2 0-16 8 1 1 8 3 1 6-2 7-7 1-2-2-1-3-1-7 3-5 0-1-1 0-5-2-2-6-3 0-8 5-1 1-1-2-6 1-4 13-10 4-7 3-2 5 1 8 5 5-2 3-3 3-10 4-2 10 2 8-3 9 3 9-3 5 0 4 1 5 3 8 0 10 3 4-1 4-3-3-3-10-4-12 0-6-5-10 3-17 2-11-3-5-4-7-2-2 0-2 3 3 6-2 4-9 5-13 3-4-2 0-9-2-3-4-2-7-4-3-1-2 2 2 5 4 5 2 5 6 3 1 2-2 4-4 3-3 1-7-1 0-5 2-5 0-1-2-2 0-22 3 0 6-4-4-6-1-5 3-2 5-1 5 5 3 0 2 0 5-5 3-2 8 1 5-1 3-2 1-2 2-9-1-2-3 0-5 6-12 4-8-1-4-3-2-1-2 1-7 6-5-1 0-9 7-4 11 0 2-2 1-3-1-3-7-1-8-2-5 0 0-33 8-3 5-5 12-4 5-1 1-1-2-2-14-3-4 4-8 2-3 4 0-17 2-1 0-1-2-7 0-9 2-2 9-1 6-4 6-1 7-4 9 0 2 1 1 3-1 3-4 3 2 4-2 2-3 2-2 0-5-5-3 0-13 4-2 2 1 3 4 3 13-4 3 1 6 2 10-1 4 2 1 2-1 4 5 4 4 1 3-2 1-2-1-2-8-4-1-1 0-4-1-2-7-3-2-2 2-1 7-1 1-2 1-3-1-3-2-3-10-3 0-3 4-6-2-2-4-2-3 0-3 3-4 5-2 1-6-1-6 7-5-1-3-2-2-4-4-3 0-1 4-4 3-1 3 0 5 1 4 3 1-1-3-4-2-7-2-1-3-1-11 4 0-23 2 2 4 9 2 2 3-1 4-5 5 0 4 2 2 4-2 6 1 5 2 3 3 0 4-1 1-2-1-2-4-5-1-3 1-2 5-4-2-2-8-2-7-6 5-3 5 0 9 5 9 0 3 1-2 3-10 5 7 12 6 5 1 6 6 5 4 6 4 13-6 5-1 2 1 2 7 6 1 0 2-9 0-5 5-7 1-3-7-9-7-4-1-4 1-4 5-3 1-2 1-11 1-6 0-1-5-1-10 1-2-2 2-3 5-6 11-1 1-2 0-7 31 0 1 2-2 2-7 1-10-1-5 5 0 1 2 1 10-1 5 1 3 1 2 3 2 7-2 7-2 2-4 1-5 0-5-3-1-3 6-4 0-2-2-2-10-4-3 1-3 3-1 3 3 4 1 4 7 6 1 2 0 2-2 2-9 4-1 3 2 4 3 2 5-1 5-8 6-4 4 0 4 1 3 3 0 3-2 4 9 3 1 1-1 3-4 4-4 3-3 1-3-3-2-5 2-3 3-3-5-1-5 2-2 2-1 5-5 12-7 4-2 2 2 3 6 2 3-2 1-7 3-3 10-2 8 3 5 0 2-2 2-6 2-2 4-1 6 2 4-1 3-2 0-2-2-2-9 1-9-4-1-8-4-9 1-2 2-2 8-2 2-5 2-2 3-1 4 0 2 2 0 4-1 2-6 4-5 9 5 6 5 4 5-1 4-2 1-3-8-5-1-2 0-2 4-6 8-4 2-3-8-6-1-7 4-3 1-3-2-3-6-4 16 0 1 4-2 11 1 3 2 0 5-1 2-2 1-15 12 0-4 3 0 2 3 4 4 1 2-1 2-6 2-2 1-1 7 0 0 2 2 3 5 3 2 2-3 4-1 5-6 0-10-3-4-1-8 2-1 1 0 2 1 4 2 2 3 0 7-1 4 1 2 3-1 5 1 2 8 4 7-2 9-3 8-3 6-4 2-3-2-3-4-4-3-1-4 0-2 1 1 5-1 3-7 2-6 4-4-1 0-2 2-5 1-4 10-4-3-6 0-1 13-6 3-3 9 0-7 6-1 4 0 2 1 2 6 0 5-2 2-6 4-6 12 0-2 3-5 5-1 3 7 6 2 6 2 2 9 1 4 2 1 4-4 7-1 1-4-2-9-6-4 1-6 3-5-3-4 0-16 10-1 3 2 4-5 1-5-2-4 1-6 4-4 6 0 3 2 5-1 5 8 6-1 3 1 3 3 2 13 7 10-6 0-4-1-1-9-1-10 1-5-4-1-1 2-2 2-1 6 1 2-1 1-2-1-3-3-3-9-2-2-1 0-3 2-3 3-2 3 0 6 4 8 3 2 4 0 7 4 6 2 0 1-1 2-3 0-6 0-1 2 0 5 4 6 12 3 1 4-1 2-2 0-2-4-3-3-5-5-5-4-6-7-3-9-3-5-6 10-3 9-5 2 0 5 4 10-2 7 3 2 1 1-1 1-5 1 0 10 3 9 8 3 0 4-3-2-4-7-7-3-7-5-5-3-6-12-4-4-2-1-3 2-6 3-2 5 1 8 13 2 1 5-2 4-4 8-2 6-8-1-3 16 0 0 2-3 0-3 2 0 7-1 3-11 0-2 1-6 7-2 4 1 2 2 2 7 1 2-2 0-5 2-3 9-5 5 1 0 12-5-1-2 1-2 2 1 2 2 2 6 1 0 7-5 2-6-2-2 0-4 8 3 5 0 2-2 3-4 2-3 0-5-4-6 1-5-3-3 0 0 2 1 2 5 1 2 2 1 3 0 3-6 0-11 3-2 2-3 6 5 2 14 0 2-2 0-5 2-4 5 0 7-5 12 2 3-8-4-5 0-3 3-3 2 0 4 1 0 20-6 0-1 1-1 2 2 2 6 2 0 4-3 3-1 2 4 6 0 20-6 2-2 2 0 2 3 5 0 2-7 5 1 5-4 4-1 9-5 5-1 4 1 2 2 0 2-1 4-6 12-1 0-2-8-12 1-1 5-3 3-3 0 29-8 2-3 3 1 2 2 2 5 1 3-1 0 5-3 1-1 2 0 2 4 3 0 6-5 2-5 0-1-1-1-5-4-3-7 3-9 0-8 1-3-1-5-4-5 0-3 1-2 6 2 3 6 5 0 2-2 2-4 3-2 0-14-5 4 6 10-1 4 4 0 3-11 8-3 7 1 6-2 1-4 1 0 1 0 1 5 2 3 3 1 3 1 5 2 3 3 2 6 3 3 2-6 7-2 0-2-1-6-5-7-3 2-7-2-2-6-3-2-2-7-2-3 2 2 2 6 2 2 6 4 4-5 6 0 3 3 2 10 0 2 2 0 6 1 1 3 1 3-2 4-7 3 1 6 2 0 2-3 6-1 6-4 2-4-1-5-2-5-5-7-1-11-5-4-4-10 4-10-1 1-5 2-3 6-2 7-1 6-4 1-3-3-3-5-1-11 3-3 8-4 1-6-1-3-3 1-5 5-5 0-1-3-3-3-1-3 1-5 4 0 3 6 17 4 2 10 2-1 6-5 5-1 2 1 3 3 3 4 1 5-2 1-2 0-5 5-3 5-4 4-1 2 1 4 9 8 2 9 6 9-2 3 0 9 6 2-2 2-9 7-9-7-7-3-6-4-6 1-4-4-8-5-5-3-5-5-4 0-1 5-5 6-8 6-5 3-3 0-4-4-9 4-4 3 0 10 2 8-4 4 0 4 1 1 1 1 3 7 2 6 2 0 23-6-1-2 1-1 2 3 7 3 2 3 1 0 17-5 4-4 2-4 4-4 2-5-2-5-9-10-7-2 0-1 1-3 6 11 7 5 8 0 3-4 5 0 2 8 6 9 2 3 3 0 4-4 3 4 6 0 2-4 6 1 4 2 2 7-5 5-1 0 11-4 2-6-1-2 1-3 4-3 7 2 2 4 1 2-1 1-2 3-2 6 1 0 11-4-1-2 0-1 6 1 3 6 2 0 12-3-2-8-2-3-7-12-11 1-2 4-6-7-6-1-5 2-3 5-6 3-6-1-2-5-7 0-3 2-4-3-3-2 0-2 1-2 5 1 3 2 4 1 3-3 9-1 1-7 3-4 8 1 3 7 2 2 1 2 5 0 3-2 1-3 1-8-2-2 3-3 2-11-3-4 1-1 2 0 3 3 2 9 0 3 1 1 2 1 3-1 2-1 1-9 1-10-2-2-2-3-6-4-5-1-2 1-1 5-2 7-6 9 0 5-2 1-2-2-5 2-5-2-3-5 0-5-2-2 0-1 2 0 2 7 2 3 3-8 3-10 1-2 2-2 7-2 3-3-3-1-7 6-6 2-4-3-3-5-3-18 6-8 7-8 3-1 2 1 2 2 2 10 5 6-2 12 6 1 2 1 6 9 6-2 6 1 2 1 1 5 1 8-3 14 2 2 0 1 3-1 6-9 3-2 3 0 4 2 2 14 1 10-1 15-5 7-3-1-3-7-7-9 4-4 7-5 4-5 1-3-2-2-4 1-3 7-3 7-5 1-2-1-2-3-2-7 3-3-1-1-1 0-3 0-2 5-2 1-1 0-6 1-2 7 0 5 3 1 2 2 7 5 8 1 0 4-2 3 0 8 3 1 2 1 6 1 1 0 10-2 1 2 3 0 8-7-4-3-5-9-1-2 2 2 3 6 7 1 3 0 3-5 6 3 0 14-7 0 21-3-2-2-6-2-1-4-1-3 1-2 2-1 3 1 3 2 2 8 3zM25 6l-5-1-3-3 1-7 2-3 2-1 1-1 2 2 4 6-1 5zM208-1l3-2 0-3-2-2-4-1-3 3 1 3 2 2zM136 17l3-2 0-3-6-6 0-8-5-2-7 1-1 1 0 2 5 8 2 7 4 2zM99 88l4-3-5-6-1-3 2-3 5-4 6-1 6 2 9 0 2 2 1 5 3 0 2-1 7-7 1-5 2-2 12-1 3-2 0-3-5-6 1-2 3-5 1-1-2-1-6-2-4 1 0 3 3 7-2 3-4 2-2-1-3-6-5-4 0-2 3-6 0-5 5 2 3-1 5-7 8-5 0-2-1-2-4-2-6 0-1 1-2 6-5 5-3 5-6-4-7-9-4-1-2 4-3 4-1 2 3 2 9 1 4 2 1 2-2 3-3 2-4 0-7-3-3 0-2 1-3 5-1 0-10-5-2 2-3 5-8 1-5 6-1 3 1 2 7-2 9 3 6-1 2 1 2 3 1 3-3 2-12 0-4 1 0 2 2 5 0 2-8 3-3 3 1 2 2 1 9-1 8 5zM224 38l2-2 1-4-1-3-3-5-4-2-7 2 0 2 4 5 3 6 2 1zM135 65l-3 1-11-5-7 3-2 0-2-3 2-6-1-2-4-2-8 2-4-3-2-3 2-1 8-2 3-2 11 0 3 0 3 3 0 3-8 6 4 2 7-4 4 1 5 3 2 4 1 3zM263 59l5-2 3-2-2-7-2-2-4 0-4 2-7 7 1 2 2 2zM64 77l6-3 5-8-1-2-7-2-3-2 1-3 2-5-1-3-2-1-2 1-8 9-15 2-2 1 2 2 2 2 6 2 5-2 3-6 7 2 0 2-2 12 1 2zM227 91l3-1 2-2-1-5-1-3-9-8-9 0-2-3-1-7-2-3-7-1-4 1-1 2 1 3 6 7 3 8 5-2 2 0 7 7 3 6 2 1zM237 68l3-2 0-2-2-2-3-2-7-2-3 1-2 2 0 4 2 2 7 1zM11 71l4-4 1-3-4-1-4 0-2 2 0 3 2 2zM272 75l3-2 0-2-1-3-2-2-6 0-9 4-1 0-5-6-3 0-2 2 0 2 2 2 7 1 5 4 8 1zM173 80l1-4-2-5-5-5-3-1-4 5 0 2 6 8 4 1zM178 85l5-2 8 0 2-1 1-2 0-3-4-6-4-2-3 2-4 8-4 3 1 3zM164 122l3-1 2-3-1-4-3-6 1-3 3-3 10-6 0-3-2-3-2-1-10 5-3 1-1-2 0-7-7-3-2-3 0-3 4-5-4-2-5 0-2 2-1 5-9 11-2 1-7 1-2 3 3 2 6 1 13-8 3 0 2 1 6 10 0 10 2 6-1 5 3 2zM25 114l2-3 0-8 2-3 2-1 2 1 8 5 3-1 5-4 4-2 11-7 3-5-1-4-5-3-4 2-3 5-1 7-2 3-3 1-10-4-1-1 8-7 1-5 3-5-2-2-5 0-2 1-3 5-4 5 0 4 1 4-2 1-12 2-2-2-1-9 9-6 1-3-2-2-13-1-4 7-4-1-2 1-3 5-2 2-9 2-8 1-4 5 0 2 2 1 8-3 8-1 3-1 4-5 4 0 2 2 6 8 7 15 3 2zM114 87l5-2 2-3-2-4-4-4-4 2-6 8 0 1 3 2zM255 86l0-4-4-5-6-3-3 1-2 1-1 4 2 4 2 2 8 1zM217 111l3-3 1-2-1-2-2-2-7-3 0-3 2-4-1-2-5-2-4-1-1 1 1 6-5 6 0 2 2 1 6 1 6 7 2 1zM98 139l4-5 4-3 4-5 2-1 6 0 3-3 0-3-2-6 2-15-1-3-6-1-5 2-1 3 6 14-2 2-6 2-3 2-2 3-3 6-3 2-4 0-2-2-2-6 0-4 2-3 10-4 1-3-1-10-7 0-4-4-11-6-3 1-2 2 0 3 1 3 2 2 9 1 2 1 0 2-1 10-8 6-4 0-3-2-1-2 5-7 0-3-1-3-2 0-2 0-6 5-2 1-8-4-2 0-1 2 0 2 1 2 3 2 7 2 3 2-1 7-1 2-4 0-6-6-13-5-20 5-3 2-2 4 1 3 4 2 2 0 3-1 4-6 2 0 6 2 5-2 3 0 4 2 5 6 3 1 5-1 5-4 9-2 4 2 3 6 1 1 11 5zM255 106l8-6 2-2-4-7-3-3-2 0-2 1-1 3-1 11 1 3zM236 108l4-3 3-4-1-4-2-4-3-3-3 1-4 7-2 4 1 3 2 2 2 1zM184 111l1-1 1-4 5-4 1-2-2-8-2 0-3 3-1 7-1 2-6 4 0 2 2 1zM-18 113l4-2 4-5 5-3 1-1-1-1-4-2-7 1-13 9 1 3 3 2zM154 319l4-2 0-2-2-3-6-5-4-6-13-8-2-9 0-2 2-2 15-5 7-5-2-5-1-4-1-2-11-5 0-4-5-3-1-3 0-5 1-3 2-1 4 1 2 1 2 3-3 9 3 1 6 0 2-1 1-2-3-9-4-6-10-5-4-5-8-7-3 0-2 1-5 11-2 2-4 1-4-1-1-2 3-10 2-2 5-3 3-4 12-4 3-2 7-10-1-4-4-5 0-1 2-1 6-2 4 1 5 8 6-3 3-2 0-2 0-5 10-4 1 2 1 10-1 2-4 2 0 2 6 2 7 8 5 2 1 0 0-2-4-7 0-2 1-2 4-2 4 0 2 2 1 6 1 2 3 1 4 1 1-2-3-7 0-2 8-4 2-2 0-3-1-3-2-2-3 2-8 5-8 1-3 0-4-3 0-8-1-2-2-1-6 1-3-3-2-1-4 1-3 2-2 3 1 4-3 1-8 1-4-5-2-2-13 7-8-1-12 2-3-2 0-2 3-6 0-9-2-2-8-3-1-2 0-2 5-1 5 0 9 3 8 4 4 0 6-2 6-1 4-3 1-3 0-2-3-3-11-8-1-2 1-2 5-3 4 0 3 1 1 2 1 7 2 2 4-2 5-4-1-3-5-4-1-4-4-4-1-4-4-6-1-6-3-3-3-1-3 3-1 9 1 2 5 4 1 3-2 2-7 5-2 4-4 4-2 3 1 2 2 2 12 4 0 3-1 3-4 0-7-2-9-6-13 0-3 1-1 5-6 3-4 5-3 2-2 0-2-2 0-3 5-6 0-2-3-2-4 0-3 4-6 3-1 2 4 9 3 4 0 2-2 5 1 2 9 3 7-2-6-6 0-3 6-5 6-3 2 2 1 5-1 7-5 3 1 2 5 2 8 0 9 6 4 0 9-3 1 9-2 4-4 2-6 1-3 8-11 3-2 6-6 6-4 2-6-2-4 4 3 2 10 4 7 5 3 1 9-3 4-6 4-2 6-1 3 1 2 2 1 3-1 2-12 4-3 6 1 1 8 2 4 2 2 4-1 3-3 4-12 5-1 3 2 3 3 1 6-5 3-5 3-1 9 3 2 1 0 2-2 2-7 3-5 5-7 0-2 1 1 7-2 6 0 4 1 1 1 0 7-1 3 0 2 3 3 2 2 3 1 6 0 6 1 2 4 2zM153 102l0-1-2-1-2 1 0 1 2 1zM6 114l2-1 1-2 1-4-1-2-5-2-6 0 4 9 2 2zM191 132l9-2 3-9 0-2-3-4-2-5-2-1-3 0-4 1-2 1-1 2 1 3 7 6 1 2 0 2-3 0-5-1-6-6-5 1-4 4 0 3 2 1zM222 133l2-2-1-8 5-5-1-3-3-2-4 1-4 2 0 6-5 7 0 2 4 2 3 1zM243 123l5-2 3-3 0-3-1-2-9-1-4 2-1 3 2 3 3 3zM4 133l3-2 1-2-1-2-5-4-1-6-3-2-5 1-2 3-1 4 8 3 0 2 0 3 0 2 3 1zM246 133l2-3-2-2-4-3-3 2-1 3 2 3 3 1zM51 139l-1-5-8-3-5-3-2 0-3 3 0 1 2 1 8 2 8 5zM75 142l2-1 1-4-1-2-3-1-5 0-3 1-4 5 1 2 2 0zM261 146l2-2 1-3 0-2-2-1-4-1-12 0-12-3-3 0-2 2 2 4 6 4 10-1 10 4zM211 155l10-7 1-2-1-3-3-2-8 1-8-6-3 0-2 2 0 2 4 8-1 4 2 2 4 2zM195 174l3-2 4-6-5-2-8 0-2-2-1-6 9-4 0-1-6-2-1-1 0-6-1-3-4-1-8 2-4-3-2-1-6 2-2 3-2 8-1 4 1 2 5 2 4 0 1-2 2-8 2-4 2 0 4 4 6 4 1 3-1 2-9 4 1 3 3 3 5 0 6 7 2 1zM54 157l4-4 1-3-8-10-6 7 1 9 0 1 2 1zM3 185l3-2 1-3-6-6 0-3 2-4 3-2 4-1 3 2 4 4 4-1 4-4 0-11 9-2 3-2 2-4-2-3-4-1-5 1-4 3-1 7-11 5-10 1-7 2-2 2-2 5 1 9 9 7zM145 167l6-3 2-2 1-3-1-2-4-2-5 0-6 5-1 3 2 2 3 2zM123 170l3-3 2-3-2-3-4-2-4 3-1 4 1 3 2 1zM50 176l14-7 2-2 1-2-3-2-5 0-2 0-6 5-5 1-6-1-5-5-4 0-4 2 3 5 4 3 10 4zM249 178l11-4 0-5-11 0-4 2-2 3 0 2 2 2zM240 211l4-4 4-9 9-3 7-4 0-2-1-3-3-1-9 0-6-3-3 0-3 2-3 6-7 4-1 3 5 6 0 6 4 3 2 0zM171 218l1-3 3-4 0-2-9-12-3-1-8 3-2-2-2-8-1-1-6 4-1 3 3 9 8-1 4 3 7 3 2 1 0 2-2 4 4 3 1 0zM87 216l3-5 3-3 10-4 4-6 8-1 1-2-1-3-2-1-3-1-9 2-1 3-2 2-9 4-9 3 2 4-1 1-7 1-2 1-1 2 1 3 1 1 8-2zM244 197l-4 0-1-2 2-3 4-1 2 1 0 2-1 2zM41 204l4-2 1-2 0-1-1-2-10-1-3 2-1 3 1 2 5 2zM58 213l5-2 1-1 1-2-3-5-1-4-3-2-3-1-2 2 1 4-4 5-1 3 3 3zM67 240l0-2-4-5 0-2 4-2 9-1 2-2-6-8-10 2-6 0-7-2-8-1-4-6-7-2-5-4-6 0-3 1-1 2-1 4 2 1 9 1 5 10 8-3 2 1 3 4 8-2 4 2 5 5-3 5 0 1 8 3zM142 215l2-1 1-2 0-8-8 3-3 3 0 2 3 3 3 0zM267 222l1-3-1-5-3-4-2-5-3 0-7 4-1 3 2 3 11 7zM-12 240l6-3 7 1 0-2-6-5 0-2 5-5 1-4 9-6 0-2-3-3-2 0-4 1-3 2-4 5-7 3-2 3 1 6-7 2-1 1 3 7 3 1zM19 232l1-2 0-3-3-5-3 0-6 3 0 2 6 5 3 1zM47 246l5-3 2-4-1-1-8-2-4-5-2 0-7 3-5-4-3 2-3 4 0 1 3 1 8-2 6 5 3 6zM103 272l10-8 1-3 4-4-1-11-8-2-4 2 0 7 4 5 0 2-2 2-7 1-2 3 2 4 2 2zM90 262l5-1 2-2 0-2-2-3-5-2-5 2-2 2-1 3 2 2zM186 277l3-6 6-3 1-2 0-3-4-6-11-2-1 1 0 1 7 2 2 2 0 2-2 2-7-1-2 1-2 4-1 4 1 2 2 1 5 2zM3 308l2-2 2-7 1-1 3 0 4 8 7-3 3-4 0-2-1-1-12-1-5-6 0-2 0-2 4-3 4 1 10 6 2 7 4 1 3-2 0-3-3-5 2-2 7-3-1-4-2 0-6 3-3 1-4-2-4-4 10-7 0-3-4-6-4 0-3 2-5 6-7 0-2 2 0 3 4 3 2 0 4-2 3 1-1 1-7 3-10 3-2 1-1 5 6 4 0 4-7 3-8 0-2 2 1 3 3 2 8 2zM94 299l1-2-1-5-1-2-4-2 1-3 3-4-1-2-6-7-4-9-4-2-5 0-2 4 0 5 2 2 7 3 1 2-1 4-4 5 0 4 2 1 9-1 3 9 2 0zM219 279l4-2 1-1 0-2-4-6-6-3-3 1-5 5-8 0-2 2-1 3 1 3 2 1 5-1 6-4 6 4zM68 285l1-2-4-5 0-6-4-3-3-1-9 3-5-4-3-1-4 1-2 2 0 2 3 3 2 1 7-2 6 4 9 2 3 6zM159 296l10-8 2-5 0-4-4-3 2-4-1-2-3-3-4 1-2 2 7 6-8 7-2 1-6-1-3 0-4 2-2 3 1 2 10 3 5 4zM234 282l4-3 2-4-1-4-5-3-6 6-2 3 3 5zM108 290l4-7 0-2-2-2-7-3-8 5 0 3 1 3 9 4 2 0zM179 307l-2 1-2-3-2-5 1-3 4-2 6-2 3 0 3 1 1 2 1 3zM124 305l0-3-5-5-10-2-2 0-2 4 0 3 3 2 10 1 5 1zM9 313l4-2 1-2-1-1-5 2-2 3zM158 362l0-2-4-5 0-5 1-2 6-5 1-6 3-5 1-7 3-1 8 3 4 0 1-2 0-2-3-4-7-3-5 1-3 2-9 11-3 2-3 0-8-4-9-2-1 1 1 6-1 2-16-2-3 0-2 1-3 7 0 2 1 1 3 0 9-3 5 0 3 2 2 7 2 1 3-1 2-4 1-3-1-6 4-1 5 1 4 4 1 5-6 6-2 4 9 6 3 1zM5 332l-3 0 3-2 2 0 2 1zM169 360l3-1 2-1 0-2 0-5 1-2 11 2 4-2 1-2 1-8 0-2-3-3-4-1-1 2-1 5-1 1-3 0-6-1-2 1-2 3 0 4-4 5-2 5 2 2zM55 403l-9-2-7 2-5-2-1-2 2-4-12-6-1-2 0-7-5-5 0-1 4-5 6 0 4 2 6 12 4 1 4-1 2-2-2-6 0-4 1-1 5-1 10-10-2-6-2-13 1-4 4-2 8 10-2 4 0 2 6 7-3 4 5 6 1 2-2 2-5 2-3 1-9-2-3 1-1 1-1 5 2 3 3 0 7-2 3 2 0 2-4 4-11 2-9 0-4 2-2 2 3 2 5 2 7-3 3 0 2 2 0 2zM39 350l3-2-7-5-5-1-2 0-1 1-1 4 3 3 4 1zM197 366l4-4 6-1 1-1 1-5 4-6-1-3-5-2-4 1-3 3-1 6-1 2-10 2-3 2 0 3 3 2 6 2zM103 366l11-4 3-3 7-4 2-2-1-1-3-1-9-1-10 6-2 2-3 7 1 1zM133 366l3-1 2-2 1-5-1-2-4 0-4 5-1 4 1 1zM176 375l6-1 0-5-2-3-6-1-7 2-7 0-2 2 0 1 2 2 11 3zM208 380l7-5 4-5-1-2-4-2-7 6-8 1 0 2 4 4 3 2zM242 387l-4-1-3-4-1-5 3-3 2 0 4 2 5 6-1 3z" fill="#fbc4ba" fill-rule="evenodd"/></g>
<path d="M26,2.6 C29,0 35.5,-0.8 38.5,1.2 C40.5,2.6 41.5,5.8 44.5,6.4 C48,7.1 52,6.8 55,8.3 C58,10 60,12 60.5,16 C61.6,24 61.6,36 60.6,46 C60.1,50 58.8,53 58.3,57 C57.5,64 58,73 57,81 C56.6,85.5 55.5,88.5 52.5,90.3 C50,91.6 47.5,92.4 45,92.7 C41,93.3 36,93.5 32,93.3 C26,93 20,91.5 15,89 C9,86 4.5,83 3,78 C0.8,71 -0.2,63 0.1,56 C0.5,48 2.5,40 5,33 C8,25 11,18.5 15,13 C18.5,8 22.5,4.8 26,2.6 Z" fill="none" stroke="#b3181d" stroke-width="1" opacity=".9"/>
</g>
</svg>
<div class="ml" style="left:118.0px;top:439.5px">BMS 1<br><span class="q">Quality Grade 1</span></div>
<div class="ml" style="left:224.5px;top:439.5px">BMS 2<br><span class="q">Quality Grade 2</span></div>
<div class="ml" style="left:331.0px;top:439.5px">BMS 3<br><span class="q">Quality Grade 3</span></div>
<div class="ml" style="left:437.5px;top:439.5px">BMS 4<br><span class="q">Quality Grade 3</span></div>
<div class="ml" style="left:545.0px;top:439.5px">BMS 5<br><span class="q">Quality Grade 4</span></div>
<div class="ml" style="left:653.5px;top:439.5px">BMS 6<br><span class="q">Quality Grade 4</span></div>
<div class="ml" style="left:118.0px;top:618.5px">BMS 7<br><span class="q">Quality Grade 4</span></div>
<div class="ml" style="left:224.5px;top:618.5px">BMS 8<br><span class="q">Quality Grade 5</span></div>
<div class="ml" style="left:331.0px;top:618.5px">BMS 9<br><span class="q">Quality Grade 5</span></div>
<div class="ml" style="left:437.5px;top:618.5px">BMS 10<br><span class="q">Quality Grade 5</span></div>
<div class="ml" style="left:545.0px;top:618.5px">BMS 11<br><span class="q">Quality Grade 5</span></div>
<div class="ml" style="left:653.5px;top:618.5px">BMS 12<br><span class="q">Quality Grade 5</span></div>
<div class="t" style="top:729px;letter-spacing:-.23px">Beef Color Standard (BCS)</div>
<div class="circ" style="left:124.4px;top:783.4px;background:#e9451a"></div>
<div class="no" style="left:116.8px;top:869.8px">NO. 1</div>
<div class="circ" style="left:208.7px;top:783.4px;background:#e5261b"></div>
<div class="no" style="left:201.1px;top:869.8px">NO. 2</div>
<div class="circ" style="left:292.7px;top:783.4px;background:#e5221a"></div>
<div class="no" style="left:286.5px;top:869.8px">NO. 3</div>
<div class="circ" style="left:376.7px;top:783.4px;background:#df211c"></div>
<div class="no" style="left:370.9px;top:869.8px">NO. 4</div>
<div class="circ" style="left:460.8px;top:783.4px;background:#df201b"></div>
<div class="no" style="left:457.2px;top:869.8px">NO. 5</div>
<div class="circ" style="left:544.8px;top:783.4px;background:#e1221c"></div>
<div class="no" style="left:540.3px;top:869.8px">NO. 6</div>
<div class="circ" style="left:627.8px;top:783.4px;background:#a51d1d"></div>
<div class="no" style="left:623.7px;top:869.8px">NO. 7</div>
<div class="t" style="top:948.5px;letter-spacing:-.5px">Beef Fat Standard (BFS)</div>
<div class="circ" style="left:124.4px;top:1001.8px;background:#fffefb"></div>
<div class="no" style="left:116.8px;top:1090.0px">NO. 1</div>
<div class="circ" style="left:208.7px;top:1001.8px;background:#fbf8da"></div>
<div class="no" style="left:201.1px;top:1090.0px">NO. 2</div>
<div class="circ" style="left:292.7px;top:1001.8px;background:#fdf4be"></div>
<div class="no" style="left:286.5px;top:1090.0px">NO. 3</div>
<div class="circ" style="left:376.7px;top:1001.8px;background:#fce98c"></div>
<div class="no" style="left:370.9px;top:1090.0px">NO. 4</div>
<div class="circ" style="left:460.8px;top:1001.8px;background:#f5dc6a"></div>
<div class="no" style="left:457.2px;top:1090.0px">NO. 5</div>
<div class="circ" style="left:544.8px;top:1001.8px;background:#f9db4e"></div>
<div class="no" style="left:540.3px;top:1090.0px">NO. 6</div>
<div class="circ" style="left:627.8px;top:1001.8px;background:#fbd13c"></div>
<div class="no" style="left:623.7px;top:1090.0px">NO. 7</div>
<div class="col" style="left:1085.6px">
<div class="l j">Der BMS-Wert wird seitdem durch den Vergleich der</div>
<div class="l j">tatsächlichen Marmorierungsstruktur mit einem offiziel-</div>
<div class="l j">len Fotostandard bestimmt. Dabei werden großflächige</div>
<div class="l j">Fettansammlungen am Rand des Ribeye-Bereichs, also</div>
<div class="l j">intermuskuläres Fett, nicht zur intramuskulären Marmo-</div>
<div class="l j" style="width:96.6px">rierung gezählt.</div>
<div class="l j" style="padding-left:22.3px">Im aktuellen Standard werden für die Rasse Wagyū</div>
<div class="l j">die BMS-Werte 1 und 2 nicht mehr dargestellt, da derart</div>
<div class="l j">geringe intramuskuläre Fettgehalte bei Wagyū de facto</div>
<div class="l j">nicht vorkommen. Ein BMS-Wert von 2 entspricht einem</div>
<div class="l j">intramuskulären Fettgehalt von unter 21,4 %, während</div>
<div class="l j" style="letter-spacing:-0.071px">ein BMS von 1 bedeutet, dass keine sichtbare Marmorie-</div>
<div class="l j" style="width:120.6px">rung vorhanden ist.</div>
<div class="l j" style="padding-left:22.3px;letter-spacing:-0.084px">Die Auswahl der Referenzfotos erfolgte auf Basis des</div>
<div class="l j">Verhältnisses von intramuskulärem Fettanteil (IMF, Fett-</div>
<div class="l j" style="letter-spacing:-0.043px">zu-Muskel-Verhältnis) sowie des sogenannten „Fineness</div>
<div class="l j">Index“, der die Feinheit der Marmorierung quantifiziert.</div>
<div class="l j">Der IMF-Gehalt allein bestimmt jedoch nicht die Qualität</div>
<div class="l j">der Marmorierung. Marmorierung wird im Japanischen</div>
<div class="l j">als „Shimofuri“ bezeichnet, was wörtlich „reif“ bedeutet.</div>
<div class="l j">Feine, frostähnliche Marmorierung wird als „Ko-zashi“</div>
<div class="l j">bezeichnet und ist in Japan besonders hochgeschätzt</div>
<div class="l j">– im Gegensatz zur groben Marmorierung („Oo-zashi“),</div>
<div class="l j">die weniger begehrt ist. Diese Fotos sind als verbindli-</div>
<div class="l j">cher Bewertungsstandard von der Japan Meat Grading</div>
<div class="l j" style="letter-spacing:-0.089px">Association (JMGA) vorgegeben. Das zugrunde liegende</div>
<div class="l j">Bewertungsverfahren ist in mehreren Ländern, darunter</div>
<div class="l j">Japan, patentrechtlich geschützt und könnte sich zu-</div>
<div class="l j">künftig auch als internationaler Standard zur Beurteilung</div>
<div class="l j" style="width:283.6px">der Marmorierung von Rindfleisch etablieren.</div>
<div class="l j" style="padding-left:22.3px">Aktuell erfolgt die Bewertung der Marmorierung in</div>
<div class="l j">Japan überwiegend sensorisch, das heißt durch ge-</div>
<div class="l j">schulte Bewerter anhand visueller Kriterien. Ergänzend</div>
<div class="l j">kommen zunehmend digitale Bildanalysen zum Einsatz,</div>
<div class="l j">um die Marmorierung objektiv zu quantifizieren. Immer</div>
<div class="l j">mehr akkreditierte Bewerter nutzen zur Absicherung</div>
<div class="l j">ihrer visuellen Beurteilung die MIJ-Kameratechnolo-</div>
<div class="l j">gie (Meat Image Japan Camera System), bevor sie eine</div>
<div class="l j">Entscheidung darüber treffen, ob ein Schlachtkörper</div>
<div class="l j">die Premiumklassifikation A5 erhält oder in eine nied-</div>
<div class="l j">rigere Qualitätsstufe eingeordnet wird. Die Marmo-</div>
<div class="l j">rierungsleistung gilt im japanischen und australischen</div>
<div class="l j">Markt als zentrale Determinante für den wirtschaftli-</div>
<div class="l j">chen Wert eines Wagyū-Schlachtkörpers. Obwohl die</div>
<div class="l j">offizielle Klassifizierung weiterhin manuell erfolgt, wird</div>
<div class="l j">die objektive MIJ-Kameratechnologie in Japan insbe-</div>
<div class="l j">sondere zur genetischen Selektion eingesetzt. Darüber</div>
<div class="l j">hinaus kommt die MIJ-Kamera auch bei der alle fünf</div>
<div class="l j">Jahre stattfindenden Zenkyo National Carcase Com-</div>
<div class="l j">petition (Internationale Wagyū-Olympiade) in Japan</div>
<div class="l" style="letter-spacing:-0.045px">zum Einsatz.</div>
</div>
<div class="col" style="left:1461.9px">
<div class="l j" style="letter-spacing:-0.028px">Die neueste Generation der MIJ-Kamera ist Smartphone</div>
<div class="l j">basiert und stellt eine hochauflösende sowie extrem</div>
<div class="l j" style="letter-spacing:-0.022px">schnelle Weiterentwicklung des ursprünglichen MIJ-Sys-</div>
<div class="l j">tems dar. Sie bietet eine sehr hohe Messgenauigkeit bei</div>
<div class="l j">gleichzeitig hoher Mobilität und ist in Japan weit ver-</div>
<div class="l j">breitet im Einsatz. Auch in Australien sowie bei einigen</div>
<div class="l j">Züchtern in Deutschland wird diese Technologie inzwi-</div>
<div class="l j">schen für die genetische Selektion und die objektive Be-</div>
<div class="l j">stimmung des intramuskulären Fettgehalts eingesetzt.</div>
<div class="l j">In Australien fließen die Messergebnisse der Kame-</div>
<div class="l j">ra mittlerweile in die Zuchtwertschätzung (Breedplan)</div>
<div class="l j">ein. Zudem wird die Kamera beim jährlich stattfinden-</div>
<div class="l j">den Deutschen Wagyū-Fleischwettbewerb sowie bei der</div>
<div class="l j">Wagyū Branded Beef Competition der Australian Wagyū</div>
<div class="l" style="letter-spacing:-0.115px">Association (AWA) verwendet.</div>
<div class="l j" style="padding-left:22.3px">Eine der internationalen Herausforderungen bei der</div>
<div class="l j">Anwendung dieser Technologie liegt in den unterschied-</div>
<div class="l j" style="letter-spacing:-0.027px">lichen Schnittpositionen, die zur Beurteilung des Ribeye-</div>
<div class="l j" style="letter-spacing:-0.029px">Querschnitts herangezogen werden. Das intramuskuläre</div>
<div class="l j">Fett ist im Körper ungleichmäßig verteilt, es nimmt in</div>
<div class="l j">Richtung Hals zu und in Richtung Schwanz ab. Wäh-</div>
<div class="l j">rend in Australien und den USA üblicherweise zwischen</div>
<div class="l j">der zwölften und 13. Rippe geschnitten wird, erfolgt der</div>
<div class="l j">Schnitt in Japan standardmäßig zwischen der sechsten</div>
<div class="l j">und siebten Rippe, in Deutschland typischerweise zwi-</div>
<div class="l j">schen der achten und neunten Rippe. Die Vorbereitung</div>
<div class="l j">der Schnittfläche ist in Japan streng standardisiert und</div>
<div class="l j" style="letter-spacing:-0.052px">erfolgt mit einem speziell entwickelten Gerät, sodass alle</div>
<div class="l j" style="width:326.0px">Schlachtkörper identisch präpariert werden können.</div>
<div class="l j" style="padding-left:22.3px;letter-spacing:-0.003px">Der durchschnittliche BMS-Wert variiert in Abhängig-</div>
<div class="l j">keit von Rasse und Region zum Teil erheblich. Während</div>
<div class="l j">Shorthorn- und Holstein-Ochsen in Japan typischer-</div>
<div class="l j">weise einen BMS-Wert von 2 erreichen, lag der Durch-</div>
<div class="l j">schnittswert bei Japanese-Black-Ochsen im Jahr 2023</div>
<div class="l j" style="letter-spacing:-0.080px">bei 6,4. Die japanische Regierung hat in jüngerer Zeit die</div>
<div class="l j">Zuchtziele hinsichtlich der Marmorierung (BMS-Wert)</div>
<div class="l j" style="letter-spacing:-0.013px">neu definiert und legt nun verstärkt den Fokus auf weite-</div>
<div class="l j">re wirtschaftlich relevante Merkmale, darunter Schlacht-</div>
<div class="l" style="letter-spacing:-0.072px">ausbeute, Futtereffizienz und Wachstumsleistung.</div>
<div class="l">&nbsp;</div>
<div class="l">&nbsp;</div>
<div class="l h">Fleischfarbe und Helligkeit</div>
<div class="l j" style="letter-spacing:-0.067px">Die Bewertung von Fleischfarbe und Helligkeit erfolgt auf</div>
<div class="l j">der Grundlage einer kombinierten Beurteilung beider</div>
<div class="l j">Parameter. Die Farbbestimmung wird mithilfe des Beef</div>
<div class="l j">Color Standard (BCS) vorgenommen, einem Referenz-</div>
<div class="l j">modell aus Silikonharz (siehe Abbildung links). Der BCS</div>
<div class="l j">umfasst sieben Stufen – von Stufe 1 (blassrot) bis Stufe</div>
<div class="l j">7 (dunkelrot) –, wobei die Farbintensität mit steigender</div>
<div class="l j">Stufe zunimmt. Für die Beurteilung wird eine standardi-</div>
<div class="l j">sierte Lichtquelle (Taschenlampe) eingesetzt. Als opti-</div>
</div>
</body></html>
